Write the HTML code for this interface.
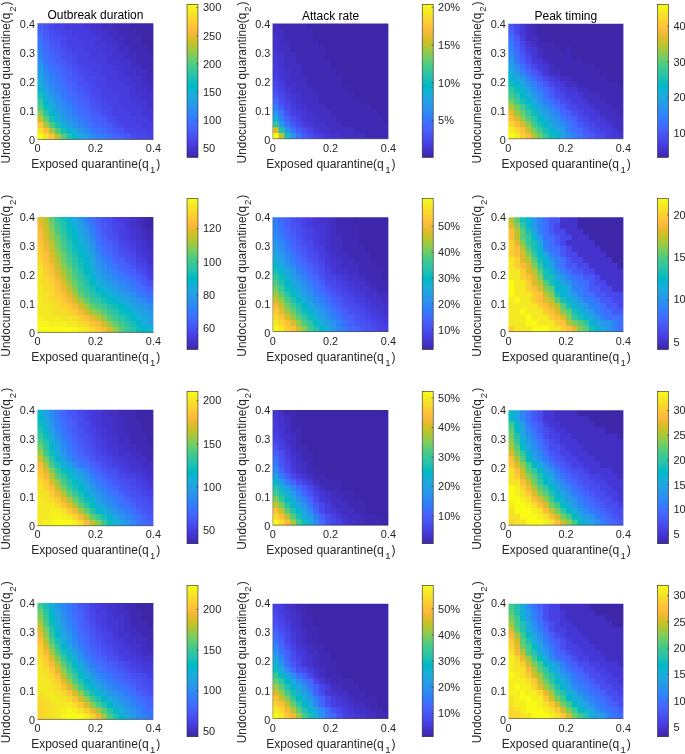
<!DOCTYPE html>
<html><head><meta charset="utf-8"><title>Figure</title>
<style>html,body{margin:0;padding:0;background:#fff;overflow:hidden}body{width:685px;height:754px;position:relative}svg{will-change:transform}</style></head>
<body>
<svg width="685" height="754" viewBox="0 0 685 754" style="position:absolute;left:0;top:0;font-family:'Liberation Sans',sans-serif">
<defs><linearGradient id="pg" x1="0" y1="0" x2="0" y2="1"><stop offset="0.0000" stop-color="#f9fb15"/><stop offset="0.0159" stop-color="#f7f51b"/><stop offset="0.0317" stop-color="#f6ef20"/><stop offset="0.0476" stop-color="#f5e924"/><stop offset="0.0635" stop-color="#f5e327"/><stop offset="0.0794" stop-color="#f7dc2a"/><stop offset="0.0952" stop-color="#fad62d"/><stop offset="0.1111" stop-color="#fccf30"/><stop offset="0.1270" stop-color="#fec934"/><stop offset="0.1429" stop-color="#fec338"/><stop offset="0.1587" stop-color="#febe3c"/><stop offset="0.1746" stop-color="#f8ba3d"/><stop offset="0.1905" stop-color="#f0ba36"/><stop offset="0.2063" stop-color="#e6bb2d"/><stop offset="0.2222" stop-color="#dcbd29"/><stop offset="0.2381" stop-color="#d1bf27"/><stop offset="0.2540" stop-color="#c5c22a"/><stop offset="0.2698" stop-color="#b9c431"/><stop offset="0.2857" stop-color="#abc739"/><stop offset="0.3016" stop-color="#9dc943"/><stop offset="0.3175" stop-color="#8fcb4e"/><stop offset="0.3333" stop-color="#81cc59"/><stop offset="0.3492" stop-color="#72cd64"/><stop offset="0.3651" stop-color="#64cd6f"/><stop offset="0.3810" stop-color="#57cc7a"/><stop offset="0.3968" stop-color="#4acb84"/><stop offset="0.4127" stop-color="#3fca8e"/><stop offset="0.4286" stop-color="#37c897"/><stop offset="0.4444" stop-color="#31c69f"/><stop offset="0.4603" stop-color="#2cc4a7"/><stop offset="0.4762" stop-color="#24c1ae"/><stop offset="0.4921" stop-color="#19bfb6"/><stop offset="0.5079" stop-color="#0bbdbd"/><stop offset="0.5238" stop-color="#02bac3"/><stop offset="0.5397" stop-color="#01b8ca"/><stop offset="0.5556" stop-color="#08b5d0"/><stop offset="0.5714" stop-color="#12b1d6"/><stop offset="0.5873" stop-color="#18addb"/><stop offset="0.6032" stop-color="#1ca9df"/><stop offset="0.6190" stop-color="#20a5e3"/><stop offset="0.6349" stop-color="#23a0e5"/><stop offset="0.6508" stop-color="#259be8"/><stop offset="0.6667" stop-color="#2797eb"/><stop offset="0.6825" stop-color="#2b91ef"/><stop offset="0.6984" stop-color="#2d8cf3"/><stop offset="0.7143" stop-color="#2e87f7"/><stop offset="0.7302" stop-color="#2f81fa"/><stop offset="0.7460" stop-color="#327cfc"/><stop offset="0.7619" stop-color="#3875fe"/><stop offset="0.7778" stop-color="#3e6fff"/><stop offset="0.7937" stop-color="#4269fe"/><stop offset="0.8095" stop-color="#4563fd"/><stop offset="0.8254" stop-color="#465efb"/><stop offset="0.8413" stop-color="#4758f8"/><stop offset="0.8571" stop-color="#4852f4"/><stop offset="0.8730" stop-color="#484df0"/><stop offset="0.8889" stop-color="#4747eb"/><stop offset="0.9048" stop-color="#4741e5"/><stop offset="0.9206" stop-color="#463cde"/><stop offset="0.9365" stop-color="#4537d5"/><stop offset="0.9524" stop-color="#4332cb"/><stop offset="0.9683" stop-color="#422ec0"/><stop offset="0.9841" stop-color="#402ab4"/><stop offset="1.0000" stop-color="#3e26a8"/></linearGradient></defs>
<g transform="translate(37.45,23.3) scale(5.79750,5.81250)">
<path d="M-0.5 -0.5h1.8v1.8h-1.8z" fill="#465efb"/>
<path d="M1 -0.5h1.3v1.8h-1.3z" fill="#4852f4"/>
<path d="M2 -0.5h1.3v1.8h-1.3z" fill="#4747eb"/>
<path d="M3 -0.5h2.3v1.8h-2.3z" fill="#4741e5"/>
<path d="M5 -0.5h3.3v1.8h-3.3z" fill="#463cde"/>
<path d="M8 -0.5h1.3v1.8h-1.3z" fill="#4537d5"/>
<path d="M9 -0.5h2.3v1.8h-2.3z" fill="#4332cb"/>
<path d="M11 -0.5h2.3v1.8h-2.3z" fill="#422ec0"/>
<path d="M13 -0.5h3.3v1.8h-3.3z" fill="#402ab4"/>
<path d="M16 -0.5h4.5v1.8h-4.5z" fill="#3e26a8"/>
<path d="M-0.5 1h1.8v1.3h-1.8z" fill="#4563fd"/>
<path d="M1 1h1.3v1.3h-1.3z" fill="#4758f8"/>
<path d="M2 1h1.3v1.3h-1.3z" fill="#484df0"/>
<path d="M3 1h1.3v1.3h-1.3z" fill="#4747eb"/>
<path d="M4 1h2.3v1.3h-2.3z" fill="#4741e5"/>
<path d="M6 1h3.3v1.3h-3.3z" fill="#463cde"/>
<path d="M9 1h1.3v1.3h-1.3z" fill="#4537d5"/>
<path d="M10 1h2.3v1.3h-2.3z" fill="#4332cb"/>
<path d="M12 1h2.3v1.3h-2.3z" fill="#422ec0"/>
<path d="M14 1h3.3v1.3h-3.3z" fill="#402ab4"/>
<path d="M17 1h3.5v1.3h-3.5z" fill="#3e26a8"/>
<path d="M-0.5 2h1.8v1.3h-1.8z" fill="#3e6fff"/>
<path d="M1 2h1.3v1.3h-1.3z" fill="#465efb"/>
<path d="M2 2h1.3v1.3h-1.3z" fill="#4852f4"/>
<path d="M3 2h1.3v1.3h-1.3z" fill="#484df0"/>
<path d="M4 2h1.3v1.3h-1.3z" fill="#4747eb"/>
<path d="M5 2h2.3v1.3h-2.3z" fill="#4741e5"/>
<path d="M7 2h3.3v1.3h-3.3z" fill="#463cde"/>
<path d="M10 2h1.3v1.3h-1.3z" fill="#4537d5"/>
<path d="M11 2h2.3v1.3h-2.3z" fill="#4332cb"/>
<path d="M13 2h2.3v1.3h-2.3z" fill="#422ec0"/>
<path d="M15 2h3.3v1.3h-3.3z" fill="#402ab4"/>
<path d="M18 2h2.5v1.3h-2.5z" fill="#3e26a8"/>
<path d="M-0.5 3h1.8v1.3h-1.8z" fill="#3875fe"/>
<path d="M1 3h1.3v1.3h-1.3z" fill="#4563fd"/>
<path d="M2 3h1.3v1.3h-1.3z" fill="#4758f8"/>
<path d="M3 3h1.3v1.3h-1.3z" fill="#4852f4"/>
<path d="M4 3h1.3v1.3h-1.3z" fill="#4747eb"/>
<path d="M5 3h3.3v1.3h-3.3z" fill="#4741e5"/>
<path d="M8 3h2.3v1.3h-2.3z" fill="#463cde"/>
<path d="M10 3h2.3v1.3h-2.3z" fill="#4537d5"/>
<path d="M12 3h2.3v1.3h-2.3z" fill="#4332cb"/>
<path d="M14 3h1.3v1.3h-1.3z" fill="#422ec0"/>
<path d="M15 3h3.3v1.3h-3.3z" fill="#402ab4"/>
<path d="M18 3h2.5v1.3h-2.5z" fill="#3e26a8"/>
<path d="M-0.5 4h1.8v1.3h-1.8z" fill="#327cfc"/>
<path d="M1 4h1.3v1.3h-1.3z" fill="#4269fe"/>
<path d="M2 4h1.3v1.3h-1.3z" fill="#465efb"/>
<path d="M3 4h1.3v1.3h-1.3z" fill="#4758f8"/>
<path d="M4 4h1.3v1.3h-1.3z" fill="#484df0"/>
<path d="M5 4h1.3v1.3h-1.3z" fill="#4747eb"/>
<path d="M6 4h2.3v1.3h-2.3z" fill="#4741e5"/>
<path d="M8 4h3.3v1.3h-3.3z" fill="#463cde"/>
<path d="M11 4h2.3v1.3h-2.3z" fill="#4537d5"/>
<path d="M13 4h1.3v1.3h-1.3z" fill="#4332cb"/>
<path d="M14 4h2.3v1.3h-2.3z" fill="#422ec0"/>
<path d="M16 4h3.3v1.3h-3.3z" fill="#402ab4"/>
<path d="M19 4h1.5v1.3h-1.5z" fill="#3e26a8"/>
<path d="M-0.5 5h1.8v1.3h-1.8z" fill="#2f81fa"/>
<path d="M1 5h1.3v1.3h-1.3z" fill="#3e6fff"/>
<path d="M2 5h1.3v1.3h-1.3z" fill="#4563fd"/>
<path d="M3 5h1.3v1.3h-1.3z" fill="#465efb"/>
<path d="M4 5h1.3v1.3h-1.3z" fill="#4852f4"/>
<path d="M5 5h1.3v1.3h-1.3z" fill="#484df0"/>
<path d="M6 5h1.3v1.3h-1.3z" fill="#4747eb"/>
<path d="M7 5h2.3v1.3h-2.3z" fill="#4741e5"/>
<path d="M9 5h3.3v1.3h-3.3z" fill="#463cde"/>
<path d="M12 5h1.3v1.3h-1.3z" fill="#4537d5"/>
<path d="M13 5h2.3v1.3h-2.3z" fill="#4332cb"/>
<path d="M15 5h2.3v1.3h-2.3z" fill="#422ec0"/>
<path d="M17 5h3.5v1.3h-3.5z" fill="#402ab4"/>
<path d="M-0.5 6h1.8v1.3h-1.8z" fill="#2d8cf3"/>
<path d="M1 6h1.3v1.3h-1.3z" fill="#3875fe"/>
<path d="M2 6h1.3v1.3h-1.3z" fill="#4269fe"/>
<path d="M3 6h1.3v1.3h-1.3z" fill="#465efb"/>
<path d="M4 6h1.3v1.3h-1.3z" fill="#4758f8"/>
<path d="M5 6h1.3v1.3h-1.3z" fill="#484df0"/>
<path d="M6 6h1.3v1.3h-1.3z" fill="#4747eb"/>
<path d="M7 6h3.3v1.3h-3.3z" fill="#4741e5"/>
<path d="M10 6h2.3v1.3h-2.3z" fill="#463cde"/>
<path d="M12 6h2.3v1.3h-2.3z" fill="#4537d5"/>
<path d="M14 6h2.3v1.3h-2.3z" fill="#4332cb"/>
<path d="M16 6h1.3v1.3h-1.3z" fill="#422ec0"/>
<path d="M17 6h3.5v1.3h-3.5z" fill="#402ab4"/>
<path d="M-0.5 7h1.8v1.3h-1.8z" fill="#2797eb"/>
<path d="M1 7h1.3v1.3h-1.3z" fill="#2f81fa"/>
<path d="M2 7h1.3v1.3h-1.3z" fill="#3e6fff"/>
<path d="M3 7h1.3v1.3h-1.3z" fill="#4269fe"/>
<path d="M4 7h1.3v1.3h-1.3z" fill="#465efb"/>
<path d="M5 7h1.3v1.3h-1.3z" fill="#4758f8"/>
<path d="M6 7h1.3v1.3h-1.3z" fill="#484df0"/>
<path d="M7 7h1.3v1.3h-1.3z" fill="#4747eb"/>
<path d="M8 7h3.3v1.3h-3.3z" fill="#4741e5"/>
<path d="M11 7h2.3v1.3h-2.3z" fill="#463cde"/>
<path d="M13 7h2.3v1.3h-2.3z" fill="#4537d5"/>
<path d="M15 7h1.3v1.3h-1.3z" fill="#4332cb"/>
<path d="M16 7h2.3v1.3h-2.3z" fill="#422ec0"/>
<path d="M18 7h2.5v1.3h-2.5z" fill="#402ab4"/>
<path d="M-0.5 8h1.8v1.3h-1.8z" fill="#23a0e5"/>
<path d="M1 8h1.3v1.3h-1.3z" fill="#2e87f7"/>
<path d="M2 8h1.3v1.3h-1.3z" fill="#327cfc"/>
<path d="M3 8h1.3v1.3h-1.3z" fill="#3e6fff"/>
<path d="M4 8h1.3v1.3h-1.3z" fill="#4563fd"/>
<path d="M5 8h1.3v1.3h-1.3z" fill="#465efb"/>
<path d="M6 8h1.3v1.3h-1.3z" fill="#4852f4"/>
<path d="M7 8h1.3v1.3h-1.3z" fill="#484df0"/>
<path d="M8 8h1.3v1.3h-1.3z" fill="#4747eb"/>
<path d="M9 8h2.3v1.3h-2.3z" fill="#4741e5"/>
<path d="M11 8h3.3v1.3h-3.3z" fill="#463cde"/>
<path d="M14 8h1.3v1.3h-1.3z" fill="#4537d5"/>
<path d="M15 8h2.3v1.3h-2.3z" fill="#4332cb"/>
<path d="M17 8h2.3v1.3h-2.3z" fill="#422ec0"/>
<path d="M19 8h1.5v1.3h-1.5z" fill="#402ab4"/>
<path d="M-0.5 9h1.8v1.3h-1.8z" fill="#20a5e3"/>
<path d="M1 9h1.3v1.3h-1.3z" fill="#2b91ef"/>
<path d="M2 9h1.3v1.3h-1.3z" fill="#2f81fa"/>
<path d="M3 9h1.3v1.3h-1.3z" fill="#3875fe"/>
<path d="M4 9h1.3v1.3h-1.3z" fill="#4269fe"/>
<path d="M5 9h1.3v1.3h-1.3z" fill="#465efb"/>
<path d="M6 9h1.3v1.3h-1.3z" fill="#4758f8"/>
<path d="M7 9h1.3v1.3h-1.3z" fill="#4852f4"/>
<path d="M8 9h2.3v1.3h-2.3z" fill="#4747eb"/>
<path d="M10 9h2.3v1.3h-2.3z" fill="#4741e5"/>
<path d="M12 9h2.3v1.3h-2.3z" fill="#463cde"/>
<path d="M14 9h2.3v1.3h-2.3z" fill="#4537d5"/>
<path d="M16 9h2.3v1.3h-2.3z" fill="#4332cb"/>
<path d="M18 9h1.3v1.3h-1.3z" fill="#422ec0"/>
<path d="M19 9h1.5v1.3h-1.5z" fill="#402ab4"/>
<path d="M-0.5 10h1.8v1.3h-1.8z" fill="#18addb"/>
<path d="M1 10h1.3v1.3h-1.3z" fill="#2797eb"/>
<path d="M2 10h1.3v1.3h-1.3z" fill="#2e87f7"/>
<path d="M3 10h1.3v1.3h-1.3z" fill="#327cfc"/>
<path d="M4 10h1.3v1.3h-1.3z" fill="#3e6fff"/>
<path d="M5 10h1.3v1.3h-1.3z" fill="#4563fd"/>
<path d="M6 10h1.3v1.3h-1.3z" fill="#465efb"/>
<path d="M7 10h1.3v1.3h-1.3z" fill="#4852f4"/>
<path d="M8 10h1.3v1.3h-1.3z" fill="#484df0"/>
<path d="M9 10h1.3v1.3h-1.3z" fill="#4747eb"/>
<path d="M10 10h2.3v1.3h-2.3z" fill="#4741e5"/>
<path d="M12 10h3.3v1.3h-3.3z" fill="#463cde"/>
<path d="M15 10h2.3v1.3h-2.3z" fill="#4537d5"/>
<path d="M17 10h1.3v1.3h-1.3z" fill="#4332cb"/>
<path d="M18 10h2.5v1.3h-2.5z" fill="#422ec0"/>
<path d="M-0.5 11h1.8v1.3h-1.8z" fill="#08b5d0"/>
<path d="M1 11h1.3v1.3h-1.3z" fill="#23a0e5"/>
<path d="M2 11h1.3v1.3h-1.3z" fill="#2d8cf3"/>
<path d="M3 11h1.3v1.3h-1.3z" fill="#2f81fa"/>
<path d="M4 11h1.3v1.3h-1.3z" fill="#3875fe"/>
<path d="M5 11h1.3v1.3h-1.3z" fill="#4269fe"/>
<path d="M6 11h1.3v1.3h-1.3z" fill="#465efb"/>
<path d="M7 11h1.3v1.3h-1.3z" fill="#4758f8"/>
<path d="M8 11h1.3v1.3h-1.3z" fill="#4852f4"/>
<path d="M9 11h2.3v1.3h-2.3z" fill="#4747eb"/>
<path d="M11 11h2.3v1.3h-2.3z" fill="#4741e5"/>
<path d="M13 11h3.3v1.3h-3.3z" fill="#463cde"/>
<path d="M16 11h1.3v1.3h-1.3z" fill="#4537d5"/>
<path d="M17 11h2.3v1.3h-2.3z" fill="#4332cb"/>
<path d="M19 11h1.5v1.3h-1.5z" fill="#422ec0"/>
<path d="M-0.5 12h1.8v1.3h-1.8z" fill="#19bfb6"/>
<path d="M1 12h1.3v1.3h-1.3z" fill="#18addb"/>
<path d="M2 12h1.3v1.3h-1.3z" fill="#2797eb"/>
<path d="M3 12h1.3v1.3h-1.3z" fill="#2d8cf3"/>
<path d="M4 12h1.3v1.3h-1.3z" fill="#327cfc"/>
<path d="M5 12h1.3v1.3h-1.3z" fill="#3e6fff"/>
<path d="M6 12h1.3v1.3h-1.3z" fill="#4269fe"/>
<path d="M7 12h1.3v1.3h-1.3z" fill="#465efb"/>
<path d="M8 12h1.3v1.3h-1.3z" fill="#4758f8"/>
<path d="M9 12h1.3v1.3h-1.3z" fill="#484df0"/>
<path d="M10 12h1.3v1.3h-1.3z" fill="#4747eb"/>
<path d="M11 12h3.3v1.3h-3.3z" fill="#4741e5"/>
<path d="M14 12h2.3v1.3h-2.3z" fill="#463cde"/>
<path d="M16 12h2.3v1.3h-2.3z" fill="#4537d5"/>
<path d="M18 12h2.5v1.3h-2.5z" fill="#4332cb"/>
<path d="M-0.5 13h1.8v1.3h-1.8z" fill="#31c69f"/>
<path d="M1 13h1.3v1.3h-1.3z" fill="#08b5d0"/>
<path d="M2 13h1.3v1.3h-1.3z" fill="#20a5e3"/>
<path d="M3 13h1.3v1.3h-1.3z" fill="#2b91ef"/>
<path d="M4 13h1.3v1.3h-1.3z" fill="#2e87f7"/>
<path d="M5 13h1.3v1.3h-1.3z" fill="#327cfc"/>
<path d="M6 13h1.3v1.3h-1.3z" fill="#4269fe"/>
<path d="M7 13h1.3v1.3h-1.3z" fill="#4563fd"/>
<path d="M8 13h1.3v1.3h-1.3z" fill="#465efb"/>
<path d="M9 13h1.3v1.3h-1.3z" fill="#4852f4"/>
<path d="M10 13h1.3v1.3h-1.3z" fill="#484df0"/>
<path d="M11 13h1.3v1.3h-1.3z" fill="#4747eb"/>
<path d="M12 13h2.3v1.3h-2.3z" fill="#4741e5"/>
<path d="M14 13h3.3v1.3h-3.3z" fill="#463cde"/>
<path d="M17 13h2.3v1.3h-2.3z" fill="#4537d5"/>
<path d="M19 13h1.5v1.3h-1.5z" fill="#4332cb"/>
<path d="M-0.5 14h1.8v1.3h-1.8z" fill="#4acb84"/>
<path d="M1 14h1.3v1.3h-1.3z" fill="#0bbdbd"/>
<path d="M2 14h1.3v1.3h-1.3z" fill="#18addb"/>
<path d="M3 14h1.3v1.3h-1.3z" fill="#259be8"/>
<path d="M4 14h1.3v1.3h-1.3z" fill="#2d8cf3"/>
<path d="M5 14h1.3v1.3h-1.3z" fill="#2f81fa"/>
<path d="M6 14h1.3v1.3h-1.3z" fill="#3875fe"/>
<path d="M7 14h1.3v1.3h-1.3z" fill="#4269fe"/>
<path d="M8 14h1.3v1.3h-1.3z" fill="#4563fd"/>
<path d="M9 14h1.3v1.3h-1.3z" fill="#4758f8"/>
<path d="M10 14h1.3v1.3h-1.3z" fill="#4852f4"/>
<path d="M11 14h2.3v1.3h-2.3z" fill="#4747eb"/>
<path d="M13 14h2.3v1.3h-2.3z" fill="#4741e5"/>
<path d="M15 14h3.3v1.3h-3.3z" fill="#463cde"/>
<path d="M18 14h1.3v1.3h-1.3z" fill="#4537d5"/>
<path d="M19 14h1.5v1.3h-1.5z" fill="#4332cb"/>
<path d="M-0.5 15h1.8v1.3h-1.8z" fill="#81cc59"/>
<path d="M1 15h1.3v1.3h-1.3z" fill="#2cc4a7"/>
<path d="M2 15h1.3v1.3h-1.3z" fill="#01b8ca"/>
<path d="M3 15h1.3v1.3h-1.3z" fill="#20a5e3"/>
<path d="M4 15h1.3v1.3h-1.3z" fill="#2797eb"/>
<path d="M5 15h1.3v1.3h-1.3z" fill="#2e87f7"/>
<path d="M6 15h1.3v1.3h-1.3z" fill="#327cfc"/>
<path d="M7 15h1.3v1.3h-1.3z" fill="#3e6fff"/>
<path d="M8 15h1.3v1.3h-1.3z" fill="#4269fe"/>
<path d="M9 15h1.3v1.3h-1.3z" fill="#465efb"/>
<path d="M10 15h1.3v1.3h-1.3z" fill="#4758f8"/>
<path d="M11 15h1.3v1.3h-1.3z" fill="#484df0"/>
<path d="M12 15h1.3v1.3h-1.3z" fill="#4747eb"/>
<path d="M13 15h3.3v1.3h-3.3z" fill="#4741e5"/>
<path d="M16 15h2.3v1.3h-2.3z" fill="#463cde"/>
<path d="M18 15h2.5v1.3h-2.5z" fill="#4537d5"/>
<path d="M-0.5 16h1.8v1.3h-1.8z" fill="#d1bf27"/>
<path d="M1 16h1.3v1.3h-1.3z" fill="#57cc7a"/>
<path d="M2 16h1.3v1.3h-1.3z" fill="#19bfb6"/>
<path d="M3 16h1.3v1.3h-1.3z" fill="#12b1d6"/>
<path d="M4 16h1.3v1.3h-1.3z" fill="#23a0e5"/>
<path d="M5 16h1.3v1.3h-1.3z" fill="#2b91ef"/>
<path d="M6 16h1.3v1.3h-1.3z" fill="#2e87f7"/>
<path d="M7 16h1.3v1.3h-1.3z" fill="#327cfc"/>
<path d="M8 16h1.3v1.3h-1.3z" fill="#3e6fff"/>
<path d="M9 16h1.3v1.3h-1.3z" fill="#4563fd"/>
<path d="M10 16h1.3v1.3h-1.3z" fill="#465efb"/>
<path d="M11 16h1.3v1.3h-1.3z" fill="#4758f8"/>
<path d="M12 16h1.3v1.3h-1.3z" fill="#484df0"/>
<path d="M13 16h1.3v1.3h-1.3z" fill="#4747eb"/>
<path d="M14 16h3.3v1.3h-3.3z" fill="#4741e5"/>
<path d="M17 16h2.3v1.3h-2.3z" fill="#463cde"/>
<path d="M19 16h1.5v1.3h-1.5z" fill="#4537d5"/>
<path d="M-0.5 17h1.8v1.3h-1.8z" fill="#fec338"/>
<path d="M1 17h1.3v1.3h-1.3z" fill="#abc739"/>
<path d="M2 17h1.3v1.3h-1.3z" fill="#4acb84"/>
<path d="M3 17h1.3v1.3h-1.3z" fill="#19bfb6"/>
<path d="M4 17h1.3v1.3h-1.3z" fill="#12b1d6"/>
<path d="M5 17h1.3v1.3h-1.3z" fill="#23a0e5"/>
<path d="M6 17h1.3v1.3h-1.3z" fill="#2b91ef"/>
<path d="M7 17h1.3v1.3h-1.3z" fill="#2e87f7"/>
<path d="M8 17h1.3v1.3h-1.3z" fill="#327cfc"/>
<path d="M9 17h1.3v1.3h-1.3z" fill="#3e6fff"/>
<path d="M10 17h1.3v1.3h-1.3z" fill="#4563fd"/>
<path d="M11 17h1.3v1.3h-1.3z" fill="#465efb"/>
<path d="M12 17h1.3v1.3h-1.3z" fill="#4758f8"/>
<path d="M13 17h1.3v1.3h-1.3z" fill="#484df0"/>
<path d="M14 17h1.3v1.3h-1.3z" fill="#4747eb"/>
<path d="M15 17h3.3v1.3h-3.3z" fill="#4741e5"/>
<path d="M18 17h2.5v1.3h-2.5z" fill="#463cde"/>
<path d="M-0.5 18h1.8v1.3h-1.8z" fill="#f5e327"/>
<path d="M1 18h1.3v1.3h-1.3z" fill="#febe3c"/>
<path d="M2 18h1.3v1.3h-1.3z" fill="#abc739"/>
<path d="M3 18h1.3v1.3h-1.3z" fill="#4acb84"/>
<path d="M4 18h1.3v1.3h-1.3z" fill="#19bfb6"/>
<path d="M5 18h1.3v1.3h-1.3z" fill="#08b5d0"/>
<path d="M6 18h1.3v1.3h-1.3z" fill="#20a5e3"/>
<path d="M7 18h1.3v1.3h-1.3z" fill="#2797eb"/>
<path d="M8 18h1.3v1.3h-1.3z" fill="#2e87f7"/>
<path d="M9 18h1.3v1.3h-1.3z" fill="#327cfc"/>
<path d="M10 18h1.3v1.3h-1.3z" fill="#3e6fff"/>
<path d="M11 18h1.3v1.3h-1.3z" fill="#4269fe"/>
<path d="M12 18h1.3v1.3h-1.3z" fill="#465efb"/>
<path d="M13 18h1.3v1.3h-1.3z" fill="#4758f8"/>
<path d="M14 18h1.3v1.3h-1.3z" fill="#4852f4"/>
<path d="M15 18h2.3v1.3h-2.3z" fill="#4747eb"/>
<path d="M17 18h2.3v1.3h-2.3z" fill="#4741e5"/>
<path d="M19 18h1.5v1.3h-1.5z" fill="#463cde"/>
<path d="M-0.5 19h1.8v1.5h-1.8z" fill="#f9fb15"/>
<path d="M1 19h1.3v1.5h-1.3z" fill="#f5e327"/>
<path d="M2 19h1.3v1.5h-1.3z" fill="#fec338"/>
<path d="M3 19h1.3v1.5h-1.3z" fill="#b9c431"/>
<path d="M4 19h1.3v1.5h-1.3z" fill="#57cc7a"/>
<path d="M5 19h1.3v1.5h-1.3z" fill="#24c1ae"/>
<path d="M6 19h1.3v1.5h-1.3z" fill="#01b8ca"/>
<path d="M7 19h1.3v1.5h-1.3z" fill="#1ca9df"/>
<path d="M8 19h1.3v1.5h-1.3z" fill="#259be8"/>
<path d="M9 19h1.3v1.5h-1.3z" fill="#2d8cf3"/>
<path d="M10 19h1.3v1.5h-1.3z" fill="#2f81fa"/>
<path d="M11 19h1.3v1.5h-1.3z" fill="#327cfc"/>
<path d="M12 19h1.3v1.5h-1.3z" fill="#3e6fff"/>
<path d="M13 19h1.3v1.5h-1.3z" fill="#4563fd"/>
<path d="M14 19h1.3v1.5h-1.3z" fill="#465efb"/>
<path d="M15 19h1.3v1.5h-1.3z" fill="#4758f8"/>
<path d="M16 19h1.3v1.5h-1.3z" fill="#484df0"/>
<path d="M17 19h2.3v1.5h-2.3z" fill="#4747eb"/>
<path d="M19 19h1.5v1.5h-1.5z" fill="#4741e5"/>
</g>
<path fill="#fff" fill-rule="evenodd" d="M32.95 18.8h124.95v125.25h-124.95zM37.45 23.3h115.95v116.25h-115.95z"/>
<path d="M37.45 139.45H153.4" fill="none" stroke="#262626" stroke-width="0.7" stroke-opacity="0.8"/>
<text x="95.43" y="19.4" font-size="12" fill="#000" text-anchor="middle">Outbreak duration</text>
<text x="37.45" y="152.1" font-size="10.85" fill="#262626" text-anchor="middle">0</text>
<text x="95.43" y="152.1" font-size="10.85" fill="#262626" text-anchor="middle">0.2</text>
<text x="153.4" y="152.1" font-size="10.85" fill="#262626" text-anchor="middle">0.4</text>
<text x="34.95" y="143.75" font-size="10.85" fill="#262626" text-anchor="end">0</text>
<text x="34.95" y="114.69" font-size="10.85" fill="#262626" text-anchor="end">0.1</text>
<text x="34.95" y="85.63" font-size="10.85" fill="#262626" text-anchor="end">0.2</text>
<text x="34.95" y="56.56" font-size="10.85" fill="#262626" text-anchor="end">0.3</text>
<text x="34.95" y="27.5" font-size="10.85" fill="#262626" text-anchor="end">0.4</text>
<text x="95.73" y="167.7" font-size="12" fill="#262626" text-anchor="middle">Exposed quarantine(q<tspan font-size="9.6" dy="5.4" dx="1.4">1</tspan><tspan dy="-5.4" dx="1.0" font-size="12">)</tspan></text>
<text transform="translate(10.15,82.43) rotate(-90)" font-size="11.9" fill="#262626" text-anchor="middle">Undocumented quarantine(q<tspan font-size="9.6" dy="5.4" dx="0.9">2</tspan><tspan dy="-5.4" dx="1.0" font-size="11.9">)</tspan></text>
<rect x="187" y="4.3" width="11" height="153.1" fill="url(#pg)" stroke="#262626" stroke-width="0.6"/>
<path d="M196.5 148.13h1.5" stroke="#262626" stroke-width="0.6"/>
<text x="202.9" y="151.93" font-size="11" fill="#262626">50</text>
<path d="M196.5 120.02h1.5" stroke="#262626" stroke-width="0.6"/>
<text x="202.9" y="123.82" font-size="11" fill="#262626">100</text>
<path d="M196.5 91.92h1.5" stroke="#262626" stroke-width="0.6"/>
<text x="202.9" y="95.72" font-size="11" fill="#262626">150</text>
<path d="M196.5 63.82h1.5" stroke="#262626" stroke-width="0.6"/>
<text x="202.9" y="67.62" font-size="11" fill="#262626">200</text>
<path d="M196.5 35.72h1.5" stroke="#262626" stroke-width="0.6"/>
<text x="202.9" y="39.52" font-size="11" fill="#262626">250</text>
<path d="M196.5 7.62h1.5" stroke="#262626" stroke-width="0.6"/>
<text x="202.9" y="11.42" font-size="11" fill="#262626">300</text>
<g transform="translate(272.85,23.5) scale(5.77750,5.76800)">
<path d="M-0.5 -0.5h1.8v1.8h-1.8z" fill="#422ec0"/>
<path d="M1 -0.5h5.3v1.8h-5.3z" fill="#402ab4"/>
<path d="M6 -0.5h14.5v1.8h-14.5z" fill="#3e26a8"/>
<path d="M-0.5 1h2.8v1.3h-2.8z" fill="#422ec0"/>
<path d="M2 1h5.3v1.3h-5.3z" fill="#402ab4"/>
<path d="M7 1h13.5v1.3h-13.5z" fill="#3e26a8"/>
<path d="M-0.5 2h1.8v1.3h-1.8z" fill="#4332cb"/>
<path d="M1 2h1.3v1.3h-1.3z" fill="#422ec0"/>
<path d="M2 2h5.3v1.3h-5.3z" fill="#402ab4"/>
<path d="M7 2h13.5v1.3h-13.5z" fill="#3e26a8"/>
<path d="M-0.5 3h1.8v1.3h-1.8z" fill="#4332cb"/>
<path d="M1 3h2.3v1.3h-2.3z" fill="#422ec0"/>
<path d="M3 3h5.3v1.3h-5.3z" fill="#402ab4"/>
<path d="M8 3h12.5v1.3h-12.5z" fill="#3e26a8"/>
<path d="M-0.5 4h1.8v1.3h-1.8z" fill="#4332cb"/>
<path d="M1 4h2.3v1.3h-2.3z" fill="#422ec0"/>
<path d="M3 4h6.3v1.3h-6.3z" fill="#402ab4"/>
<path d="M9 4h11.5v1.3h-11.5z" fill="#3e26a8"/>
<path d="M-0.5 5h1.8v1.3h-1.8z" fill="#4537d5"/>
<path d="M1 5h1.3v1.3h-1.3z" fill="#4332cb"/>
<path d="M2 5h2.3v1.3h-2.3z" fill="#422ec0"/>
<path d="M4 5h5.3v1.3h-5.3z" fill="#402ab4"/>
<path d="M9 5h11.5v1.3h-11.5z" fill="#3e26a8"/>
<path d="M-0.5 6h1.8v1.3h-1.8z" fill="#4537d5"/>
<path d="M1 6h1.3v1.3h-1.3z" fill="#4332cb"/>
<path d="M2 6h2.3v1.3h-2.3z" fill="#422ec0"/>
<path d="M4 6h6.3v1.3h-6.3z" fill="#402ab4"/>
<path d="M10 6h10.5v1.3h-10.5z" fill="#3e26a8"/>
<path d="M-0.5 7h1.8v1.3h-1.8z" fill="#463cde"/>
<path d="M1 7h1.3v1.3h-1.3z" fill="#4332cb"/>
<path d="M2 7h3.3v1.3h-3.3z" fill="#422ec0"/>
<path d="M5 7h5.3v1.3h-5.3z" fill="#402ab4"/>
<path d="M10 7h10.5v1.3h-10.5z" fill="#3e26a8"/>
<path d="M-0.5 8h1.8v1.3h-1.8z" fill="#463cde"/>
<path d="M1 8h1.3v1.3h-1.3z" fill="#4537d5"/>
<path d="M2 8h1.3v1.3h-1.3z" fill="#4332cb"/>
<path d="M3 8h2.3v1.3h-2.3z" fill="#422ec0"/>
<path d="M5 8h6.3v1.3h-6.3z" fill="#402ab4"/>
<path d="M11 8h9.5v1.3h-9.5z" fill="#3e26a8"/>
<path d="M-0.5 9h1.8v1.3h-1.8z" fill="#4741e5"/>
<path d="M1 9h1.3v1.3h-1.3z" fill="#4537d5"/>
<path d="M2 9h1.3v1.3h-1.3z" fill="#4332cb"/>
<path d="M3 9h3.3v1.3h-3.3z" fill="#422ec0"/>
<path d="M6 9h6.3v1.3h-6.3z" fill="#402ab4"/>
<path d="M12 9h8.5v1.3h-8.5z" fill="#3e26a8"/>
<path d="M-0.5 10h1.8v1.3h-1.8z" fill="#4747eb"/>
<path d="M1 10h1.3v1.3h-1.3z" fill="#463cde"/>
<path d="M2 10h2.3v1.3h-2.3z" fill="#4332cb"/>
<path d="M4 10h2.3v1.3h-2.3z" fill="#422ec0"/>
<path d="M6 10h6.3v1.3h-6.3z" fill="#402ab4"/>
<path d="M12 10h8.5v1.3h-8.5z" fill="#3e26a8"/>
<path d="M-0.5 11h1.8v1.3h-1.8z" fill="#484df0"/>
<path d="M1 11h1.3v1.3h-1.3z" fill="#4741e5"/>
<path d="M2 11h1.3v1.3h-1.3z" fill="#4537d5"/>
<path d="M3 11h1.3v1.3h-1.3z" fill="#4332cb"/>
<path d="M4 11h3.3v1.3h-3.3z" fill="#422ec0"/>
<path d="M7 11h6.3v1.3h-6.3z" fill="#402ab4"/>
<path d="M13 11h7.5v1.3h-7.5z" fill="#3e26a8"/>
<path d="M-0.5 12h1.8v1.3h-1.8z" fill="#4758f8"/>
<path d="M1 12h1.3v1.3h-1.3z" fill="#4747eb"/>
<path d="M2 12h1.3v1.3h-1.3z" fill="#463cde"/>
<path d="M3 12h1.3v1.3h-1.3z" fill="#4537d5"/>
<path d="M4 12h1.3v1.3h-1.3z" fill="#4332cb"/>
<path d="M5 12h3.3v1.3h-3.3z" fill="#422ec0"/>
<path d="M8 12h6.3v1.3h-6.3z" fill="#402ab4"/>
<path d="M14 12h6.5v1.3h-6.5z" fill="#3e26a8"/>
<path d="M-0.5 13h1.8v1.3h-1.8z" fill="#4269fe"/>
<path d="M1 13h1.3v1.3h-1.3z" fill="#484df0"/>
<path d="M2 13h1.3v1.3h-1.3z" fill="#4741e5"/>
<path d="M3 13h1.3v1.3h-1.3z" fill="#4537d5"/>
<path d="M4 13h1.3v1.3h-1.3z" fill="#4332cb"/>
<path d="M5 13h3.3v1.3h-3.3z" fill="#422ec0"/>
<path d="M8 13h7.3v1.3h-7.3z" fill="#402ab4"/>
<path d="M15 13h5.5v1.3h-5.5z" fill="#3e26a8"/>
<path d="M-0.5 14h1.8v1.3h-1.8z" fill="#327cfc"/>
<path d="M1 14h1.3v1.3h-1.3z" fill="#4758f8"/>
<path d="M2 14h1.3v1.3h-1.3z" fill="#4747eb"/>
<path d="M3 14h1.3v1.3h-1.3z" fill="#463cde"/>
<path d="M4 14h1.3v1.3h-1.3z" fill="#4537d5"/>
<path d="M5 14h1.3v1.3h-1.3z" fill="#4332cb"/>
<path d="M6 14h3.3v1.3h-3.3z" fill="#422ec0"/>
<path d="M9 14h8.3v1.3h-8.3z" fill="#402ab4"/>
<path d="M17 14h3.5v1.3h-3.5z" fill="#3e26a8"/>
<path d="M-0.5 15h1.8v1.3h-1.8z" fill="#2797eb"/>
<path d="M1 15h1.3v1.3h-1.3z" fill="#3e6fff"/>
<path d="M2 15h1.3v1.3h-1.3z" fill="#4852f4"/>
<path d="M3 15h1.3v1.3h-1.3z" fill="#4741e5"/>
<path d="M4 15h1.3v1.3h-1.3z" fill="#463cde"/>
<path d="M5 15h1.3v1.3h-1.3z" fill="#4537d5"/>
<path d="M6 15h1.3v1.3h-1.3z" fill="#4332cb"/>
<path d="M7 15h3.3v1.3h-3.3z" fill="#422ec0"/>
<path d="M10 15h8.3v1.3h-8.3z" fill="#402ab4"/>
<path d="M18 15h2.5v1.3h-2.5z" fill="#3e26a8"/>
<path d="M-0.5 16h1.8v1.3h-1.8z" fill="#18addb"/>
<path d="M1 16h1.3v1.3h-1.3z" fill="#2f81fa"/>
<path d="M2 16h1.3v1.3h-1.3z" fill="#465efb"/>
<path d="M3 16h1.3v1.3h-1.3z" fill="#484df0"/>
<path d="M4 16h1.3v1.3h-1.3z" fill="#4741e5"/>
<path d="M5 16h1.3v1.3h-1.3z" fill="#4537d5"/>
<path d="M6 16h2.3v1.3h-2.3z" fill="#4332cb"/>
<path d="M8 16h3.3v1.3h-3.3z" fill="#422ec0"/>
<path d="M11 16h8.3v1.3h-8.3z" fill="#402ab4"/>
<path d="M19 16h1.5v1.3h-1.5z" fill="#3e26a8"/>
<path d="M-0.5 17h1.8v1.3h-1.8z" fill="#31c69f"/>
<path d="M1 17h1.3v1.3h-1.3z" fill="#259be8"/>
<path d="M2 17h1.3v1.3h-1.3z" fill="#3875fe"/>
<path d="M3 17h1.3v1.3h-1.3z" fill="#4758f8"/>
<path d="M4 17h1.3v1.3h-1.3z" fill="#4747eb"/>
<path d="M5 17h1.3v1.3h-1.3z" fill="#463cde"/>
<path d="M6 17h1.3v1.3h-1.3z" fill="#4537d5"/>
<path d="M7 17h2.3v1.3h-2.3z" fill="#4332cb"/>
<path d="M9 17h3.3v1.3h-3.3z" fill="#422ec0"/>
<path d="M12 17h8.5v1.3h-8.5z" fill="#402ab4"/>
<path d="M-0.5 18h1.8v1.3h-1.8z" fill="#dcbd29"/>
<path d="M1 18h1.3v1.3h-1.3z" fill="#24c1ae"/>
<path d="M2 18h1.3v1.3h-1.3z" fill="#2797eb"/>
<path d="M3 18h1.3v1.3h-1.3z" fill="#3875fe"/>
<path d="M4 18h1.3v1.3h-1.3z" fill="#4758f8"/>
<path d="M5 18h1.3v1.3h-1.3z" fill="#484df0"/>
<path d="M6 18h1.3v1.3h-1.3z" fill="#4741e5"/>
<path d="M7 18h1.3v1.3h-1.3z" fill="#4537d5"/>
<path d="M8 18h2.3v1.3h-2.3z" fill="#4332cb"/>
<path d="M10 18h4.3v1.3h-4.3z" fill="#422ec0"/>
<path d="M14 18h6.5v1.3h-6.5z" fill="#402ab4"/>
<path d="M-0.5 19h1.8v1.5h-1.8z" fill="#f9fb15"/>
<path d="M1 19h1.3v1.5h-1.3z" fill="#b9c431"/>
<path d="M2 19h1.3v1.5h-1.3z" fill="#19bfb6"/>
<path d="M3 19h1.3v1.5h-1.3z" fill="#2797eb"/>
<path d="M4 19h1.3v1.5h-1.3z" fill="#3875fe"/>
<path d="M5 19h1.3v1.5h-1.3z" fill="#4758f8"/>
<path d="M6 19h1.3v1.5h-1.3z" fill="#484df0"/>
<path d="M7 19h1.3v1.5h-1.3z" fill="#4741e5"/>
<path d="M8 19h1.3v1.5h-1.3z" fill="#463cde"/>
<path d="M9 19h1.3v1.5h-1.3z" fill="#4537d5"/>
<path d="M10 19h2.3v1.5h-2.3z" fill="#4332cb"/>
<path d="M12 19h4.3v1.5h-4.3z" fill="#422ec0"/>
<path d="M16 19h4.5v1.5h-4.5z" fill="#402ab4"/>
</g>
<path fill="#fff" fill-rule="evenodd" d="M268.35 19h124.55v124.36h-124.55zM272.85 23.5h115.55v115.36h-115.55z"/>
<path d="M272.85 138.76H388.4" fill="none" stroke="#262626" stroke-width="0.7" stroke-opacity="0.8"/>
<path d="M272.75 23.5V138.86" fill="none" stroke="#262626" stroke-width="0.6" stroke-opacity="0.6"/>
<text x="330.62" y="19.6" font-size="12" fill="#000" text-anchor="middle">Attack rate</text>
<text x="272.85" y="152.1" font-size="10.85" fill="#262626" text-anchor="middle">0</text>
<text x="330.62" y="152.1" font-size="10.85" fill="#262626" text-anchor="middle">0.2</text>
<text x="388.4" y="152.1" font-size="10.85" fill="#262626" text-anchor="middle">0.4</text>
<text x="270.35" y="143.75" font-size="10.85" fill="#262626" text-anchor="end">0</text>
<text x="270.35" y="114.69" font-size="10.85" fill="#262626" text-anchor="end">0.1</text>
<text x="270.35" y="85.63" font-size="10.85" fill="#262626" text-anchor="end">0.2</text>
<text x="270.35" y="56.56" font-size="10.85" fill="#262626" text-anchor="end">0.3</text>
<text x="270.35" y="27.5" font-size="10.85" fill="#262626" text-anchor="end">0.4</text>
<text x="330.93" y="167.7" font-size="12" fill="#262626" text-anchor="middle">Exposed quarantine(q<tspan font-size="9.6" dy="5.4" dx="1.4">1</tspan><tspan dy="-5.4" dx="1.0" font-size="12">)</tspan></text>
<text transform="translate(245.55,82.43) rotate(-90)" font-size="11.9" fill="#262626" text-anchor="middle">Undocumented quarantine(q<tspan font-size="9.6" dy="5.4" dx="0.9">2</tspan><tspan dy="-5.4" dx="1.0" font-size="11.9">)</tspan></text>
<rect x="422.2" y="4.3" width="11" height="153.1" fill="url(#pg)" stroke="#262626" stroke-width="0.6"/>
<path d="M431.7 120.44h1.5" stroke="#262626" stroke-width="0.6"/>
<text x="438.1" y="124.24" font-size="11" fill="#262626">5%</text>
<path d="M431.7 82.74h1.5" stroke="#262626" stroke-width="0.6"/>
<text x="438.1" y="86.54" font-size="11" fill="#262626">10%</text>
<path d="M431.7 45.03h1.5" stroke="#262626" stroke-width="0.6"/>
<text x="438.1" y="48.83" font-size="11" fill="#262626">15%</text>
<path d="M431.7 7.32h1.5" stroke="#262626" stroke-width="0.6"/>
<text x="438.1" y="11.12" font-size="11" fill="#262626">20%</text>
<g transform="translate(508.3,23.7) scale(5.75500,5.75800)">
<path d="M-0.5 -0.5h1.8v1.8h-1.8z" fill="#4758f8"/>
<path d="M1 -0.5h1.3v1.8h-1.3z" fill="#4747eb"/>
<path d="M2 -0.5h1.3v1.8h-1.3z" fill="#4537d5"/>
<path d="M3 -0.5h1.3v1.8h-1.3z" fill="#422ec0"/>
<path d="M4 -0.5h1.3v1.8h-1.3z" fill="#402ab4"/>
<path d="M5 -0.5h15.5v1.8h-15.5z" fill="#3e26a8"/>
<path d="M-0.5 1h1.8v1.3h-1.8z" fill="#465efb"/>
<path d="M1 1h1.3v1.3h-1.3z" fill="#4747eb"/>
<path d="M2 1h1.3v1.3h-1.3z" fill="#4537d5"/>
<path d="M3 1h1.3v1.3h-1.3z" fill="#422ec0"/>
<path d="M4 1h1.3v1.3h-1.3z" fill="#402ab4"/>
<path d="M5 1h15.5v1.3h-15.5z" fill="#3e26a8"/>
<path d="M-0.5 2h1.8v1.3h-1.8z" fill="#3e6fff"/>
<path d="M1 2h1.3v1.3h-1.3z" fill="#4758f8"/>
<path d="M2 2h1.3v1.3h-1.3z" fill="#463cde"/>
<path d="M3 2h2.3v1.3h-2.3z" fill="#422ec0"/>
<path d="M5 2h1.3v1.3h-1.3z" fill="#402ab4"/>
<path d="M6 2h14.5v1.3h-14.5z" fill="#3e26a8"/>
<path d="M-0.5 3h1.8v1.3h-1.8z" fill="#327cfc"/>
<path d="M1 3h1.3v1.3h-1.3z" fill="#465efb"/>
<path d="M2 3h1.3v1.3h-1.3z" fill="#4747eb"/>
<path d="M3 3h1.3v1.3h-1.3z" fill="#4537d5"/>
<path d="M4 3h1.3v1.3h-1.3z" fill="#422ec0"/>
<path d="M5 3h3.3v1.3h-3.3z" fill="#402ab4"/>
<path d="M8 3h12.5v1.3h-12.5z" fill="#3e26a8"/>
<path d="M-0.5 4h1.8v1.3h-1.8z" fill="#2f81fa"/>
<path d="M1 4h1.3v1.3h-1.3z" fill="#4269fe"/>
<path d="M2 4h1.3v1.3h-1.3z" fill="#484df0"/>
<path d="M3 4h1.3v1.3h-1.3z" fill="#463cde"/>
<path d="M4 4h1.3v1.3h-1.3z" fill="#4537d5"/>
<path d="M5 4h1.3v1.3h-1.3z" fill="#422ec0"/>
<path d="M6 4h3.3v1.3h-3.3z" fill="#402ab4"/>
<path d="M9 4h1.3v1.3h-1.3z" fill="#3e26a8"/>
<path d="M10 4h1.3v1.3h-1.3z" fill="#402ab4"/>
<path d="M11 4h9.5v1.3h-9.5z" fill="#3e26a8"/>
<path d="M-0.5 5h1.8v1.3h-1.8z" fill="#2d8cf3"/>
<path d="M1 5h1.3v1.3h-1.3z" fill="#3e6fff"/>
<path d="M2 5h1.3v1.3h-1.3z" fill="#4758f8"/>
<path d="M3 5h1.3v1.3h-1.3z" fill="#4747eb"/>
<path d="M4 5h1.3v1.3h-1.3z" fill="#4537d5"/>
<path d="M5 5h1.3v1.3h-1.3z" fill="#422ec0"/>
<path d="M6 5h5.3v1.3h-5.3z" fill="#402ab4"/>
<path d="M11 5h9.5v1.3h-9.5z" fill="#3e26a8"/>
<path d="M-0.5 6h1.8v1.3h-1.8z" fill="#259be8"/>
<path d="M1 6h1.3v1.3h-1.3z" fill="#327cfc"/>
<path d="M2 6h1.3v1.3h-1.3z" fill="#465efb"/>
<path d="M3 6h1.3v1.3h-1.3z" fill="#484df0"/>
<path d="M4 6h1.3v1.3h-1.3z" fill="#463cde"/>
<path d="M5 6h1.3v1.3h-1.3z" fill="#4537d5"/>
<path d="M6 6h1.3v1.3h-1.3z" fill="#422ec0"/>
<path d="M7 6h6.3v1.3h-6.3z" fill="#402ab4"/>
<path d="M13 6h7.5v1.3h-7.5z" fill="#3e26a8"/>
<path d="M-0.5 7h1.8v1.3h-1.8z" fill="#23a0e5"/>
<path d="M1 7h1.3v1.3h-1.3z" fill="#2d8cf3"/>
<path d="M2 7h1.3v1.3h-1.3z" fill="#3e6fff"/>
<path d="M3 7h1.3v1.3h-1.3z" fill="#4758f8"/>
<path d="M4 7h1.3v1.3h-1.3z" fill="#4747eb"/>
<path d="M5 7h1.3v1.3h-1.3z" fill="#463cde"/>
<path d="M6 7h1.3v1.3h-1.3z" fill="#4537d5"/>
<path d="M7 7h1.3v1.3h-1.3z" fill="#422ec0"/>
<path d="M8 7h7.3v1.3h-7.3z" fill="#402ab4"/>
<path d="M15 7h5.5v1.3h-5.5z" fill="#3e26a8"/>
<path d="M-0.5 8h1.8v1.3h-1.8z" fill="#18addb"/>
<path d="M1 8h1.3v1.3h-1.3z" fill="#259be8"/>
<path d="M2 8h1.3v1.3h-1.3z" fill="#2f81fa"/>
<path d="M3 8h1.3v1.3h-1.3z" fill="#4269fe"/>
<path d="M4 8h1.3v1.3h-1.3z" fill="#4758f8"/>
<path d="M5 8h1.3v1.3h-1.3z" fill="#4747eb"/>
<path d="M6 8h1.3v1.3h-1.3z" fill="#4537d5"/>
<path d="M7 8h2.3v1.3h-2.3z" fill="#422ec0"/>
<path d="M9 8h7.3v1.3h-7.3z" fill="#402ab4"/>
<path d="M16 8h4.5v1.3h-4.5z" fill="#3e26a8"/>
<path d="M-0.5 9h1.8v1.3h-1.8z" fill="#01b8ca"/>
<path d="M1 9h1.3v1.3h-1.3z" fill="#1ca9df"/>
<path d="M2 9h1.3v1.3h-1.3z" fill="#259be8"/>
<path d="M3 9h1.3v1.3h-1.3z" fill="#2f81fa"/>
<path d="M4 9h1.3v1.3h-1.3z" fill="#4269fe"/>
<path d="M5 9h1.3v1.3h-1.3z" fill="#4758f8"/>
<path d="M6 9h1.3v1.3h-1.3z" fill="#4747eb"/>
<path d="M7 9h1.3v1.3h-1.3z" fill="#463cde"/>
<path d="M8 9h1.3v1.3h-1.3z" fill="#4537d5"/>
<path d="M9 9h2.3v1.3h-2.3z" fill="#422ec0"/>
<path d="M11 9h6.3v1.3h-6.3z" fill="#402ab4"/>
<path d="M17 9h3.5v1.3h-3.5z" fill="#3e26a8"/>
<path d="M-0.5 10h1.8v1.3h-1.8z" fill="#0bbdbd"/>
<path d="M1 10h1.3v1.3h-1.3z" fill="#08b5d0"/>
<path d="M2 10h1.3v1.3h-1.3z" fill="#1ca9df"/>
<path d="M3 10h1.3v1.3h-1.3z" fill="#2b91ef"/>
<path d="M4 10h1.3v1.3h-1.3z" fill="#2f81fa"/>
<path d="M5 10h1.3v1.3h-1.3z" fill="#4269fe"/>
<path d="M6 10h1.3v1.3h-1.3z" fill="#4758f8"/>
<path d="M7 10h1.3v1.3h-1.3z" fill="#4747eb"/>
<path d="M8 10h1.3v1.3h-1.3z" fill="#463cde"/>
<path d="M9 10h1.3v1.3h-1.3z" fill="#4537d5"/>
<path d="M10 10h2.3v1.3h-2.3z" fill="#422ec0"/>
<path d="M12 10h7.3v1.3h-7.3z" fill="#402ab4"/>
<path d="M19 10h1.5v1.3h-1.5z" fill="#3e26a8"/>
<path d="M-0.5 11h1.8v1.3h-1.8z" fill="#31c69f"/>
<path d="M1 11h1.3v1.3h-1.3z" fill="#0bbdbd"/>
<path d="M2 11h1.3v1.3h-1.3z" fill="#08b5d0"/>
<path d="M3 11h1.3v1.3h-1.3z" fill="#23a0e5"/>
<path d="M4 11h1.3v1.3h-1.3z" fill="#2d8cf3"/>
<path d="M5 11h1.3v1.3h-1.3z" fill="#327cfc"/>
<path d="M6 11h1.3v1.3h-1.3z" fill="#4269fe"/>
<path d="M7 11h1.3v1.3h-1.3z" fill="#4758f8"/>
<path d="M8 11h1.3v1.3h-1.3z" fill="#4747eb"/>
<path d="M9 11h1.3v1.3h-1.3z" fill="#463cde"/>
<path d="M10 11h2.3v1.3h-2.3z" fill="#4537d5"/>
<path d="M12 11h2.3v1.3h-2.3z" fill="#422ec0"/>
<path d="M14 11h6.5v1.3h-6.5z" fill="#402ab4"/>
<path d="M-0.5 12h1.8v1.3h-1.8z" fill="#3fca8e"/>
<path d="M1 12h1.3v1.3h-1.3z" fill="#2cc4a7"/>
<path d="M2 12h1.3v1.3h-1.3z" fill="#01b8ca"/>
<path d="M3 12h1.3v1.3h-1.3z" fill="#18addb"/>
<path d="M4 12h1.3v1.3h-1.3z" fill="#259be8"/>
<path d="M5 12h1.3v1.3h-1.3z" fill="#2d8cf3"/>
<path d="M6 12h1.3v1.3h-1.3z" fill="#3e6fff"/>
<path d="M7 12h1.3v1.3h-1.3z" fill="#465efb"/>
<path d="M8 12h1.3v1.3h-1.3z" fill="#484df0"/>
<path d="M9 12h1.3v1.3h-1.3z" fill="#4747eb"/>
<path d="M10 12h2.3v1.3h-2.3z" fill="#463cde"/>
<path d="M12 12h1.3v1.3h-1.3z" fill="#4537d5"/>
<path d="M13 12h3.3v1.3h-3.3z" fill="#422ec0"/>
<path d="M16 12h4.5v1.3h-4.5z" fill="#402ab4"/>
<path d="M-0.5 13h1.8v1.3h-1.8z" fill="#72cd64"/>
<path d="M1 13h1.3v1.3h-1.3z" fill="#3fca8e"/>
<path d="M2 13h1.3v1.3h-1.3z" fill="#19bfb6"/>
<path d="M3 13h1.3v1.3h-1.3z" fill="#08b5d0"/>
<path d="M4 13h1.3v1.3h-1.3z" fill="#1ca9df"/>
<path d="M5 13h1.3v1.3h-1.3z" fill="#2b91ef"/>
<path d="M6 13h1.3v1.3h-1.3z" fill="#2f81fa"/>
<path d="M7 13h1.3v1.3h-1.3z" fill="#3e6fff"/>
<path d="M8 13h1.3v1.3h-1.3z" fill="#465efb"/>
<path d="M9 13h1.3v1.3h-1.3z" fill="#484df0"/>
<path d="M10 13h1.3v1.3h-1.3z" fill="#4747eb"/>
<path d="M11 13h2.3v1.3h-2.3z" fill="#463cde"/>
<path d="M13 13h1.3v1.3h-1.3z" fill="#4537d5"/>
<path d="M14 13h3.3v1.3h-3.3z" fill="#422ec0"/>
<path d="M17 13h3.5v1.3h-3.5z" fill="#402ab4"/>
<path d="M-0.5 14h1.8v1.3h-1.8z" fill="#b9c431"/>
<path d="M1 14h1.3v1.3h-1.3z" fill="#72cd64"/>
<path d="M2 14h1.3v1.3h-1.3z" fill="#3fca8e"/>
<path d="M3 14h1.3v1.3h-1.3z" fill="#19bfb6"/>
<path d="M4 14h1.3v1.3h-1.3z" fill="#08b5d0"/>
<path d="M5 14h1.3v1.3h-1.3z" fill="#23a0e5"/>
<path d="M6 14h1.3v1.3h-1.3z" fill="#2b91ef"/>
<path d="M7 14h1.3v1.3h-1.3z" fill="#2f81fa"/>
<path d="M8 14h1.3v1.3h-1.3z" fill="#3e6fff"/>
<path d="M9 14h1.3v1.3h-1.3z" fill="#465efb"/>
<path d="M10 14h1.3v1.3h-1.3z" fill="#484df0"/>
<path d="M11 14h1.3v1.3h-1.3z" fill="#4747eb"/>
<path d="M12 14h2.3v1.3h-2.3z" fill="#463cde"/>
<path d="M14 14h1.3v1.3h-1.3z" fill="#4537d5"/>
<path d="M15 14h3.3v1.3h-3.3z" fill="#422ec0"/>
<path d="M18 14h2.5v1.3h-2.5z" fill="#402ab4"/>
<path d="M-0.5 15h1.8v1.3h-1.8z" fill="#e6bb2d"/>
<path d="M1 15h1.3v1.3h-1.3z" fill="#9dc943"/>
<path d="M2 15h1.3v1.3h-1.3z" fill="#64cd6f"/>
<path d="M3 15h1.3v1.3h-1.3z" fill="#31c69f"/>
<path d="M4 15h1.3v1.3h-1.3z" fill="#0bbdbd"/>
<path d="M5 15h1.3v1.3h-1.3z" fill="#18addb"/>
<path d="M6 15h1.3v1.3h-1.3z" fill="#23a0e5"/>
<path d="M7 15h1.3v1.3h-1.3z" fill="#2b91ef"/>
<path d="M8 15h1.3v1.3h-1.3z" fill="#2f81fa"/>
<path d="M9 15h1.3v1.3h-1.3z" fill="#4269fe"/>
<path d="M10 15h1.3v1.3h-1.3z" fill="#465efb"/>
<path d="M11 15h1.3v1.3h-1.3z" fill="#484df0"/>
<path d="M12 15h1.3v1.3h-1.3z" fill="#4747eb"/>
<path d="M13 15h2.3v1.3h-2.3z" fill="#463cde"/>
<path d="M15 15h1.3v1.3h-1.3z" fill="#4537d5"/>
<path d="M16 15h3.3v1.3h-3.3z" fill="#422ec0"/>
<path d="M19 15h1.5v1.3h-1.5z" fill="#402ab4"/>
<path d="M-0.5 16h1.8v1.3h-1.8z" fill="#febe3c"/>
<path d="M1 16h1.3v1.3h-1.3z" fill="#dcbd29"/>
<path d="M2 16h1.3v1.3h-1.3z" fill="#8fcb4e"/>
<path d="M3 16h1.3v1.3h-1.3z" fill="#4acb84"/>
<path d="M4 16h1.3v1.3h-1.3z" fill="#2cc4a7"/>
<path d="M5 16h1.3v1.3h-1.3z" fill="#01b8ca"/>
<path d="M6 16h1.3v1.3h-1.3z" fill="#18addb"/>
<path d="M7 16h1.3v1.3h-1.3z" fill="#259be8"/>
<path d="M8 16h1.3v1.3h-1.3z" fill="#2d8cf3"/>
<path d="M9 16h1.3v1.3h-1.3z" fill="#327cfc"/>
<path d="M10 16h1.3v1.3h-1.3z" fill="#4269fe"/>
<path d="M11 16h1.3v1.3h-1.3z" fill="#465efb"/>
<path d="M12 16h1.3v1.3h-1.3z" fill="#484df0"/>
<path d="M13 16h1.3v1.3h-1.3z" fill="#4747eb"/>
<path d="M14 16h2.3v1.3h-2.3z" fill="#463cde"/>
<path d="M16 16h1.3v1.3h-1.3z" fill="#4537d5"/>
<path d="M17 16h3.5v1.3h-3.5z" fill="#422ec0"/>
<path d="M-0.5 17h1.8v1.3h-1.8z" fill="#f7dc2a"/>
<path d="M1 17h1.3v1.3h-1.3z" fill="#febe3c"/>
<path d="M2 17h1.3v1.3h-1.3z" fill="#dcbd29"/>
<path d="M3 17h1.3v1.3h-1.3z" fill="#8fcb4e"/>
<path d="M4 17h1.3v1.3h-1.3z" fill="#3fca8e"/>
<path d="M5 17h1.3v1.3h-1.3z" fill="#19bfb6"/>
<path d="M6 17h1.3v1.3h-1.3z" fill="#01b8ca"/>
<path d="M7 17h1.3v1.3h-1.3z" fill="#1ca9df"/>
<path d="M8 17h1.3v1.3h-1.3z" fill="#259be8"/>
<path d="M9 17h1.3v1.3h-1.3z" fill="#2d8cf3"/>
<path d="M10 17h1.3v1.3h-1.3z" fill="#327cfc"/>
<path d="M11 17h1.3v1.3h-1.3z" fill="#4269fe"/>
<path d="M12 17h1.3v1.3h-1.3z" fill="#4758f8"/>
<path d="M13 17h1.3v1.3h-1.3z" fill="#484df0"/>
<path d="M14 17h1.3v1.3h-1.3z" fill="#4747eb"/>
<path d="M15 17h2.3v1.3h-2.3z" fill="#463cde"/>
<path d="M17 17h1.3v1.3h-1.3z" fill="#4537d5"/>
<path d="M18 17h2.5v1.3h-2.5z" fill="#422ec0"/>
<path d="M-0.5 18h1.8v1.3h-1.8z" fill="#f6ef20"/>
<path d="M1 18h1.3v1.3h-1.3z" fill="#f7dc2a"/>
<path d="M2 18h1.3v1.3h-1.3z" fill="#febe3c"/>
<path d="M3 18h1.3v1.3h-1.3z" fill="#c5c22a"/>
<path d="M4 18h1.3v1.3h-1.3z" fill="#72cd64"/>
<path d="M5 18h1.3v1.3h-1.3z" fill="#3fca8e"/>
<path d="M6 18h1.3v1.3h-1.3z" fill="#19bfb6"/>
<path d="M7 18h1.3v1.3h-1.3z" fill="#08b5d0"/>
<path d="M8 18h1.3v1.3h-1.3z" fill="#1ca9df"/>
<path d="M9 18h1.3v1.3h-1.3z" fill="#259be8"/>
<path d="M10 18h1.3v1.3h-1.3z" fill="#2f81fa"/>
<path d="M11 18h1.3v1.3h-1.3z" fill="#3e6fff"/>
<path d="M12 18h1.3v1.3h-1.3z" fill="#4269fe"/>
<path d="M13 18h1.3v1.3h-1.3z" fill="#4758f8"/>
<path d="M14 18h1.3v1.3h-1.3z" fill="#484df0"/>
<path d="M15 18h1.3v1.3h-1.3z" fill="#4747eb"/>
<path d="M16 18h2.3v1.3h-2.3z" fill="#463cde"/>
<path d="M18 18h1.3v1.3h-1.3z" fill="#4537d5"/>
<path d="M19 18h1.5v1.3h-1.5z" fill="#422ec0"/>
<path d="M-0.5 19h1.8v1.5h-1.8z" fill="#f9fb15"/>
<path d="M1 19h1.3v1.5h-1.3z" fill="#f6ef20"/>
<path d="M2 19h1.3v1.5h-1.3z" fill="#fccf30"/>
<path d="M3 19h1.3v1.5h-1.3z" fill="#f8ba3d"/>
<path d="M4 19h1.3v1.5h-1.3z" fill="#b9c431"/>
<path d="M5 19h1.3v1.5h-1.3z" fill="#64cd6f"/>
<path d="M6 19h1.3v1.5h-1.3z" fill="#31c69f"/>
<path d="M7 19h1.3v1.5h-1.3z" fill="#0bbdbd"/>
<path d="M8 19h1.3v1.5h-1.3z" fill="#08b5d0"/>
<path d="M9 19h1.3v1.5h-1.3z" fill="#23a0e5"/>
<path d="M10 19h1.3v1.5h-1.3z" fill="#2b91ef"/>
<path d="M11 19h1.3v1.5h-1.3z" fill="#2f81fa"/>
<path d="M12 19h1.3v1.5h-1.3z" fill="#3e6fff"/>
<path d="M13 19h1.3v1.5h-1.3z" fill="#465efb"/>
<path d="M14 19h1.3v1.5h-1.3z" fill="#4758f8"/>
<path d="M15 19h1.3v1.5h-1.3z" fill="#484df0"/>
<path d="M16 19h1.3v1.5h-1.3z" fill="#4747eb"/>
<path d="M17 19h1.3v1.5h-1.3z" fill="#463cde"/>
<path d="M18 19h2.5v1.5h-2.5z" fill="#4537d5"/>
</g>
<path fill="#fff" fill-rule="evenodd" d="M503.8 19.2h124.1v124.16h-124.1zM508.3 23.7h115.1v115.16h-115.1z"/>
<path d="M508.3 138.76H623.4" fill="none" stroke="#262626" stroke-width="0.7" stroke-opacity="0.8"/>
<text x="565.85" y="19.8" font-size="12" fill="#000" text-anchor="middle">Peak timing</text>
<text x="508.3" y="152.1" font-size="10.85" fill="#262626" text-anchor="middle">0</text>
<text x="565.85" y="152.1" font-size="10.85" fill="#262626" text-anchor="middle">0.2</text>
<text x="623.4" y="152.1" font-size="10.85" fill="#262626" text-anchor="middle">0.4</text>
<text x="505.8" y="143.75" font-size="10.85" fill="#262626" text-anchor="end">0</text>
<text x="505.8" y="114.69" font-size="10.85" fill="#262626" text-anchor="end">0.1</text>
<text x="505.8" y="85.63" font-size="10.85" fill="#262626" text-anchor="end">0.2</text>
<text x="505.8" y="56.56" font-size="10.85" fill="#262626" text-anchor="end">0.3</text>
<text x="505.8" y="27.5" font-size="10.85" fill="#262626" text-anchor="end">0.4</text>
<text x="566.15" y="167.7" font-size="12" fill="#262626" text-anchor="middle">Exposed quarantine(q<tspan font-size="9.6" dy="5.4" dx="1.4">1</tspan><tspan dy="-5.4" dx="1.0" font-size="12">)</tspan></text>
<text transform="translate(481,82.43) rotate(-90)" font-size="11.9" fill="#262626" text-anchor="middle">Undocumented quarantine(q<tspan font-size="9.6" dy="5.4" dx="0.9">2</tspan><tspan dy="-5.4" dx="1.0" font-size="11.9">)</tspan></text>
<rect x="657.5" y="4.3" width="11" height="153.1" fill="url(#pg)" stroke="#262626" stroke-width="0.6"/>
<path d="M667 133.13h1.5" stroke="#262626" stroke-width="0.6"/>
<text x="673.4" y="136.93" font-size="11" fill="#262626">10</text>
<path d="M667 97.44h1.5" stroke="#262626" stroke-width="0.6"/>
<text x="673.4" y="101.24" font-size="11" fill="#262626">20</text>
<path d="M667 61.76h1.5" stroke="#262626" stroke-width="0.6"/>
<text x="673.4" y="65.56" font-size="11" fill="#262626">30</text>
<path d="M667 26.07h1.5" stroke="#262626" stroke-width="0.6"/>
<text x="673.4" y="29.87" font-size="11" fill="#262626">40</text>
<g transform="translate(37.45,216.9) scale(5.79750,5.78000)">
<path d="M-0.5 -0.5h1.8v1.8h-1.8z" fill="#e6bb2d"/>
<path d="M1 -0.5h1.3v1.8h-1.3z" fill="#b9c431"/>
<path d="M2 -0.5h1.3v1.8h-1.3z" fill="#64cd6f"/>
<path d="M3 -0.5h1.3v1.8h-1.3z" fill="#31c69f"/>
<path d="M4 -0.5h1.3v1.8h-1.3z" fill="#19bfb6"/>
<path d="M5 -0.5h1.3v1.8h-1.3z" fill="#08b5d0"/>
<path d="M6 -0.5h1.3v1.8h-1.3z" fill="#1ca9df"/>
<path d="M7 -0.5h1.3v1.8h-1.3z" fill="#2797eb"/>
<path d="M8 -0.5h1.3v1.8h-1.3z" fill="#2f81fa"/>
<path d="M9 -0.5h1.3v1.8h-1.3z" fill="#3e6fff"/>
<path d="M10 -0.5h1.3v1.8h-1.3z" fill="#465efb"/>
<path d="M11 -0.5h1.3v1.8h-1.3z" fill="#4852f4"/>
<path d="M12 -0.5h1.3v1.8h-1.3z" fill="#484df0"/>
<path d="M13 -0.5h1.3v1.8h-1.3z" fill="#4741e5"/>
<path d="M14 -0.5h1.3v1.8h-1.3z" fill="#463cde"/>
<path d="M15 -0.5h1.3v1.8h-1.3z" fill="#4537d5"/>
<path d="M16 -0.5h1.3v1.8h-1.3z" fill="#4332cb"/>
<path d="M17 -0.5h1.3v1.8h-1.3z" fill="#422ec0"/>
<path d="M18 -0.5h1.3v1.8h-1.3z" fill="#402ab4"/>
<path d="M19 -0.5h1.5v1.8h-1.5z" fill="#3e26a8"/>
<path d="M-0.5 1h1.8v1.3h-1.8z" fill="#f0ba36"/>
<path d="M1 1h1.3v1.3h-1.3z" fill="#c5c22a"/>
<path d="M2 1h1.3v1.3h-1.3z" fill="#72cd64"/>
<path d="M3 1h1.3v1.3h-1.3z" fill="#3fca8e"/>
<path d="M4 1h1.3v1.3h-1.3z" fill="#24c1ae"/>
<path d="M5 1h1.3v1.3h-1.3z" fill="#02bac3"/>
<path d="M6 1h1.3v1.3h-1.3z" fill="#18addb"/>
<path d="M7 1h1.3v1.3h-1.3z" fill="#23a0e5"/>
<path d="M8 1h1.3v1.3h-1.3z" fill="#2d8cf3"/>
<path d="M9 1h1.3v1.3h-1.3z" fill="#327cfc"/>
<path d="M10 1h1.3v1.3h-1.3z" fill="#4563fd"/>
<path d="M11 1h1.3v1.3h-1.3z" fill="#4758f8"/>
<path d="M12 1h1.3v1.3h-1.3z" fill="#484df0"/>
<path d="M13 1h1.3v1.3h-1.3z" fill="#4747eb"/>
<path d="M14 1h1.3v1.3h-1.3z" fill="#4741e5"/>
<path d="M15 1h1.3v1.3h-1.3z" fill="#4537d5"/>
<path d="M16 1h1.3v1.3h-1.3z" fill="#4332cb"/>
<path d="M17 1h1.3v1.3h-1.3z" fill="#422ec0"/>
<path d="M18 1h1.3v1.3h-1.3z" fill="#402ab4"/>
<path d="M19 1h1.5v1.3h-1.5z" fill="#3e26a8"/>
<path d="M-0.5 2h1.8v1.3h-1.8z" fill="#f8ba3d"/>
<path d="M1 2h1.3v1.3h-1.3z" fill="#d1bf27"/>
<path d="M2 2h1.3v1.3h-1.3z" fill="#8fcb4e"/>
<path d="M3 2h1.3v1.3h-1.3z" fill="#4acb84"/>
<path d="M4 2h1.3v1.3h-1.3z" fill="#2cc4a7"/>
<path d="M5 2h1.3v1.3h-1.3z" fill="#0bbdbd"/>
<path d="M6 2h1.3v1.3h-1.3z" fill="#08b5d0"/>
<path d="M7 2h1.3v1.3h-1.3z" fill="#20a5e3"/>
<path d="M8 2h1.3v1.3h-1.3z" fill="#2797eb"/>
<path d="M9 2h1.3v1.3h-1.3z" fill="#2f81fa"/>
<path d="M10 2h1.3v1.3h-1.3z" fill="#4269fe"/>
<path d="M11 2h1.3v1.3h-1.3z" fill="#4758f8"/>
<path d="M12 2h1.3v1.3h-1.3z" fill="#4852f4"/>
<path d="M13 2h1.3v1.3h-1.3z" fill="#4747eb"/>
<path d="M14 2h1.3v1.3h-1.3z" fill="#4741e5"/>
<path d="M15 2h1.3v1.3h-1.3z" fill="#463cde"/>
<path d="M16 2h1.3v1.3h-1.3z" fill="#4537d5"/>
<path d="M17 2h1.3v1.3h-1.3z" fill="#4332cb"/>
<path d="M18 2h1.3v1.3h-1.3z" fill="#422ec0"/>
<path d="M19 2h1.5v1.3h-1.5z" fill="#402ab4"/>
<path d="M-0.5 3h1.8v1.3h-1.8z" fill="#febe3c"/>
<path d="M1 3h1.3v1.3h-1.3z" fill="#dcbd29"/>
<path d="M2 3h1.3v1.3h-1.3z" fill="#9dc943"/>
<path d="M3 3h1.3v1.3h-1.3z" fill="#64cd6f"/>
<path d="M4 3h1.3v1.3h-1.3z" fill="#37c897"/>
<path d="M5 3h1.3v1.3h-1.3z" fill="#19bfb6"/>
<path d="M6 3h1.3v1.3h-1.3z" fill="#01b8ca"/>
<path d="M7 3h1.3v1.3h-1.3z" fill="#18addb"/>
<path d="M8 3h1.3v1.3h-1.3z" fill="#259be8"/>
<path d="M9 3h1.3v1.3h-1.3z" fill="#2e87f7"/>
<path d="M10 3h1.3v1.3h-1.3z" fill="#3e6fff"/>
<path d="M11 3h1.3v1.3h-1.3z" fill="#465efb"/>
<path d="M12 3h1.3v1.3h-1.3z" fill="#4852f4"/>
<path d="M13 3h1.3v1.3h-1.3z" fill="#484df0"/>
<path d="M14 3h1.3v1.3h-1.3z" fill="#4741e5"/>
<path d="M15 3h1.3v1.3h-1.3z" fill="#463cde"/>
<path d="M16 3h1.3v1.3h-1.3z" fill="#4537d5"/>
<path d="M17 3h1.3v1.3h-1.3z" fill="#4332cb"/>
<path d="M18 3h1.3v1.3h-1.3z" fill="#422ec0"/>
<path d="M19 3h1.5v1.3h-1.5z" fill="#402ab4"/>
<path d="M-0.5 4h1.8v1.3h-1.8z" fill="#fec338"/>
<path d="M1 4h1.3v1.3h-1.3z" fill="#e6bb2d"/>
<path d="M2 4h1.3v1.3h-1.3z" fill="#b9c431"/>
<path d="M3 4h1.3v1.3h-1.3z" fill="#72cd64"/>
<path d="M4 4h1.3v1.3h-1.3z" fill="#3fca8e"/>
<path d="M5 4h1.3v1.3h-1.3z" fill="#24c1ae"/>
<path d="M6 4h1.3v1.3h-1.3z" fill="#02bac3"/>
<path d="M7 4h1.3v1.3h-1.3z" fill="#12b1d6"/>
<path d="M8 4h1.3v1.3h-1.3z" fill="#20a5e3"/>
<path d="M9 4h1.3v1.3h-1.3z" fill="#2b91ef"/>
<path d="M10 4h1.3v1.3h-1.3z" fill="#3875fe"/>
<path d="M11 4h1.3v1.3h-1.3z" fill="#4563fd"/>
<path d="M12 4h1.3v1.3h-1.3z" fill="#465efb"/>
<path d="M13 4h1.3v1.3h-1.3z" fill="#4852f4"/>
<path d="M14 4h1.3v1.3h-1.3z" fill="#4747eb"/>
<path d="M15 4h1.3v1.3h-1.3z" fill="#4741e5"/>
<path d="M16 4h1.3v1.3h-1.3z" fill="#463cde"/>
<path d="M17 4h1.3v1.3h-1.3z" fill="#4537d5"/>
<path d="M18 4h1.3v1.3h-1.3z" fill="#4332cb"/>
<path d="M19 4h1.5v1.3h-1.5z" fill="#422ec0"/>
<path d="M-0.5 5h1.8v1.3h-1.8z" fill="#fec934"/>
<path d="M1 5h1.3v1.3h-1.3z" fill="#f0ba36"/>
<path d="M2 5h1.3v1.3h-1.3z" fill="#c5c22a"/>
<path d="M3 5h1.3v1.3h-1.3z" fill="#81cc59"/>
<path d="M4 5h1.3v1.3h-1.3z" fill="#4acb84"/>
<path d="M5 5h1.3v1.3h-1.3z" fill="#2cc4a7"/>
<path d="M6 5h1.3v1.3h-1.3z" fill="#0bbdbd"/>
<path d="M7 5h1.3v1.3h-1.3z" fill="#08b5d0"/>
<path d="M8 5h1.3v1.3h-1.3z" fill="#1ca9df"/>
<path d="M9 5h1.3v1.3h-1.3z" fill="#259be8"/>
<path d="M10 5h1.3v1.3h-1.3z" fill="#2f81fa"/>
<path d="M11 5h1.3v1.3h-1.3z" fill="#3e6fff"/>
<path d="M12 5h1.3v1.3h-1.3z" fill="#4563fd"/>
<path d="M13 5h1.3v1.3h-1.3z" fill="#4758f8"/>
<path d="M14 5h1.3v1.3h-1.3z" fill="#484df0"/>
<path d="M15 5h1.3v1.3h-1.3z" fill="#4747eb"/>
<path d="M16 5h1.3v1.3h-1.3z" fill="#4741e5"/>
<path d="M17 5h1.3v1.3h-1.3z" fill="#4537d5"/>
<path d="M18 5h1.3v1.3h-1.3z" fill="#4332cb"/>
<path d="M19 5h1.5v1.3h-1.5z" fill="#422ec0"/>
<path d="M-0.5 6h1.8v1.3h-1.8z" fill="#fccf30"/>
<path d="M1 6h1.3v1.3h-1.3z" fill="#febe3c"/>
<path d="M2 6h1.3v1.3h-1.3z" fill="#dcbd29"/>
<path d="M3 6h1.3v1.3h-1.3z" fill="#9dc943"/>
<path d="M4 6h1.3v1.3h-1.3z" fill="#64cd6f"/>
<path d="M5 6h1.3v1.3h-1.3z" fill="#37c897"/>
<path d="M6 6h1.3v1.3h-1.3z" fill="#19bfb6"/>
<path d="M7 6h1.3v1.3h-1.3z" fill="#02bac3"/>
<path d="M8 6h1.3v1.3h-1.3z" fill="#12b1d6"/>
<path d="M9 6h1.3v1.3h-1.3z" fill="#23a0e5"/>
<path d="M10 6h1.3v1.3h-1.3z" fill="#2e87f7"/>
<path d="M11 6h1.3v1.3h-1.3z" fill="#3875fe"/>
<path d="M12 6h1.3v1.3h-1.3z" fill="#4269fe"/>
<path d="M13 6h1.3v1.3h-1.3z" fill="#465efb"/>
<path d="M14 6h1.3v1.3h-1.3z" fill="#4852f4"/>
<path d="M15 6h1.3v1.3h-1.3z" fill="#484df0"/>
<path d="M16 6h1.3v1.3h-1.3z" fill="#4747eb"/>
<path d="M17 6h1.3v1.3h-1.3z" fill="#463cde"/>
<path d="M18 6h1.3v1.3h-1.3z" fill="#4537d5"/>
<path d="M19 6h1.5v1.3h-1.5z" fill="#4332cb"/>
<path d="M-0.5 7h1.8v1.3h-1.8z" fill="#fad62d"/>
<path d="M1 7h1.3v1.3h-1.3z" fill="#fec338"/>
<path d="M2 7h1.3v1.3h-1.3z" fill="#e6bb2d"/>
<path d="M3 7h1.3v1.3h-1.3z" fill="#b9c431"/>
<path d="M4 7h1.3v1.3h-1.3z" fill="#72cd64"/>
<path d="M5 7h1.3v1.3h-1.3z" fill="#3fca8e"/>
<path d="M6 7h1.3v1.3h-1.3z" fill="#2cc4a7"/>
<path d="M7 7h1.3v1.3h-1.3z" fill="#0bbdbd"/>
<path d="M8 7h1.3v1.3h-1.3z" fill="#08b5d0"/>
<path d="M9 7h1.3v1.3h-1.3z" fill="#1ca9df"/>
<path d="M10 7h1.3v1.3h-1.3z" fill="#2b91ef"/>
<path d="M11 7h1.3v1.3h-1.3z" fill="#2f81fa"/>
<path d="M12 7h1.3v1.3h-1.3z" fill="#3875fe"/>
<path d="M13 7h1.3v1.3h-1.3z" fill="#4563fd"/>
<path d="M14 7h1.3v1.3h-1.3z" fill="#465efb"/>
<path d="M15 7h1.3v1.3h-1.3z" fill="#4852f4"/>
<path d="M16 7h1.3v1.3h-1.3z" fill="#484df0"/>
<path d="M17 7h1.3v1.3h-1.3z" fill="#4741e5"/>
<path d="M18 7h1.3v1.3h-1.3z" fill="#463cde"/>
<path d="M19 7h1.5v1.3h-1.5z" fill="#4332cb"/>
<path d="M-0.5 8h1.8v1.3h-1.8z" fill="#f7dc2a"/>
<path d="M1 8h1.3v1.3h-1.3z" fill="#fec934"/>
<path d="M2 8h1.3v1.3h-1.3z" fill="#f8ba3d"/>
<path d="M3 8h1.3v1.3h-1.3z" fill="#c5c22a"/>
<path d="M4 8h1.3v1.3h-1.3z" fill="#8fcb4e"/>
<path d="M5 8h1.3v1.3h-1.3z" fill="#57cc7a"/>
<path d="M6 8h1.3v1.3h-1.3z" fill="#31c69f"/>
<path d="M7 8h1.3v1.3h-1.3z" fill="#19bfb6"/>
<path d="M8 8h1.3v1.3h-1.3z" fill="#01b8ca"/>
<path d="M9 8h1.3v1.3h-1.3z" fill="#18addb"/>
<path d="M10 8h1.3v1.3h-1.3z" fill="#2797eb"/>
<path d="M11 8h1.3v1.3h-1.3z" fill="#2d8cf3"/>
<path d="M12 8h1.3v1.3h-1.3z" fill="#327cfc"/>
<path d="M13 8h1.3v1.3h-1.3z" fill="#3e6fff"/>
<path d="M14 8h1.3v1.3h-1.3z" fill="#4563fd"/>
<path d="M15 8h1.3v1.3h-1.3z" fill="#465efb"/>
<path d="M16 8h1.3v1.3h-1.3z" fill="#4852f4"/>
<path d="M17 8h1.3v1.3h-1.3z" fill="#4747eb"/>
<path d="M18 8h1.3v1.3h-1.3z" fill="#4741e5"/>
<path d="M19 8h1.5v1.3h-1.5z" fill="#4537d5"/>
<path d="M-0.5 9h1.8v1.3h-1.8z" fill="#f5e327"/>
<path d="M1 9h1.3v1.3h-1.3z" fill="#fccf30"/>
<path d="M2 9h1.3v1.3h-1.3z" fill="#febe3c"/>
<path d="M3 9h1.3v1.3h-1.3z" fill="#dcbd29"/>
<path d="M4 9h1.3v1.3h-1.3z" fill="#abc739"/>
<path d="M5 9h1.3v1.3h-1.3z" fill="#72cd64"/>
<path d="M6 9h1.3v1.3h-1.3z" fill="#3fca8e"/>
<path d="M7 9h1.3v1.3h-1.3z" fill="#24c1ae"/>
<path d="M8 9h1.3v1.3h-1.3z" fill="#02bac3"/>
<path d="M9 9h1.3v1.3h-1.3z" fill="#12b1d6"/>
<path d="M10 9h1.3v1.3h-1.3z" fill="#23a0e5"/>
<path d="M11 9h1.3v1.3h-1.3z" fill="#2b91ef"/>
<path d="M12 9h1.3v1.3h-1.3z" fill="#2e87f7"/>
<path d="M13 9h1.3v1.3h-1.3z" fill="#327cfc"/>
<path d="M14 9h1.3v1.3h-1.3z" fill="#3e6fff"/>
<path d="M15 9h1.3v1.3h-1.3z" fill="#4563fd"/>
<path d="M16 9h1.3v1.3h-1.3z" fill="#465efb"/>
<path d="M17 9h1.3v1.3h-1.3z" fill="#4852f4"/>
<path d="M18 9h1.3v1.3h-1.3z" fill="#4747eb"/>
<path d="M19 9h1.5v1.3h-1.5z" fill="#463cde"/>
<path d="M-0.5 10h1.8v1.3h-1.8z" fill="#f5e327"/>
<path d="M1 10h1.3v1.3h-1.3z" fill="#fad62d"/>
<path d="M2 10h1.3v1.3h-1.3z" fill="#fec934"/>
<path d="M3 10h1.3v1.3h-1.3z" fill="#f0ba36"/>
<path d="M4 10h1.3v1.3h-1.3z" fill="#c5c22a"/>
<path d="M5 10h1.3v1.3h-1.3z" fill="#81cc59"/>
<path d="M6 10h1.3v1.3h-1.3z" fill="#4acb84"/>
<path d="M7 10h1.3v1.3h-1.3z" fill="#31c69f"/>
<path d="M8 10h1.3v1.3h-1.3z" fill="#19bfb6"/>
<path d="M9 10h1.3v1.3h-1.3z" fill="#08b5d0"/>
<path d="M10 10h1.3v1.3h-1.3z" fill="#1ca9df"/>
<path d="M11 10h1.3v1.3h-1.3z" fill="#259be8"/>
<path d="M12 10h1.3v1.3h-1.3z" fill="#2b91ef"/>
<path d="M13 10h1.3v1.3h-1.3z" fill="#2e87f7"/>
<path d="M14 10h1.3v1.3h-1.3z" fill="#327cfc"/>
<path d="M15 10h1.3v1.3h-1.3z" fill="#3875fe"/>
<path d="M16 10h1.3v1.3h-1.3z" fill="#4269fe"/>
<path d="M17 10h1.3v1.3h-1.3z" fill="#465efb"/>
<path d="M18 10h1.3v1.3h-1.3z" fill="#4852f4"/>
<path d="M19 10h1.5v1.3h-1.5z" fill="#4741e5"/>
<path d="M-0.5 11h1.8v1.3h-1.8z" fill="#f5e327"/>
<path d="M1 11h1.3v1.3h-1.3z" fill="#f7dc2a"/>
<path d="M2 11h1.3v1.3h-1.3z" fill="#fccf30"/>
<path d="M3 11h1.3v1.3h-1.3z" fill="#febe3c"/>
<path d="M4 11h1.3v1.3h-1.3z" fill="#dcbd29"/>
<path d="M5 11h1.3v1.3h-1.3z" fill="#9dc943"/>
<path d="M6 11h1.3v1.3h-1.3z" fill="#64cd6f"/>
<path d="M7 11h1.3v1.3h-1.3z" fill="#3fca8e"/>
<path d="M8 11h1.3v1.3h-1.3z" fill="#24c1ae"/>
<path d="M9 11h1.3v1.3h-1.3z" fill="#02bac3"/>
<path d="M10 11h1.3v1.3h-1.3z" fill="#12b1d6"/>
<path d="M11 11h1.3v1.3h-1.3z" fill="#20a5e3"/>
<path d="M12 11h1.3v1.3h-1.3z" fill="#259be8"/>
<path d="M13 11h1.3v1.3h-1.3z" fill="#2b91ef"/>
<path d="M14 11h1.3v1.3h-1.3z" fill="#2e87f7"/>
<path d="M15 11h1.3v1.3h-1.3z" fill="#327cfc"/>
<path d="M16 11h1.3v1.3h-1.3z" fill="#3875fe"/>
<path d="M17 11h1.3v1.3h-1.3z" fill="#4269fe"/>
<path d="M18 11h1.3v1.3h-1.3z" fill="#4758f8"/>
<path d="M19 11h1.5v1.3h-1.5z" fill="#484df0"/>
<path d="M-0.5 12h1.8v1.3h-1.8z" fill="#f5e924"/>
<path d="M1 12h1.3v1.3h-1.3z" fill="#f7dc2a"/>
<path d="M2 12h1.3v1.3h-1.3z" fill="#fad62d"/>
<path d="M3 12h1.3v1.3h-1.3z" fill="#fec338"/>
<path d="M4 12h1.3v1.3h-1.3z" fill="#f0ba36"/>
<path d="M5 12h1.3v1.3h-1.3z" fill="#c5c22a"/>
<path d="M6 12h1.3v1.3h-1.3z" fill="#81cc59"/>
<path d="M7 12h1.3v1.3h-1.3z" fill="#4acb84"/>
<path d="M8 12h1.3v1.3h-1.3z" fill="#31c69f"/>
<path d="M9 12h1.3v1.3h-1.3z" fill="#19bfb6"/>
<path d="M10 12h1.3v1.3h-1.3z" fill="#01b8ca"/>
<path d="M11 12h1.3v1.3h-1.3z" fill="#12b1d6"/>
<path d="M12 12h1.3v1.3h-1.3z" fill="#1ca9df"/>
<path d="M13 12h1.3v1.3h-1.3z" fill="#23a0e5"/>
<path d="M14 12h1.3v1.3h-1.3z" fill="#2b91ef"/>
<path d="M15 12h1.3v1.3h-1.3z" fill="#2d8cf3"/>
<path d="M16 12h1.3v1.3h-1.3z" fill="#2f81fa"/>
<path d="M17 12h1.3v1.3h-1.3z" fill="#3875fe"/>
<path d="M18 12h1.3v1.3h-1.3z" fill="#4269fe"/>
<path d="M19 12h1.5v1.3h-1.5z" fill="#465efb"/>
<path d="M-0.5 13h1.8v1.3h-1.8z" fill="#f5e924"/>
<path d="M1 13h1.3v1.3h-1.3z" fill="#f5e327"/>
<path d="M2 13h1.3v1.3h-1.3z" fill="#f7dc2a"/>
<path d="M3 13h1.3v1.3h-1.3z" fill="#fccf30"/>
<path d="M4 13h1.3v1.3h-1.3z" fill="#febe3c"/>
<path d="M5 13h1.3v1.3h-1.3z" fill="#dcbd29"/>
<path d="M6 13h1.3v1.3h-1.3z" fill="#abc739"/>
<path d="M7 13h1.3v1.3h-1.3z" fill="#64cd6f"/>
<path d="M8 13h1.3v1.3h-1.3z" fill="#3fca8e"/>
<path d="M9 13h1.3v1.3h-1.3z" fill="#2cc4a7"/>
<path d="M10 13h1.3v1.3h-1.3z" fill="#19bfb6"/>
<path d="M11 13h1.3v1.3h-1.3z" fill="#02bac3"/>
<path d="M12 13h1.3v1.3h-1.3z" fill="#12b1d6"/>
<path d="M13 13h1.3v1.3h-1.3z" fill="#1ca9df"/>
<path d="M14 13h1.3v1.3h-1.3z" fill="#23a0e5"/>
<path d="M15 13h1.3v1.3h-1.3z" fill="#2797eb"/>
<path d="M16 13h1.3v1.3h-1.3z" fill="#2d8cf3"/>
<path d="M17 13h1.3v1.3h-1.3z" fill="#2f81fa"/>
<path d="M18 13h1.3v1.3h-1.3z" fill="#3875fe"/>
<path d="M19 13h1.5v1.3h-1.5z" fill="#4269fe"/>
<path d="M-0.5 14h1.8v1.3h-1.8z" fill="#f5e924"/>
<path d="M1 14h1.3v1.3h-1.3z" fill="#f5e327"/>
<path d="M2 14h1.3v1.3h-1.3z" fill="#f7dc2a"/>
<path d="M3 14h1.3v1.3h-1.3z" fill="#fad62d"/>
<path d="M4 14h1.3v1.3h-1.3z" fill="#fec934"/>
<path d="M5 14h1.3v1.3h-1.3z" fill="#f8ba3d"/>
<path d="M6 14h1.3v1.3h-1.3z" fill="#d1bf27"/>
<path d="M7 14h1.3v1.3h-1.3z" fill="#9dc943"/>
<path d="M8 14h1.3v1.3h-1.3z" fill="#64cd6f"/>
<path d="M9 14h1.3v1.3h-1.3z" fill="#37c897"/>
<path d="M10 14h1.3v1.3h-1.3z" fill="#31c69f"/>
<path d="M11 14h1.3v1.3h-1.3z" fill="#19bfb6"/>
<path d="M12 14h1.3v1.3h-1.3z" fill="#02bac3"/>
<path d="M13 14h1.3v1.3h-1.3z" fill="#08b5d0"/>
<path d="M14 14h1.3v1.3h-1.3z" fill="#18addb"/>
<path d="M15 14h1.3v1.3h-1.3z" fill="#20a5e3"/>
<path d="M16 14h1.3v1.3h-1.3z" fill="#259be8"/>
<path d="M17 14h1.3v1.3h-1.3z" fill="#2b91ef"/>
<path d="M18 14h1.3v1.3h-1.3z" fill="#2e87f7"/>
<path d="M19 14h1.5v1.3h-1.5z" fill="#327cfc"/>
<path d="M-0.5 15h2.8v1.3h-2.8z" fill="#f5e924"/>
<path d="M2 15h1.3v1.3h-1.3z" fill="#f5e327"/>
<path d="M3 15h1.3v1.3h-1.3z" fill="#f7dc2a"/>
<path d="M4 15h1.3v1.3h-1.3z" fill="#fad62d"/>
<path d="M5 15h1.3v1.3h-1.3z" fill="#fec934"/>
<path d="M6 15h1.3v1.3h-1.3z" fill="#f8ba3d"/>
<path d="M7 15h1.3v1.3h-1.3z" fill="#d1bf27"/>
<path d="M8 15h1.3v1.3h-1.3z" fill="#9dc943"/>
<path d="M9 15h1.3v1.3h-1.3z" fill="#64cd6f"/>
<path d="M10 15h1.3v1.3h-1.3z" fill="#4acb84"/>
<path d="M11 15h1.3v1.3h-1.3z" fill="#37c897"/>
<path d="M12 15h1.3v1.3h-1.3z" fill="#24c1ae"/>
<path d="M13 15h1.3v1.3h-1.3z" fill="#0bbdbd"/>
<path d="M14 15h1.3v1.3h-1.3z" fill="#01b8ca"/>
<path d="M15 15h1.3v1.3h-1.3z" fill="#12b1d6"/>
<path d="M16 15h1.3v1.3h-1.3z" fill="#20a5e3"/>
<path d="M17 15h1.3v1.3h-1.3z" fill="#259be8"/>
<path d="M18 15h1.3v1.3h-1.3z" fill="#2797eb"/>
<path d="M19 15h1.5v1.3h-1.5z" fill="#2d8cf3"/>
<path d="M-0.5 16h2.8v1.3h-2.8z" fill="#f5e924"/>
<path d="M2 16h1.3v1.3h-1.3z" fill="#f5e327"/>
<path d="M3 16h2.3v1.3h-2.3z" fill="#f7dc2a"/>
<path d="M5 16h1.3v1.3h-1.3z" fill="#fad62d"/>
<path d="M6 16h1.3v1.3h-1.3z" fill="#fec934"/>
<path d="M7 16h1.3v1.3h-1.3z" fill="#f8ba3d"/>
<path d="M8 16h1.3v1.3h-1.3z" fill="#d1bf27"/>
<path d="M9 16h1.3v1.3h-1.3z" fill="#9dc943"/>
<path d="M10 16h1.3v1.3h-1.3z" fill="#81cc59"/>
<path d="M11 16h1.3v1.3h-1.3z" fill="#57cc7a"/>
<path d="M12 16h1.3v1.3h-1.3z" fill="#37c897"/>
<path d="M13 16h1.3v1.3h-1.3z" fill="#2cc4a7"/>
<path d="M14 16h1.3v1.3h-1.3z" fill="#0bbdbd"/>
<path d="M15 16h1.3v1.3h-1.3z" fill="#01b8ca"/>
<path d="M16 16h1.3v1.3h-1.3z" fill="#12b1d6"/>
<path d="M17 16h1.3v1.3h-1.3z" fill="#1ca9df"/>
<path d="M18 16h1.3v1.3h-1.3z" fill="#23a0e5"/>
<path d="M19 16h1.5v1.3h-1.5z" fill="#2797eb"/>
<path d="M-0.5 17h1.8v1.3h-1.8z" fill="#f6ef20"/>
<path d="M1 17h3.3v1.3h-3.3z" fill="#f5e924"/>
<path d="M4 17h2.3v1.3h-2.3z" fill="#f5e327"/>
<path d="M6 17h1.3v1.3h-1.3z" fill="#f7dc2a"/>
<path d="M7 17h1.3v1.3h-1.3z" fill="#fccf30"/>
<path d="M8 17h1.3v1.3h-1.3z" fill="#febe3c"/>
<path d="M9 17h1.3v1.3h-1.3z" fill="#e6bb2d"/>
<path d="M10 17h1.3v1.3h-1.3z" fill="#c5c22a"/>
<path d="M11 17h1.3v1.3h-1.3z" fill="#8fcb4e"/>
<path d="M12 17h1.3v1.3h-1.3z" fill="#57cc7a"/>
<path d="M13 17h1.3v1.3h-1.3z" fill="#37c897"/>
<path d="M14 17h1.3v1.3h-1.3z" fill="#2cc4a7"/>
<path d="M15 17h1.3v1.3h-1.3z" fill="#19bfb6"/>
<path d="M16 17h1.3v1.3h-1.3z" fill="#01b8ca"/>
<path d="M17 17h1.3v1.3h-1.3z" fill="#12b1d6"/>
<path d="M18 17h1.3v1.3h-1.3z" fill="#1ca9df"/>
<path d="M19 17h1.5v1.3h-1.5z" fill="#23a0e5"/>
<path d="M-0.5 18h2.8v1.3h-2.8z" fill="#f7f51b"/>
<path d="M2 18h3.3v1.3h-3.3z" fill="#f6ef20"/>
<path d="M5 18h2.3v1.3h-2.3z" fill="#f5e924"/>
<path d="M7 18h1.3v1.3h-1.3z" fill="#f7dc2a"/>
<path d="M8 18h1.3v1.3h-1.3z" fill="#fad62d"/>
<path d="M9 18h1.3v1.3h-1.3z" fill="#fec338"/>
<path d="M10 18h1.3v1.3h-1.3z" fill="#f8ba3d"/>
<path d="M11 18h1.3v1.3h-1.3z" fill="#d1bf27"/>
<path d="M12 18h1.3v1.3h-1.3z" fill="#8fcb4e"/>
<path d="M13 18h1.3v1.3h-1.3z" fill="#64cd6f"/>
<path d="M14 18h1.3v1.3h-1.3z" fill="#3fca8e"/>
<path d="M15 18h1.3v1.3h-1.3z" fill="#2cc4a7"/>
<path d="M16 18h1.3v1.3h-1.3z" fill="#19bfb6"/>
<path d="M17 18h1.3v1.3h-1.3z" fill="#01b8ca"/>
<path d="M18 18h1.3v1.3h-1.3z" fill="#18addb"/>
<path d="M19 18h1.5v1.3h-1.5z" fill="#20a5e3"/>
<path d="M-0.5 19h6.8v1.5h-6.8z" fill="#f9fb15"/>
<path d="M6 19h1.3v1.5h-1.3z" fill="#f7f51b"/>
<path d="M7 19h1.3v1.5h-1.3z" fill="#f6ef20"/>
<path d="M8 19h1.3v1.5h-1.3z" fill="#f5e924"/>
<path d="M9 19h1.3v1.5h-1.3z" fill="#f7dc2a"/>
<path d="M10 19h1.3v1.5h-1.3z" fill="#fccf30"/>
<path d="M11 19h1.3v1.5h-1.3z" fill="#f8ba3d"/>
<path d="M12 19h1.3v1.5h-1.3z" fill="#d1bf27"/>
<path d="M13 19h1.3v1.5h-1.3z" fill="#8fcb4e"/>
<path d="M14 19h1.3v1.5h-1.3z" fill="#57cc7a"/>
<path d="M15 19h1.3v1.5h-1.3z" fill="#37c897"/>
<path d="M16 19h1.3v1.5h-1.3z" fill="#2cc4a7"/>
<path d="M17 19h1.3v1.5h-1.3z" fill="#0bbdbd"/>
<path d="M18 19h1.3v1.5h-1.3z" fill="#01b8ca"/>
<path d="M19 19h1.5v1.5h-1.5z" fill="#12b1d6"/>
</g>
<path fill="#fff" fill-rule="evenodd" d="M32.95 212.4h124.95v124.6h-124.95zM37.45 216.9h115.95v115.6h-115.95z"/>
<path d="M37.45 332.4H153.4" fill="none" stroke="#262626" stroke-width="0.7" stroke-opacity="0.8"/>
<text x="37.45" y="345.1" font-size="10.85" fill="#262626" text-anchor="middle">0</text>
<text x="95.43" y="345.1" font-size="10.85" fill="#262626" text-anchor="middle">0.2</text>
<text x="153.4" y="345.1" font-size="10.85" fill="#262626" text-anchor="middle">0.4</text>
<text x="34.95" y="336.7" font-size="10.85" fill="#262626" text-anchor="end">0</text>
<text x="34.95" y="307.8" font-size="10.85" fill="#262626" text-anchor="end">0.1</text>
<text x="34.95" y="278.9" font-size="10.85" fill="#262626" text-anchor="end">0.2</text>
<text x="34.95" y="250" font-size="10.85" fill="#262626" text-anchor="end">0.3</text>
<text x="34.95" y="221.1" font-size="10.85" fill="#262626" text-anchor="end">0.4</text>
<text x="95.73" y="360.7" font-size="12" fill="#262626" text-anchor="middle">Exposed quarantine(q<tspan font-size="9.6" dy="5.4" dx="1.4">1</tspan><tspan dy="-5.4" dx="1.0" font-size="12">)</tspan></text>
<text transform="translate(10.15,275.7) rotate(-90)" font-size="11.9" fill="#262626" text-anchor="middle">Undocumented quarantine(q<tspan font-size="9.6" dy="5.4" dx="0.9">2</tspan><tspan dy="-5.4" dx="1.0" font-size="11.9">)</tspan></text>
<rect x="187" y="198.5" width="11" height="151" fill="url(#pg)" stroke="#262626" stroke-width="0.6"/>
<path d="M196.5 328.38h1.5" stroke="#262626" stroke-width="0.6"/>
<text x="202.9" y="332.18" font-size="11" fill="#262626">60</text>
<path d="M196.5 295.12h1.5" stroke="#262626" stroke-width="0.6"/>
<text x="202.9" y="298.92" font-size="11" fill="#262626">80</text>
<path d="M196.5 261.86h1.5" stroke="#262626" stroke-width="0.6"/>
<text x="202.9" y="265.66" font-size="11" fill="#262626">100</text>
<path d="M196.5 228.6h1.5" stroke="#262626" stroke-width="0.6"/>
<text x="202.9" y="232.4" font-size="11" fill="#262626">120</text>
<g transform="translate(272.85,217.2) scale(5.77750,5.72250)">
<path d="M-0.5 -0.5h1.8v1.8h-1.8z" fill="#327cfc"/>
<path d="M1 -0.5h1.3v1.8h-1.3z" fill="#4269fe"/>
<path d="M2 -0.5h1.3v1.8h-1.3z" fill="#465efb"/>
<path d="M3 -0.5h1.3v1.8h-1.3z" fill="#4852f4"/>
<path d="M4 -0.5h1.3v1.8h-1.3z" fill="#4747eb"/>
<path d="M5 -0.5h1.3v1.8h-1.3z" fill="#4741e5"/>
<path d="M6 -0.5h1.3v1.8h-1.3z" fill="#463cde"/>
<path d="M7 -0.5h1.3v1.8h-1.3z" fill="#4537d5"/>
<path d="M8 -0.5h2.3v1.8h-2.3z" fill="#4332cb"/>
<path d="M10 -0.5h1.3v1.8h-1.3z" fill="#422ec0"/>
<path d="M11 -0.5h3.3v1.8h-3.3z" fill="#402ab4"/>
<path d="M14 -0.5h6.5v1.8h-6.5z" fill="#3e26a8"/>
<path d="M-0.5 1h1.8v1.3h-1.8z" fill="#2f81fa"/>
<path d="M1 1h1.3v1.3h-1.3z" fill="#3e6fff"/>
<path d="M2 1h1.3v1.3h-1.3z" fill="#465efb"/>
<path d="M3 1h1.3v1.3h-1.3z" fill="#4852f4"/>
<path d="M4 1h1.3v1.3h-1.3z" fill="#484df0"/>
<path d="M5 1h1.3v1.3h-1.3z" fill="#4741e5"/>
<path d="M6 1h1.3v1.3h-1.3z" fill="#463cde"/>
<path d="M7 1h2.3v1.3h-2.3z" fill="#4537d5"/>
<path d="M9 1h1.3v1.3h-1.3z" fill="#4332cb"/>
<path d="M10 1h1.3v1.3h-1.3z" fill="#422ec0"/>
<path d="M11 1h4.3v1.3h-4.3z" fill="#402ab4"/>
<path d="M15 1h5.5v1.3h-5.5z" fill="#3e26a8"/>
<path d="M-0.5 2h1.8v1.3h-1.8z" fill="#2e87f7"/>
<path d="M1 2h1.3v1.3h-1.3z" fill="#3875fe"/>
<path d="M2 2h1.3v1.3h-1.3z" fill="#4563fd"/>
<path d="M3 2h1.3v1.3h-1.3z" fill="#4758f8"/>
<path d="M4 2h1.3v1.3h-1.3z" fill="#484df0"/>
<path d="M5 2h1.3v1.3h-1.3z" fill="#4747eb"/>
<path d="M6 2h1.3v1.3h-1.3z" fill="#4741e5"/>
<path d="M7 2h1.3v1.3h-1.3z" fill="#463cde"/>
<path d="M8 2h1.3v1.3h-1.3z" fill="#4537d5"/>
<path d="M9 2h1.3v1.3h-1.3z" fill="#4332cb"/>
<path d="M10 2h1.3v1.3h-1.3z" fill="#422ec0"/>
<path d="M11 2h4.3v1.3h-4.3z" fill="#402ab4"/>
<path d="M15 2h5.5v1.3h-5.5z" fill="#3e26a8"/>
<path d="M-0.5 3h1.8v1.3h-1.8z" fill="#2d8cf3"/>
<path d="M1 3h1.3v1.3h-1.3z" fill="#327cfc"/>
<path d="M2 3h1.3v1.3h-1.3z" fill="#4269fe"/>
<path d="M3 3h1.3v1.3h-1.3z" fill="#465efb"/>
<path d="M4 3h1.3v1.3h-1.3z" fill="#4852f4"/>
<path d="M5 3h1.3v1.3h-1.3z" fill="#4747eb"/>
<path d="M6 3h1.3v1.3h-1.3z" fill="#4741e5"/>
<path d="M7 3h1.3v1.3h-1.3z" fill="#463cde"/>
<path d="M8 3h1.3v1.3h-1.3z" fill="#4537d5"/>
<path d="M9 3h1.3v1.3h-1.3z" fill="#4332cb"/>
<path d="M10 3h2.3v1.3h-2.3z" fill="#422ec0"/>
<path d="M12 3h3.3v1.3h-3.3z" fill="#402ab4"/>
<path d="M15 3h5.5v1.3h-5.5z" fill="#3e26a8"/>
<path d="M-0.5 4h1.8v1.3h-1.8z" fill="#2797eb"/>
<path d="M1 4h1.3v1.3h-1.3z" fill="#2e87f7"/>
<path d="M2 4h1.3v1.3h-1.3z" fill="#3875fe"/>
<path d="M3 4h1.3v1.3h-1.3z" fill="#4563fd"/>
<path d="M4 4h1.3v1.3h-1.3z" fill="#4758f8"/>
<path d="M5 4h1.3v1.3h-1.3z" fill="#484df0"/>
<path d="M6 4h1.3v1.3h-1.3z" fill="#4747eb"/>
<path d="M7 4h1.3v1.3h-1.3z" fill="#463cde"/>
<path d="M8 4h1.3v1.3h-1.3z" fill="#4537d5"/>
<path d="M9 4h1.3v1.3h-1.3z" fill="#4332cb"/>
<path d="M10 4h2.3v1.3h-2.3z" fill="#422ec0"/>
<path d="M12 4h3.3v1.3h-3.3z" fill="#402ab4"/>
<path d="M15 4h5.5v1.3h-5.5z" fill="#3e26a8"/>
<path d="M-0.5 5h1.8v1.3h-1.8z" fill="#259be8"/>
<path d="M1 5h1.3v1.3h-1.3z" fill="#2d8cf3"/>
<path d="M2 5h1.3v1.3h-1.3z" fill="#327cfc"/>
<path d="M3 5h1.3v1.3h-1.3z" fill="#4269fe"/>
<path d="M4 5h1.3v1.3h-1.3z" fill="#465efb"/>
<path d="M5 5h1.3v1.3h-1.3z" fill="#4852f4"/>
<path d="M6 5h1.3v1.3h-1.3z" fill="#4747eb"/>
<path d="M7 5h1.3v1.3h-1.3z" fill="#4741e5"/>
<path d="M8 5h1.3v1.3h-1.3z" fill="#463cde"/>
<path d="M9 5h1.3v1.3h-1.3z" fill="#4332cb"/>
<path d="M10 5h2.3v1.3h-2.3z" fill="#422ec0"/>
<path d="M12 5h4.3v1.3h-4.3z" fill="#402ab4"/>
<path d="M16 5h4.5v1.3h-4.5z" fill="#3e26a8"/>
<path d="M-0.5 6h1.8v1.3h-1.8z" fill="#20a5e3"/>
<path d="M1 6h1.3v1.3h-1.3z" fill="#2797eb"/>
<path d="M2 6h1.3v1.3h-1.3z" fill="#2e87f7"/>
<path d="M3 6h1.3v1.3h-1.3z" fill="#3875fe"/>
<path d="M4 6h1.3v1.3h-1.3z" fill="#4563fd"/>
<path d="M5 6h1.3v1.3h-1.3z" fill="#4758f8"/>
<path d="M6 6h1.3v1.3h-1.3z" fill="#484df0"/>
<path d="M7 6h1.3v1.3h-1.3z" fill="#4747eb"/>
<path d="M8 6h1.3v1.3h-1.3z" fill="#463cde"/>
<path d="M9 6h1.3v1.3h-1.3z" fill="#4537d5"/>
<path d="M10 6h1.3v1.3h-1.3z" fill="#4332cb"/>
<path d="M11 6h2.3v1.3h-2.3z" fill="#422ec0"/>
<path d="M13 6h4.3v1.3h-4.3z" fill="#402ab4"/>
<path d="M17 6h3.5v1.3h-3.5z" fill="#3e26a8"/>
<path d="M-0.5 7h1.8v1.3h-1.8z" fill="#18addb"/>
<path d="M1 7h1.3v1.3h-1.3z" fill="#23a0e5"/>
<path d="M2 7h1.3v1.3h-1.3z" fill="#2d8cf3"/>
<path d="M3 7h1.3v1.3h-1.3z" fill="#327cfc"/>
<path d="M4 7h1.3v1.3h-1.3z" fill="#3e6fff"/>
<path d="M5 7h1.3v1.3h-1.3z" fill="#465efb"/>
<path d="M6 7h1.3v1.3h-1.3z" fill="#4852f4"/>
<path d="M7 7h1.3v1.3h-1.3z" fill="#484df0"/>
<path d="M8 7h1.3v1.3h-1.3z" fill="#4741e5"/>
<path d="M9 7h1.3v1.3h-1.3z" fill="#4537d5"/>
<path d="M10 7h2.3v1.3h-2.3z" fill="#4332cb"/>
<path d="M12 7h2.3v1.3h-2.3z" fill="#422ec0"/>
<path d="M14 7h3.3v1.3h-3.3z" fill="#402ab4"/>
<path d="M17 7h3.5v1.3h-3.5z" fill="#3e26a8"/>
<path d="M-0.5 8h1.8v1.3h-1.8z" fill="#01b8ca"/>
<path d="M1 8h1.3v1.3h-1.3z" fill="#1ca9df"/>
<path d="M2 8h1.3v1.3h-1.3z" fill="#259be8"/>
<path d="M3 8h1.3v1.3h-1.3z" fill="#2e87f7"/>
<path d="M4 8h1.3v1.3h-1.3z" fill="#3875fe"/>
<path d="M5 8h1.3v1.3h-1.3z" fill="#4269fe"/>
<path d="M6 8h1.3v1.3h-1.3z" fill="#465efb"/>
<path d="M7 8h1.3v1.3h-1.3z" fill="#4852f4"/>
<path d="M8 8h1.3v1.3h-1.3z" fill="#4747eb"/>
<path d="M9 8h1.3v1.3h-1.3z" fill="#463cde"/>
<path d="M10 8h1.3v1.3h-1.3z" fill="#4537d5"/>
<path d="M11 8h1.3v1.3h-1.3z" fill="#4332cb"/>
<path d="M12 8h3.3v1.3h-3.3z" fill="#422ec0"/>
<path d="M15 8h3.3v1.3h-3.3z" fill="#402ab4"/>
<path d="M18 8h2.5v1.3h-2.5z" fill="#3e26a8"/>
<path d="M-0.5 9h1.8v1.3h-1.8z" fill="#19bfb6"/>
<path d="M1 9h1.3v1.3h-1.3z" fill="#08b5d0"/>
<path d="M2 9h1.3v1.3h-1.3z" fill="#20a5e3"/>
<path d="M3 9h1.3v1.3h-1.3z" fill="#2797eb"/>
<path d="M4 9h1.3v1.3h-1.3z" fill="#2f81fa"/>
<path d="M5 9h1.3v1.3h-1.3z" fill="#3875fe"/>
<path d="M6 9h1.3v1.3h-1.3z" fill="#4563fd"/>
<path d="M7 9h1.3v1.3h-1.3z" fill="#4758f8"/>
<path d="M8 9h1.3v1.3h-1.3z" fill="#484df0"/>
<path d="M9 9h1.3v1.3h-1.3z" fill="#4741e5"/>
<path d="M10 9h1.3v1.3h-1.3z" fill="#4537d5"/>
<path d="M11 9h2.3v1.3h-2.3z" fill="#4332cb"/>
<path d="M13 9h2.3v1.3h-2.3z" fill="#422ec0"/>
<path d="M15 9h4.3v1.3h-4.3z" fill="#402ab4"/>
<path d="M19 9h1.5v1.3h-1.5z" fill="#3e26a8"/>
<path d="M-0.5 10h1.8v1.3h-1.8z" fill="#31c69f"/>
<path d="M1 10h1.3v1.3h-1.3z" fill="#0bbdbd"/>
<path d="M2 10h1.3v1.3h-1.3z" fill="#12b1d6"/>
<path d="M3 10h1.3v1.3h-1.3z" fill="#23a0e5"/>
<path d="M4 10h1.3v1.3h-1.3z" fill="#2b91ef"/>
<path d="M5 10h1.3v1.3h-1.3z" fill="#2f81fa"/>
<path d="M6 10h1.3v1.3h-1.3z" fill="#3e6fff"/>
<path d="M7 10h1.3v1.3h-1.3z" fill="#4563fd"/>
<path d="M8 10h1.3v1.3h-1.3z" fill="#4852f4"/>
<path d="M9 10h1.3v1.3h-1.3z" fill="#4747eb"/>
<path d="M10 10h1.3v1.3h-1.3z" fill="#4741e5"/>
<path d="M11 10h1.3v1.3h-1.3z" fill="#463cde"/>
<path d="M12 10h1.3v1.3h-1.3z" fill="#4537d5"/>
<path d="M13 10h2.3v1.3h-2.3z" fill="#4332cb"/>
<path d="M15 10h1.3v1.3h-1.3z" fill="#422ec0"/>
<path d="M16 10h3.3v1.3h-3.3z" fill="#402ab4"/>
<path d="M19 10h1.5v1.3h-1.5z" fill="#3e26a8"/>
<path d="M-0.5 11h1.8v1.3h-1.8z" fill="#4acb84"/>
<path d="M1 11h1.3v1.3h-1.3z" fill="#24c1ae"/>
<path d="M2 11h1.3v1.3h-1.3z" fill="#01b8ca"/>
<path d="M3 11h1.3v1.3h-1.3z" fill="#1ca9df"/>
<path d="M4 11h1.3v1.3h-1.3z" fill="#259be8"/>
<path d="M5 11h1.3v1.3h-1.3z" fill="#2d8cf3"/>
<path d="M6 11h1.3v1.3h-1.3z" fill="#327cfc"/>
<path d="M7 11h1.3v1.3h-1.3z" fill="#3e6fff"/>
<path d="M8 11h1.3v1.3h-1.3z" fill="#465efb"/>
<path d="M9 11h1.3v1.3h-1.3z" fill="#484df0"/>
<path d="M10 11h1.3v1.3h-1.3z" fill="#4747eb"/>
<path d="M11 11h1.3v1.3h-1.3z" fill="#4741e5"/>
<path d="M12 11h1.3v1.3h-1.3z" fill="#463cde"/>
<path d="M13 11h1.3v1.3h-1.3z" fill="#4537d5"/>
<path d="M14 11h2.3v1.3h-2.3z" fill="#4332cb"/>
<path d="M16 11h1.3v1.3h-1.3z" fill="#422ec0"/>
<path d="M17 11h3.5v1.3h-3.5z" fill="#402ab4"/>
<path d="M-0.5 12h1.8v1.3h-1.8z" fill="#72cd64"/>
<path d="M1 12h1.3v1.3h-1.3z" fill="#37c897"/>
<path d="M2 12h1.3v1.3h-1.3z" fill="#0bbdbd"/>
<path d="M3 12h1.3v1.3h-1.3z" fill="#08b5d0"/>
<path d="M4 12h1.3v1.3h-1.3z" fill="#20a5e3"/>
<path d="M5 12h1.3v1.3h-1.3z" fill="#2797eb"/>
<path d="M6 12h1.3v1.3h-1.3z" fill="#2e87f7"/>
<path d="M7 12h1.3v1.3h-1.3z" fill="#3875fe"/>
<path d="M8 12h1.3v1.3h-1.3z" fill="#4269fe"/>
<path d="M9 12h1.3v1.3h-1.3z" fill="#4758f8"/>
<path d="M10 12h1.3v1.3h-1.3z" fill="#484df0"/>
<path d="M11 12h1.3v1.3h-1.3z" fill="#4747eb"/>
<path d="M12 12h1.3v1.3h-1.3z" fill="#4741e5"/>
<path d="M13 12h1.3v1.3h-1.3z" fill="#463cde"/>
<path d="M14 12h1.3v1.3h-1.3z" fill="#4537d5"/>
<path d="M15 12h2.3v1.3h-2.3z" fill="#4332cb"/>
<path d="M17 12h1.3v1.3h-1.3z" fill="#422ec0"/>
<path d="M18 12h2.5v1.3h-2.5z" fill="#402ab4"/>
<path d="M-0.5 13h1.8v1.3h-1.8z" fill="#9dc943"/>
<path d="M1 13h1.3v1.3h-1.3z" fill="#57cc7a"/>
<path d="M2 13h1.3v1.3h-1.3z" fill="#2cc4a7"/>
<path d="M3 13h1.3v1.3h-1.3z" fill="#02bac3"/>
<path d="M4 13h1.3v1.3h-1.3z" fill="#18addb"/>
<path d="M5 13h1.3v1.3h-1.3z" fill="#23a0e5"/>
<path d="M6 13h1.3v1.3h-1.3z" fill="#2b91ef"/>
<path d="M7 13h1.3v1.3h-1.3z" fill="#2f81fa"/>
<path d="M8 13h1.3v1.3h-1.3z" fill="#3875fe"/>
<path d="M9 13h1.3v1.3h-1.3z" fill="#4563fd"/>
<path d="M10 13h1.3v1.3h-1.3z" fill="#4758f8"/>
<path d="M11 13h1.3v1.3h-1.3z" fill="#484df0"/>
<path d="M12 13h1.3v1.3h-1.3z" fill="#4747eb"/>
<path d="M13 13h1.3v1.3h-1.3z" fill="#4741e5"/>
<path d="M14 13h1.3v1.3h-1.3z" fill="#463cde"/>
<path d="M15 13h1.3v1.3h-1.3z" fill="#4537d5"/>
<path d="M16 13h2.3v1.3h-2.3z" fill="#4332cb"/>
<path d="M18 13h2.5v1.3h-2.5z" fill="#422ec0"/>
<path d="M-0.5 14h1.8v1.3h-1.8z" fill="#d1bf27"/>
<path d="M1 14h1.3v1.3h-1.3z" fill="#8fcb4e"/>
<path d="M2 14h1.3v1.3h-1.3z" fill="#4acb84"/>
<path d="M3 14h1.3v1.3h-1.3z" fill="#24c1ae"/>
<path d="M4 14h1.3v1.3h-1.3z" fill="#01b8ca"/>
<path d="M5 14h1.3v1.3h-1.3z" fill="#18addb"/>
<path d="M6 14h1.3v1.3h-1.3z" fill="#259be8"/>
<path d="M7 14h1.3v1.3h-1.3z" fill="#2d8cf3"/>
<path d="M8 14h1.3v1.3h-1.3z" fill="#2f81fa"/>
<path d="M9 14h1.3v1.3h-1.3z" fill="#3e6fff"/>
<path d="M10 14h1.3v1.3h-1.3z" fill="#465efb"/>
<path d="M11 14h1.3v1.3h-1.3z" fill="#4758f8"/>
<path d="M12 14h1.3v1.3h-1.3z" fill="#484df0"/>
<path d="M13 14h1.3v1.3h-1.3z" fill="#4747eb"/>
<path d="M14 14h1.3v1.3h-1.3z" fill="#4741e5"/>
<path d="M15 14h1.3v1.3h-1.3z" fill="#463cde"/>
<path d="M16 14h1.3v1.3h-1.3z" fill="#4537d5"/>
<path d="M17 14h2.3v1.3h-2.3z" fill="#4332cb"/>
<path d="M19 14h1.5v1.3h-1.5z" fill="#422ec0"/>
<path d="M-0.5 15h1.8v1.3h-1.8z" fill="#f8ba3d"/>
<path d="M1 15h1.3v1.3h-1.3z" fill="#c5c22a"/>
<path d="M2 15h1.3v1.3h-1.3z" fill="#72cd64"/>
<path d="M3 15h1.3v1.3h-1.3z" fill="#3fca8e"/>
<path d="M4 15h1.3v1.3h-1.3z" fill="#24c1ae"/>
<path d="M5 15h1.3v1.3h-1.3z" fill="#01b8ca"/>
<path d="M6 15h1.3v1.3h-1.3z" fill="#1ca9df"/>
<path d="M7 15h1.3v1.3h-1.3z" fill="#259be8"/>
<path d="M8 15h1.3v1.3h-1.3z" fill="#2d8cf3"/>
<path d="M9 15h1.3v1.3h-1.3z" fill="#327cfc"/>
<path d="M10 15h1.3v1.3h-1.3z" fill="#4269fe"/>
<path d="M11 15h1.3v1.3h-1.3z" fill="#465efb"/>
<path d="M12 15h1.3v1.3h-1.3z" fill="#4852f4"/>
<path d="M13 15h1.3v1.3h-1.3z" fill="#484df0"/>
<path d="M14 15h1.3v1.3h-1.3z" fill="#4747eb"/>
<path d="M15 15h1.3v1.3h-1.3z" fill="#4741e5"/>
<path d="M16 15h1.3v1.3h-1.3z" fill="#463cde"/>
<path d="M17 15h1.3v1.3h-1.3z" fill="#4537d5"/>
<path d="M18 15h2.5v1.3h-2.5z" fill="#4332cb"/>
<path d="M-0.5 16h1.8v1.3h-1.8z" fill="#fec934"/>
<path d="M1 16h1.3v1.3h-1.3z" fill="#e6bb2d"/>
<path d="M2 16h1.3v1.3h-1.3z" fill="#9dc943"/>
<path d="M3 16h1.3v1.3h-1.3z" fill="#64cd6f"/>
<path d="M4 16h1.3v1.3h-1.3z" fill="#31c69f"/>
<path d="M5 16h1.3v1.3h-1.3z" fill="#0bbdbd"/>
<path d="M6 16h1.3v1.3h-1.3z" fill="#08b5d0"/>
<path d="M7 16h1.3v1.3h-1.3z" fill="#20a5e3"/>
<path d="M8 16h1.3v1.3h-1.3z" fill="#2797eb"/>
<path d="M9 16h1.3v1.3h-1.3z" fill="#2e87f7"/>
<path d="M10 16h1.3v1.3h-1.3z" fill="#3875fe"/>
<path d="M11 16h1.3v1.3h-1.3z" fill="#4269fe"/>
<path d="M12 16h1.3v1.3h-1.3z" fill="#465efb"/>
<path d="M13 16h1.3v1.3h-1.3z" fill="#4852f4"/>
<path d="M14 16h1.3v1.3h-1.3z" fill="#484df0"/>
<path d="M15 16h1.3v1.3h-1.3z" fill="#4747eb"/>
<path d="M16 16h1.3v1.3h-1.3z" fill="#4741e5"/>
<path d="M17 16h1.3v1.3h-1.3z" fill="#463cde"/>
<path d="M18 16h1.3v1.3h-1.3z" fill="#4537d5"/>
<path d="M19 16h1.5v1.3h-1.5z" fill="#4332cb"/>
<path d="M-0.5 17h1.8v1.3h-1.8z" fill="#f7dc2a"/>
<path d="M1 17h1.3v1.3h-1.3z" fill="#fec338"/>
<path d="M2 17h1.3v1.3h-1.3z" fill="#dcbd29"/>
<path d="M3 17h1.3v1.3h-1.3z" fill="#9dc943"/>
<path d="M4 17h1.3v1.3h-1.3z" fill="#57cc7a"/>
<path d="M5 17h1.3v1.3h-1.3z" fill="#31c69f"/>
<path d="M6 17h1.3v1.3h-1.3z" fill="#0bbdbd"/>
<path d="M7 17h1.3v1.3h-1.3z" fill="#12b1d6"/>
<path d="M8 17h1.3v1.3h-1.3z" fill="#23a0e5"/>
<path d="M9 17h1.3v1.3h-1.3z" fill="#2b91ef"/>
<path d="M10 17h1.3v1.3h-1.3z" fill="#2f81fa"/>
<path d="M11 17h1.3v1.3h-1.3z" fill="#3875fe"/>
<path d="M12 17h1.3v1.3h-1.3z" fill="#4563fd"/>
<path d="M13 17h1.3v1.3h-1.3z" fill="#465efb"/>
<path d="M14 17h1.3v1.3h-1.3z" fill="#4852f4"/>
<path d="M15 17h1.3v1.3h-1.3z" fill="#484df0"/>
<path d="M16 17h1.3v1.3h-1.3z" fill="#4747eb"/>
<path d="M17 17h1.3v1.3h-1.3z" fill="#4741e5"/>
<path d="M18 17h1.3v1.3h-1.3z" fill="#463cde"/>
<path d="M19 17h1.5v1.3h-1.5z" fill="#4537d5"/>
<path d="M-0.5 18h1.8v1.3h-1.8z" fill="#f5e924"/>
<path d="M1 18h1.3v1.3h-1.3z" fill="#fad62d"/>
<path d="M2 18h1.3v1.3h-1.3z" fill="#febe3c"/>
<path d="M3 18h1.3v1.3h-1.3z" fill="#dcbd29"/>
<path d="M4 18h1.3v1.3h-1.3z" fill="#8fcb4e"/>
<path d="M5 18h1.3v1.3h-1.3z" fill="#4acb84"/>
<path d="M6 18h1.3v1.3h-1.3z" fill="#2cc4a7"/>
<path d="M7 18h1.3v1.3h-1.3z" fill="#02bac3"/>
<path d="M8 18h1.3v1.3h-1.3z" fill="#18addb"/>
<path d="M9 18h1.3v1.3h-1.3z" fill="#23a0e5"/>
<path d="M10 18h1.3v1.3h-1.3z" fill="#2b91ef"/>
<path d="M11 18h1.3v1.3h-1.3z" fill="#2f81fa"/>
<path d="M12 18h1.3v1.3h-1.3z" fill="#3e6fff"/>
<path d="M13 18h1.3v1.3h-1.3z" fill="#4563fd"/>
<path d="M14 18h1.3v1.3h-1.3z" fill="#4758f8"/>
<path d="M15 18h1.3v1.3h-1.3z" fill="#4852f4"/>
<path d="M16 18h1.3v1.3h-1.3z" fill="#484df0"/>
<path d="M17 18h1.3v1.3h-1.3z" fill="#4747eb"/>
<path d="M18 18h1.3v1.3h-1.3z" fill="#4741e5"/>
<path d="M19 18h1.5v1.3h-1.5z" fill="#463cde"/>
<path d="M-0.5 19h1.8v1.5h-1.8z" fill="#f7f51b"/>
<path d="M1 19h1.3v1.5h-1.3z" fill="#f5e924"/>
<path d="M2 19h1.3v1.5h-1.3z" fill="#fccf30"/>
<path d="M3 19h1.3v1.5h-1.3z" fill="#febe3c"/>
<path d="M4 19h1.3v1.5h-1.3z" fill="#c5c22a"/>
<path d="M5 19h1.3v1.5h-1.3z" fill="#81cc59"/>
<path d="M6 19h1.3v1.5h-1.3z" fill="#3fca8e"/>
<path d="M7 19h1.3v1.5h-1.3z" fill="#24c1ae"/>
<path d="M8 19h1.3v1.5h-1.3z" fill="#01b8ca"/>
<path d="M9 19h1.3v1.5h-1.3z" fill="#1ca9df"/>
<path d="M10 19h1.3v1.5h-1.3z" fill="#2797eb"/>
<path d="M11 19h1.3v1.5h-1.3z" fill="#2e87f7"/>
<path d="M12 19h1.3v1.5h-1.3z" fill="#327cfc"/>
<path d="M13 19h1.3v1.5h-1.3z" fill="#4269fe"/>
<path d="M14 19h1.3v1.5h-1.3z" fill="#4563fd"/>
<path d="M15 19h1.3v1.5h-1.3z" fill="#4758f8"/>
<path d="M16 19h1.3v1.5h-1.3z" fill="#4852f4"/>
<path d="M17 19h1.3v1.5h-1.3z" fill="#484df0"/>
<path d="M18 19h2.5v1.5h-2.5z" fill="#4741e5"/>
</g>
<path fill="#fff" fill-rule="evenodd" d="M268.35 212.7h124.55v123.45h-124.55zM272.85 217.2h115.55v114.45h-115.55z"/>
<path d="M272.85 331.55H388.4" fill="none" stroke="#262626" stroke-width="0.7" stroke-opacity="0.8"/>
<path d="M272.75 217.2V331.65" fill="none" stroke="#262626" stroke-width="0.6" stroke-opacity="0.6"/>
<text x="272.85" y="345.1" font-size="10.85" fill="#262626" text-anchor="middle">0</text>
<text x="330.62" y="345.1" font-size="10.85" fill="#262626" text-anchor="middle">0.2</text>
<text x="388.4" y="345.1" font-size="10.85" fill="#262626" text-anchor="middle">0.4</text>
<text x="270.35" y="336.7" font-size="10.85" fill="#262626" text-anchor="end">0</text>
<text x="270.35" y="307.8" font-size="10.85" fill="#262626" text-anchor="end">0.1</text>
<text x="270.35" y="278.9" font-size="10.85" fill="#262626" text-anchor="end">0.2</text>
<text x="270.35" y="250" font-size="10.85" fill="#262626" text-anchor="end">0.3</text>
<text x="270.35" y="221.1" font-size="10.85" fill="#262626" text-anchor="end">0.4</text>
<text x="330.93" y="360.7" font-size="12" fill="#262626" text-anchor="middle">Exposed quarantine(q<tspan font-size="9.6" dy="5.4" dx="1.4">1</tspan><tspan dy="-5.4" dx="1.0" font-size="12">)</tspan></text>
<text transform="translate(245.55,275.7) rotate(-90)" font-size="11.9" fill="#262626" text-anchor="middle">Undocumented quarantine(q<tspan font-size="9.6" dy="5.4" dx="0.9">2</tspan><tspan dy="-5.4" dx="1.0" font-size="11.9">)</tspan></text>
<rect x="422.2" y="198.5" width="11" height="151" fill="url(#pg)" stroke="#262626" stroke-width="0.6"/>
<path d="M431.7 329.82h1.5" stroke="#262626" stroke-width="0.6"/>
<text x="438.1" y="333.62" font-size="11" fill="#262626">10%</text>
<path d="M431.7 303.92h1.5" stroke="#262626" stroke-width="0.6"/>
<text x="438.1" y="307.72" font-size="11" fill="#262626">20%</text>
<path d="M431.7 278.01h1.5" stroke="#262626" stroke-width="0.6"/>
<text x="438.1" y="281.81" font-size="11" fill="#262626">30%</text>
<path d="M431.7 252.11h1.5" stroke="#262626" stroke-width="0.6"/>
<text x="438.1" y="255.91" font-size="11" fill="#262626">40%</text>
<path d="M431.7 226.21h1.5" stroke="#262626" stroke-width="0.6"/>
<text x="438.1" y="230.01" font-size="11" fill="#262626">50%</text>
<g transform="translate(508.5,217.2) scale(5.74500,5.72250)">
<path d="M-0.5 -0.5h1.8v1.8h-1.8z" fill="#b9c431"/>
<path d="M1 -0.5h1.3v1.8h-1.3z" fill="#57cc7a"/>
<path d="M2 -0.5h1.3v1.8h-1.3z" fill="#19bfb6"/>
<path d="M3 -0.5h1.3v1.8h-1.3z" fill="#08b5d0"/>
<path d="M4 -0.5h1.3v1.8h-1.3z" fill="#2797eb"/>
<path d="M5 -0.5h1.3v1.8h-1.3z" fill="#2f81fa"/>
<path d="M6 -0.5h1.3v1.8h-1.3z" fill="#3e6fff"/>
<path d="M7 -0.5h2.3v1.8h-2.3z" fill="#4758f8"/>
<path d="M9 -0.5h3.3v1.8h-3.3z" fill="#4332cb"/>
<path d="M12 -0.5h8.5v1.8h-8.5z" fill="#3e26a8"/>
<path d="M-0.5 1h1.8v1.3h-1.8z" fill="#dcbd29"/>
<path d="M1 1h1.3v1.3h-1.3z" fill="#81cc59"/>
<path d="M2 1h1.3v1.3h-1.3z" fill="#31c69f"/>
<path d="M3 1h1.3v1.3h-1.3z" fill="#08b5d0"/>
<path d="M4 1h1.3v1.3h-1.3z" fill="#2797eb"/>
<path d="M5 1h1.3v1.3h-1.3z" fill="#2f81fa"/>
<path d="M6 1h1.3v1.3h-1.3z" fill="#3e6fff"/>
<path d="M7 1h1.3v1.3h-1.3z" fill="#4758f8"/>
<path d="M8 1h1.3v1.3h-1.3z" fill="#4747eb"/>
<path d="M9 1h3.3v1.3h-3.3z" fill="#4332cb"/>
<path d="M12 1h8.5v1.3h-8.5z" fill="#3e26a8"/>
<path d="M-0.5 2h1.8v1.3h-1.8z" fill="#febe3c"/>
<path d="M1 2h1.3v1.3h-1.3z" fill="#b9c431"/>
<path d="M2 2h1.3v1.3h-1.3z" fill="#57cc7a"/>
<path d="M3 2h1.3v1.3h-1.3z" fill="#19bfb6"/>
<path d="M4 2h1.3v1.3h-1.3z" fill="#20a5e3"/>
<path d="M5 2h1.3v1.3h-1.3z" fill="#2f81fa"/>
<path d="M6 2h1.3v1.3h-1.3z" fill="#3e6fff"/>
<path d="M7 2h1.3v1.3h-1.3z" fill="#4758f8"/>
<path d="M8 2h2.3v1.3h-2.3z" fill="#4747eb"/>
<path d="M10 2h3.3v1.3h-3.3z" fill="#4332cb"/>
<path d="M13 2h7.5v1.3h-7.5z" fill="#3e26a8"/>
<path d="M-0.5 3h1.8v1.3h-1.8z" fill="#febe3c"/>
<path d="M1 3h1.3v1.3h-1.3z" fill="#b9c431"/>
<path d="M2 3h1.3v1.3h-1.3z" fill="#57cc7a"/>
<path d="M3 3h1.3v1.3h-1.3z" fill="#31c69f"/>
<path d="M4 3h1.3v1.3h-1.3z" fill="#08b5d0"/>
<path d="M5 3h1.3v1.3h-1.3z" fill="#2797eb"/>
<path d="M6 3h2.3v1.3h-2.3z" fill="#3e6fff"/>
<path d="M8 3h1.3v1.3h-1.3z" fill="#4758f8"/>
<path d="M9 3h2.3v1.3h-2.3z" fill="#4747eb"/>
<path d="M11 3h3.3v1.3h-3.3z" fill="#4332cb"/>
<path d="M14 3h6.5v1.3h-6.5z" fill="#3e26a8"/>
<path d="M-0.5 4h1.8v1.3h-1.8z" fill="#fccf30"/>
<path d="M1 4h1.3v1.3h-1.3z" fill="#dcbd29"/>
<path d="M2 4h1.3v1.3h-1.3z" fill="#81cc59"/>
<path d="M3 4h1.3v1.3h-1.3z" fill="#31c69f"/>
<path d="M4 4h1.3v1.3h-1.3z" fill="#19bfb6"/>
<path d="M5 4h1.3v1.3h-1.3z" fill="#20a5e3"/>
<path d="M6 4h1.3v1.3h-1.3z" fill="#2f81fa"/>
<path d="M7 4h1.3v1.3h-1.3z" fill="#3e6fff"/>
<path d="M8 4h1.3v1.3h-1.3z" fill="#4758f8"/>
<path d="M9 4h1.3v1.3h-1.3z" fill="#4747eb"/>
<path d="M10 4h5.3v1.3h-5.3z" fill="#4332cb"/>
<path d="M15 4h5.5v1.3h-5.5z" fill="#3e26a8"/>
<path d="M-0.5 5h1.8v1.3h-1.8z" fill="#fccf30"/>
<path d="M1 5h1.3v1.3h-1.3z" fill="#febe3c"/>
<path d="M2 5h1.3v1.3h-1.3z" fill="#b9c431"/>
<path d="M3 5h1.3v1.3h-1.3z" fill="#57cc7a"/>
<path d="M4 5h1.3v1.3h-1.3z" fill="#19bfb6"/>
<path d="M5 5h1.3v1.3h-1.3z" fill="#08b5d0"/>
<path d="M6 5h1.3v1.3h-1.3z" fill="#2f81fa"/>
<path d="M7 5h2.3v1.3h-2.3z" fill="#3e6fff"/>
<path d="M9 5h1.3v1.3h-1.3z" fill="#4758f8"/>
<path d="M10 5h1.3v1.3h-1.3z" fill="#4747eb"/>
<path d="M11 5h5.3v1.3h-5.3z" fill="#4332cb"/>
<path d="M16 5h4.5v1.3h-4.5z" fill="#3e26a8"/>
<path d="M-0.5 6h1.8v1.3h-1.8z" fill="#fccf30"/>
<path d="M1 6h1.3v1.3h-1.3z" fill="#febe3c"/>
<path d="M2 6h1.3v1.3h-1.3z" fill="#dcbd29"/>
<path d="M3 6h1.3v1.3h-1.3z" fill="#81cc59"/>
<path d="M4 6h1.3v1.3h-1.3z" fill="#31c69f"/>
<path d="M5 6h1.3v1.3h-1.3z" fill="#08b5d0"/>
<path d="M6 6h1.3v1.3h-1.3z" fill="#20a5e3"/>
<path d="M7 6h1.3v1.3h-1.3z" fill="#2f81fa"/>
<path d="M8 6h1.3v1.3h-1.3z" fill="#3e6fff"/>
<path d="M9 6h1.3v1.3h-1.3z" fill="#4758f8"/>
<path d="M10 6h2.3v1.3h-2.3z" fill="#4747eb"/>
<path d="M12 6h5.3v1.3h-5.3z" fill="#4332cb"/>
<path d="M17 6h3.5v1.3h-3.5z" fill="#3e26a8"/>
<path d="M-0.5 7h1.8v1.3h-1.8z" fill="#f5e924"/>
<path d="M1 7h1.3v1.3h-1.3z" fill="#fccf30"/>
<path d="M2 7h1.3v1.3h-1.3z" fill="#dcbd29"/>
<path d="M3 7h1.3v1.3h-1.3z" fill="#b9c431"/>
<path d="M4 7h1.3v1.3h-1.3z" fill="#57cc7a"/>
<path d="M5 7h1.3v1.3h-1.3z" fill="#19bfb6"/>
<path d="M6 7h1.3v1.3h-1.3z" fill="#08b5d0"/>
<path d="M7 7h1.3v1.3h-1.3z" fill="#2797eb"/>
<path d="M8 7h1.3v1.3h-1.3z" fill="#2f81fa"/>
<path d="M9 7h1.3v1.3h-1.3z" fill="#3e6fff"/>
<path d="M10 7h1.3v1.3h-1.3z" fill="#4758f8"/>
<path d="M11 7h2.3v1.3h-2.3z" fill="#4747eb"/>
<path d="M13 7h5.3v1.3h-5.3z" fill="#4332cb"/>
<path d="M18 7h2.5v1.3h-2.5z" fill="#3e26a8"/>
<path d="M-0.5 8h1.8v1.3h-1.8z" fill="#f5e924"/>
<path d="M1 8h1.3v1.3h-1.3z" fill="#fccf30"/>
<path d="M2 8h1.3v1.3h-1.3z" fill="#febe3c"/>
<path d="M3 8h1.3v1.3h-1.3z" fill="#dcbd29"/>
<path d="M4 8h1.3v1.3h-1.3z" fill="#81cc59"/>
<path d="M5 8h1.3v1.3h-1.3z" fill="#31c69f"/>
<path d="M6 8h1.3v1.3h-1.3z" fill="#08b5d0"/>
<path d="M7 8h1.3v1.3h-1.3z" fill="#20a5e3"/>
<path d="M8 8h1.3v1.3h-1.3z" fill="#2f81fa"/>
<path d="M9 8h1.3v1.3h-1.3z" fill="#3e6fff"/>
<path d="M10 8h2.3v1.3h-2.3z" fill="#4758f8"/>
<path d="M12 8h2.3v1.3h-2.3z" fill="#4747eb"/>
<path d="M14 8h5.3v1.3h-5.3z" fill="#4332cb"/>
<path d="M19 8h1.5v1.3h-1.5z" fill="#3e26a8"/>
<path d="M-0.5 9h2.8v1.3h-2.8z" fill="#f5e924"/>
<path d="M2 9h1.3v1.3h-1.3z" fill="#fccf30"/>
<path d="M3 9h1.3v1.3h-1.3z" fill="#dcbd29"/>
<path d="M4 9h1.3v1.3h-1.3z" fill="#b9c431"/>
<path d="M5 9h1.3v1.3h-1.3z" fill="#57cc7a"/>
<path d="M6 9h1.3v1.3h-1.3z" fill="#19bfb6"/>
<path d="M7 9h1.3v1.3h-1.3z" fill="#08b5d0"/>
<path d="M8 9h1.3v1.3h-1.3z" fill="#2797eb"/>
<path d="M9 9h1.3v1.3h-1.3z" fill="#2f81fa"/>
<path d="M10 9h1.3v1.3h-1.3z" fill="#3e6fff"/>
<path d="M11 9h2.3v1.3h-2.3z" fill="#4758f8"/>
<path d="M13 9h2.3v1.3h-2.3z" fill="#4747eb"/>
<path d="M15 9h5.5v1.3h-5.5z" fill="#4332cb"/>
<path d="M-0.5 10h2.8v1.3h-2.8z" fill="#f5e924"/>
<path d="M2 10h1.3v1.3h-1.3z" fill="#fccf30"/>
<path d="M3 10h1.3v1.3h-1.3z" fill="#febe3c"/>
<path d="M4 10h1.3v1.3h-1.3z" fill="#dcbd29"/>
<path d="M5 10h1.3v1.3h-1.3z" fill="#81cc59"/>
<path d="M6 10h2.3v1.3h-2.3z" fill="#19bfb6"/>
<path d="M8 10h1.3v1.3h-1.3z" fill="#20a5e3"/>
<path d="M9 10h1.3v1.3h-1.3z" fill="#2797eb"/>
<path d="M10 10h1.3v1.3h-1.3z" fill="#2f81fa"/>
<path d="M11 10h2.3v1.3h-2.3z" fill="#3e6fff"/>
<path d="M13 10h2.3v1.3h-2.3z" fill="#4758f8"/>
<path d="M15 10h1.3v1.3h-1.3z" fill="#4747eb"/>
<path d="M16 10h4.5v1.3h-4.5z" fill="#4332cb"/>
<path d="M-0.5 11h1.8v1.3h-1.8z" fill="#f9fb15"/>
<path d="M1 11h2.3v1.3h-2.3z" fill="#f5e924"/>
<path d="M3 11h1.3v1.3h-1.3z" fill="#fccf30"/>
<path d="M4 11h1.3v1.3h-1.3z" fill="#dcbd29"/>
<path d="M5 11h1.3v1.3h-1.3z" fill="#b9c431"/>
<path d="M6 11h1.3v1.3h-1.3z" fill="#57cc7a"/>
<path d="M7 11h1.3v1.3h-1.3z" fill="#19bfb6"/>
<path d="M8 11h1.3v1.3h-1.3z" fill="#08b5d0"/>
<path d="M9 11h1.3v1.3h-1.3z" fill="#20a5e3"/>
<path d="M10 11h1.3v1.3h-1.3z" fill="#2797eb"/>
<path d="M11 11h1.3v1.3h-1.3z" fill="#2f81fa"/>
<path d="M12 11h2.3v1.3h-2.3z" fill="#3e6fff"/>
<path d="M14 11h1.3v1.3h-1.3z" fill="#4758f8"/>
<path d="M15 11h2.3v1.3h-2.3z" fill="#4747eb"/>
<path d="M17 11h3.5v1.3h-3.5z" fill="#4332cb"/>
<path d="M-0.5 12h1.8v1.3h-1.8z" fill="#f9fb15"/>
<path d="M1 12h2.3v1.3h-2.3z" fill="#f5e924"/>
<path d="M3 12h1.3v1.3h-1.3z" fill="#fccf30"/>
<path d="M4 12h1.3v1.3h-1.3z" fill="#febe3c"/>
<path d="M5 12h1.3v1.3h-1.3z" fill="#dcbd29"/>
<path d="M6 12h1.3v1.3h-1.3z" fill="#81cc59"/>
<path d="M7 12h1.3v1.3h-1.3z" fill="#57cc7a"/>
<path d="M8 12h2.3v1.3h-2.3z" fill="#08b5d0"/>
<path d="M10 12h1.3v1.3h-1.3z" fill="#20a5e3"/>
<path d="M11 12h2.3v1.3h-2.3z" fill="#2f81fa"/>
<path d="M13 12h1.3v1.3h-1.3z" fill="#3e6fff"/>
<path d="M14 12h2.3v1.3h-2.3z" fill="#4758f8"/>
<path d="M16 12h2.3v1.3h-2.3z" fill="#4747eb"/>
<path d="M18 12h2.5v1.3h-2.5z" fill="#4332cb"/>
<path d="M-0.5 13h1.8v1.3h-1.8z" fill="#f9fb15"/>
<path d="M1 13h3.3v1.3h-3.3z" fill="#f5e924"/>
<path d="M4 13h1.3v1.3h-1.3z" fill="#fccf30"/>
<path d="M5 13h1.3v1.3h-1.3z" fill="#febe3c"/>
<path d="M6 13h1.3v1.3h-1.3z" fill="#b9c431"/>
<path d="M7 13h1.3v1.3h-1.3z" fill="#81cc59"/>
<path d="M8 13h1.3v1.3h-1.3z" fill="#19bfb6"/>
<path d="M9 13h1.3v1.3h-1.3z" fill="#08b5d0"/>
<path d="M10 13h1.3v1.3h-1.3z" fill="#20a5e3"/>
<path d="M11 13h1.3v1.3h-1.3z" fill="#2797eb"/>
<path d="M12 13h1.3v1.3h-1.3z" fill="#2f81fa"/>
<path d="M13 13h2.3v1.3h-2.3z" fill="#3e6fff"/>
<path d="M15 13h2.3v1.3h-2.3z" fill="#4758f8"/>
<path d="M17 13h3.5v1.3h-3.5z" fill="#4747eb"/>
<path d="M-0.5 14h1.8v1.3h-1.8z" fill="#f5e924"/>
<path d="M1 14h1.3v1.3h-1.3z" fill="#f9fb15"/>
<path d="M2 14h2.3v1.3h-2.3z" fill="#f5e924"/>
<path d="M4 14h1.3v1.3h-1.3z" fill="#fccf30"/>
<path d="M5 14h1.3v1.3h-1.3z" fill="#febe3c"/>
<path d="M6 14h1.3v1.3h-1.3z" fill="#dcbd29"/>
<path d="M7 14h1.3v1.3h-1.3z" fill="#b9c431"/>
<path d="M8 14h1.3v1.3h-1.3z" fill="#57cc7a"/>
<path d="M9 14h1.3v1.3h-1.3z" fill="#19bfb6"/>
<path d="M10 14h1.3v1.3h-1.3z" fill="#08b5d0"/>
<path d="M11 14h1.3v1.3h-1.3z" fill="#20a5e3"/>
<path d="M12 14h1.3v1.3h-1.3z" fill="#2797eb"/>
<path d="M13 14h2.3v1.3h-2.3z" fill="#2f81fa"/>
<path d="M15 14h1.3v1.3h-1.3z" fill="#3e6fff"/>
<path d="M16 14h2.3v1.3h-2.3z" fill="#4758f8"/>
<path d="M18 14h2.5v1.3h-2.5z" fill="#4747eb"/>
<path d="M-0.5 15h5.8v1.3h-5.8z" fill="#f5e924"/>
<path d="M5 15h1.3v1.3h-1.3z" fill="#fccf30"/>
<path d="M6 15h1.3v1.3h-1.3z" fill="#febe3c"/>
<path d="M7 15h1.3v1.3h-1.3z" fill="#dcbd29"/>
<path d="M8 15h1.3v1.3h-1.3z" fill="#b9c431"/>
<path d="M9 15h1.3v1.3h-1.3z" fill="#57cc7a"/>
<path d="M10 15h1.3v1.3h-1.3z" fill="#19bfb6"/>
<path d="M11 15h1.3v1.3h-1.3z" fill="#08b5d0"/>
<path d="M12 15h1.3v1.3h-1.3z" fill="#20a5e3"/>
<path d="M13 15h1.3v1.3h-1.3z" fill="#2797eb"/>
<path d="M14 15h2.3v1.3h-2.3z" fill="#2f81fa"/>
<path d="M16 15h1.3v1.3h-1.3z" fill="#3e6fff"/>
<path d="M17 15h2.3v1.3h-2.3z" fill="#4758f8"/>
<path d="M19 15h1.5v1.3h-1.5z" fill="#4747eb"/>
<path d="M-0.5 16h2.8v1.3h-2.8z" fill="#f5e924"/>
<path d="M2 16h1.3v1.3h-1.3z" fill="#f9fb15"/>
<path d="M3 16h3.3v1.3h-3.3z" fill="#f5e924"/>
<path d="M6 16h1.3v1.3h-1.3z" fill="#fccf30"/>
<path d="M7 16h1.3v1.3h-1.3z" fill="#febe3c"/>
<path d="M8 16h1.3v1.3h-1.3z" fill="#dcbd29"/>
<path d="M9 16h1.3v1.3h-1.3z" fill="#81cc59"/>
<path d="M10 16h1.3v1.3h-1.3z" fill="#57cc7a"/>
<path d="M11 16h1.3v1.3h-1.3z" fill="#19bfb6"/>
<path d="M12 16h1.3v1.3h-1.3z" fill="#08b5d0"/>
<path d="M13 16h1.3v1.3h-1.3z" fill="#20a5e3"/>
<path d="M14 16h1.3v1.3h-1.3z" fill="#2797eb"/>
<path d="M15 16h1.3v1.3h-1.3z" fill="#2f81fa"/>
<path d="M16 16h2.3v1.3h-2.3z" fill="#3e6fff"/>
<path d="M18 16h2.5v1.3h-2.5z" fill="#4758f8"/>
<path d="M-0.5 17h3.8v1.3h-3.8z" fill="#f5e924"/>
<path d="M3 17h1.3v1.3h-1.3z" fill="#f9fb15"/>
<path d="M4 17h3.3v1.3h-3.3z" fill="#f5e924"/>
<path d="M7 17h1.3v1.3h-1.3z" fill="#fccf30"/>
<path d="M8 17h1.3v1.3h-1.3z" fill="#febe3c"/>
<path d="M9 17h1.3v1.3h-1.3z" fill="#dcbd29"/>
<path d="M10 17h1.3v1.3h-1.3z" fill="#81cc59"/>
<path d="M11 17h1.3v1.3h-1.3z" fill="#31c69f"/>
<path d="M12 17h1.3v1.3h-1.3z" fill="#19bfb6"/>
<path d="M13 17h1.3v1.3h-1.3z" fill="#08b5d0"/>
<path d="M14 17h1.3v1.3h-1.3z" fill="#20a5e3"/>
<path d="M15 17h1.3v1.3h-1.3z" fill="#2797eb"/>
<path d="M16 17h1.3v1.3h-1.3z" fill="#2f81fa"/>
<path d="M17 17h3.5v1.3h-3.5z" fill="#3e6fff"/>
<path d="M-0.5 18h3.8v1.3h-3.8z" fill="#f5e924"/>
<path d="M3 18h2.3v1.3h-2.3z" fill="#f9fb15"/>
<path d="M5 18h3.3v1.3h-3.3z" fill="#f5e924"/>
<path d="M8 18h1.3v1.3h-1.3z" fill="#fccf30"/>
<path d="M9 18h1.3v1.3h-1.3z" fill="#febe3c"/>
<path d="M10 18h1.3v1.3h-1.3z" fill="#b9c431"/>
<path d="M11 18h1.3v1.3h-1.3z" fill="#81cc59"/>
<path d="M12 18h1.3v1.3h-1.3z" fill="#57cc7a"/>
<path d="M13 18h1.3v1.3h-1.3z" fill="#31c69f"/>
<path d="M14 18h1.3v1.3h-1.3z" fill="#08b5d0"/>
<path d="M15 18h1.3v1.3h-1.3z" fill="#20a5e3"/>
<path d="M16 18h2.3v1.3h-2.3z" fill="#2797eb"/>
<path d="M18 18h1.3v1.3h-1.3z" fill="#2f81fa"/>
<path d="M19 18h1.5v1.3h-1.5z" fill="#3e6fff"/>
<path d="M-0.5 19h1.8v1.5h-1.8z" fill="#fccf30"/>
<path d="M1 19h3.3v1.5h-3.3z" fill="#f5e924"/>
<path d="M4 19h3.3v1.5h-3.3z" fill="#f9fb15"/>
<path d="M7 19h2.3v1.5h-2.3z" fill="#f5e924"/>
<path d="M9 19h1.3v1.5h-1.3z" fill="#fccf30"/>
<path d="M10 19h1.3v1.5h-1.3z" fill="#febe3c"/>
<path d="M11 19h1.3v1.5h-1.3z" fill="#dcbd29"/>
<path d="M12 19h1.3v1.5h-1.3z" fill="#81cc59"/>
<path d="M13 19h1.3v1.5h-1.3z" fill="#57cc7a"/>
<path d="M14 19h1.3v1.5h-1.3z" fill="#19bfb6"/>
<path d="M15 19h1.3v1.5h-1.3z" fill="#08b5d0"/>
<path d="M16 19h1.3v1.5h-1.3z" fill="#20a5e3"/>
<path d="M17 19h1.3v1.5h-1.3z" fill="#2797eb"/>
<path d="M18 19h1.3v1.5h-1.3z" fill="#2f81fa"/>
<path d="M19 19h1.5v1.5h-1.5z" fill="#3e6fff"/>
</g>
<path fill="#fff" fill-rule="evenodd" d="M504 212.7h123.9v123.45h-123.9zM508.5 217.2h114.9v114.45h-114.9z"/>
<path d="M508.5 331.55H623.4" fill="none" stroke="#262626" stroke-width="0.7" stroke-opacity="0.8"/>
<text x="508.5" y="345.1" font-size="10.85" fill="#262626" text-anchor="middle">0</text>
<text x="565.95" y="345.1" font-size="10.85" fill="#262626" text-anchor="middle">0.2</text>
<text x="623.4" y="345.1" font-size="10.85" fill="#262626" text-anchor="middle">0.4</text>
<text x="506" y="336.7" font-size="10.85" fill="#262626" text-anchor="end">0</text>
<text x="506" y="307.8" font-size="10.85" fill="#262626" text-anchor="end">0.1</text>
<text x="506" y="278.9" font-size="10.85" fill="#262626" text-anchor="end">0.2</text>
<text x="506" y="250" font-size="10.85" fill="#262626" text-anchor="end">0.3</text>
<text x="506" y="221.1" font-size="10.85" fill="#262626" text-anchor="end">0.4</text>
<text x="566.25" y="360.7" font-size="12" fill="#262626" text-anchor="middle">Exposed quarantine(q<tspan font-size="9.6" dy="5.4" dx="1.4">1</tspan><tspan dy="-5.4" dx="1.0" font-size="12">)</tspan></text>
<text transform="translate(481.2,275.7) rotate(-90)" font-size="11.9" fill="#262626" text-anchor="middle">Undocumented quarantine(q<tspan font-size="9.6" dy="5.4" dx="0.9">2</tspan><tspan dy="-5.4" dx="1.0" font-size="11.9">)</tspan></text>
<rect x="657.5" y="198.5" width="11" height="151" fill="url(#pg)" stroke="#262626" stroke-width="0.6"/>
<path d="M667 341.89h1.5" stroke="#262626" stroke-width="0.6"/>
<text x="673.4" y="345.69" font-size="11" fill="#262626">5</text>
<path d="M667 299.59h1.5" stroke="#262626" stroke-width="0.6"/>
<text x="673.4" y="303.39" font-size="11" fill="#262626">10</text>
<path d="M667 257.29h1.5" stroke="#262626" stroke-width="0.6"/>
<text x="673.4" y="261.09" font-size="11" fill="#262626">15</text>
<path d="M667 215h1.5" stroke="#262626" stroke-width="0.6"/>
<text x="673.4" y="218.8" font-size="11" fill="#262626">20</text>
<g transform="translate(37.45,409.8) scale(5.79750,5.80000)">
<path d="M-0.5 -0.5h1.8v1.8h-1.8z" fill="#08b5d0"/>
<path d="M1 -0.5h1.3v1.8h-1.3z" fill="#23a0e5"/>
<path d="M2 -0.5h1.3v1.8h-1.3z" fill="#2d8cf3"/>
<path d="M3 -0.5h1.3v1.8h-1.3z" fill="#3875fe"/>
<path d="M4 -0.5h1.3v1.8h-1.3z" fill="#4563fd"/>
<path d="M5 -0.5h1.3v1.8h-1.3z" fill="#4758f8"/>
<path d="M6 -0.5h1.3v1.8h-1.3z" fill="#4852f4"/>
<path d="M7 -0.5h1.3v1.8h-1.3z" fill="#4747eb"/>
<path d="M8 -0.5h1.3v1.8h-1.3z" fill="#4741e5"/>
<path d="M9 -0.5h1.3v1.8h-1.3z" fill="#463cde"/>
<path d="M10 -0.5h1.3v1.8h-1.3z" fill="#4537d5"/>
<path d="M11 -0.5h1.3v1.8h-1.3z" fill="#4332cb"/>
<path d="M12 -0.5h2.3v1.8h-2.3z" fill="#422ec0"/>
<path d="M14 -0.5h3.3v1.8h-3.3z" fill="#402ab4"/>
<path d="M17 -0.5h3.5v1.8h-3.5z" fill="#3e26a8"/>
<path d="M-0.5 1h1.8v1.3h-1.8z" fill="#01b8ca"/>
<path d="M1 1h1.3v1.3h-1.3z" fill="#20a5e3"/>
<path d="M2 1h1.3v1.3h-1.3z" fill="#2d8cf3"/>
<path d="M3 1h1.3v1.3h-1.3z" fill="#327cfc"/>
<path d="M4 1h1.3v1.3h-1.3z" fill="#4269fe"/>
<path d="M5 1h1.3v1.3h-1.3z" fill="#465efb"/>
<path d="M6 1h1.3v1.3h-1.3z" fill="#4852f4"/>
<path d="M7 1h1.3v1.3h-1.3z" fill="#484df0"/>
<path d="M8 1h1.3v1.3h-1.3z" fill="#4741e5"/>
<path d="M9 1h1.3v1.3h-1.3z" fill="#463cde"/>
<path d="M10 1h1.3v1.3h-1.3z" fill="#4537d5"/>
<path d="M11 1h2.3v1.3h-2.3z" fill="#4332cb"/>
<path d="M13 1h2.3v1.3h-2.3z" fill="#422ec0"/>
<path d="M15 1h2.3v1.3h-2.3z" fill="#402ab4"/>
<path d="M17 1h3.5v1.3h-3.5z" fill="#3e26a8"/>
<path d="M-0.5 2h1.8v1.3h-1.8z" fill="#0bbdbd"/>
<path d="M1 2h1.3v1.3h-1.3z" fill="#18addb"/>
<path d="M2 2h1.3v1.3h-1.3z" fill="#2797eb"/>
<path d="M3 2h1.3v1.3h-1.3z" fill="#2f81fa"/>
<path d="M4 2h1.3v1.3h-1.3z" fill="#3e6fff"/>
<path d="M5 2h1.3v1.3h-1.3z" fill="#4563fd"/>
<path d="M6 2h1.3v1.3h-1.3z" fill="#4758f8"/>
<path d="M7 2h1.3v1.3h-1.3z" fill="#484df0"/>
<path d="M8 2h1.3v1.3h-1.3z" fill="#4747eb"/>
<path d="M9 2h1.3v1.3h-1.3z" fill="#463cde"/>
<path d="M10 2h1.3v1.3h-1.3z" fill="#4537d5"/>
<path d="M11 2h2.3v1.3h-2.3z" fill="#4332cb"/>
<path d="M13 2h2.3v1.3h-2.3z" fill="#422ec0"/>
<path d="M15 2h3.3v1.3h-3.3z" fill="#402ab4"/>
<path d="M18 2h2.5v1.3h-2.5z" fill="#3e26a8"/>
<path d="M-0.5 3h1.8v1.3h-1.8z" fill="#24c1ae"/>
<path d="M1 3h1.3v1.3h-1.3z" fill="#08b5d0"/>
<path d="M2 3h1.3v1.3h-1.3z" fill="#259be8"/>
<path d="M3 3h1.3v1.3h-1.3z" fill="#2e87f7"/>
<path d="M4 3h1.3v1.3h-1.3z" fill="#3875fe"/>
<path d="M5 3h1.3v1.3h-1.3z" fill="#4563fd"/>
<path d="M6 3h1.3v1.3h-1.3z" fill="#4758f8"/>
<path d="M7 3h1.3v1.3h-1.3z" fill="#4852f4"/>
<path d="M8 3h1.3v1.3h-1.3z" fill="#4747eb"/>
<path d="M9 3h1.3v1.3h-1.3z" fill="#4741e5"/>
<path d="M10 3h1.3v1.3h-1.3z" fill="#463cde"/>
<path d="M11 3h1.3v1.3h-1.3z" fill="#4537d5"/>
<path d="M12 3h1.3v1.3h-1.3z" fill="#4332cb"/>
<path d="M13 3h2.3v1.3h-2.3z" fill="#422ec0"/>
<path d="M15 3h3.3v1.3h-3.3z" fill="#402ab4"/>
<path d="M18 3h2.5v1.3h-2.5z" fill="#3e26a8"/>
<path d="M-0.5 4h1.8v1.3h-1.8z" fill="#31c69f"/>
<path d="M1 4h1.3v1.3h-1.3z" fill="#0bbdbd"/>
<path d="M2 4h1.3v1.3h-1.3z" fill="#1ca9df"/>
<path d="M3 4h1.3v1.3h-1.3z" fill="#2b91ef"/>
<path d="M4 4h1.3v1.3h-1.3z" fill="#327cfc"/>
<path d="M5 4h1.3v1.3h-1.3z" fill="#3e6fff"/>
<path d="M6 4h1.3v1.3h-1.3z" fill="#465efb"/>
<path d="M7 4h1.3v1.3h-1.3z" fill="#4852f4"/>
<path d="M8 4h1.3v1.3h-1.3z" fill="#484df0"/>
<path d="M9 4h1.3v1.3h-1.3z" fill="#4747eb"/>
<path d="M10 4h1.3v1.3h-1.3z" fill="#463cde"/>
<path d="M11 4h1.3v1.3h-1.3z" fill="#4537d5"/>
<path d="M12 4h2.3v1.3h-2.3z" fill="#4332cb"/>
<path d="M14 4h2.3v1.3h-2.3z" fill="#422ec0"/>
<path d="M16 4h3.3v1.3h-3.3z" fill="#402ab4"/>
<path d="M19 4h1.5v1.3h-1.5z" fill="#3e26a8"/>
<path d="M-0.5 5h1.8v1.3h-1.8z" fill="#4acb84"/>
<path d="M1 5h1.3v1.3h-1.3z" fill="#24c1ae"/>
<path d="M2 5h1.3v1.3h-1.3z" fill="#12b1d6"/>
<path d="M3 5h1.3v1.3h-1.3z" fill="#259be8"/>
<path d="M4 5h1.3v1.3h-1.3z" fill="#2e87f7"/>
<path d="M5 5h1.3v1.3h-1.3z" fill="#3875fe"/>
<path d="M6 5h1.3v1.3h-1.3z" fill="#4563fd"/>
<path d="M7 5h1.3v1.3h-1.3z" fill="#4758f8"/>
<path d="M8 5h1.3v1.3h-1.3z" fill="#484df0"/>
<path d="M9 5h1.3v1.3h-1.3z" fill="#4747eb"/>
<path d="M10 5h1.3v1.3h-1.3z" fill="#4741e5"/>
<path d="M11 5h1.3v1.3h-1.3z" fill="#463cde"/>
<path d="M12 5h1.3v1.3h-1.3z" fill="#4537d5"/>
<path d="M13 5h1.3v1.3h-1.3z" fill="#4332cb"/>
<path d="M14 5h2.3v1.3h-2.3z" fill="#422ec0"/>
<path d="M16 5h3.3v1.3h-3.3z" fill="#402ab4"/>
<path d="M19 5h1.5v1.3h-1.5z" fill="#3e26a8"/>
<path d="M-0.5 6h1.8v1.3h-1.8z" fill="#72cd64"/>
<path d="M1 6h1.3v1.3h-1.3z" fill="#31c69f"/>
<path d="M2 6h1.3v1.3h-1.3z" fill="#01b8ca"/>
<path d="M3 6h1.3v1.3h-1.3z" fill="#20a5e3"/>
<path d="M4 6h1.3v1.3h-1.3z" fill="#2d8cf3"/>
<path d="M5 6h1.3v1.3h-1.3z" fill="#327cfc"/>
<path d="M6 6h1.3v1.3h-1.3z" fill="#4269fe"/>
<path d="M7 6h1.3v1.3h-1.3z" fill="#465efb"/>
<path d="M8 6h1.3v1.3h-1.3z" fill="#4852f4"/>
<path d="M9 6h1.3v1.3h-1.3z" fill="#484df0"/>
<path d="M10 6h1.3v1.3h-1.3z" fill="#4741e5"/>
<path d="M11 6h1.3v1.3h-1.3z" fill="#463cde"/>
<path d="M12 6h2.3v1.3h-2.3z" fill="#4537d5"/>
<path d="M14 6h1.3v1.3h-1.3z" fill="#4332cb"/>
<path d="M15 6h2.3v1.3h-2.3z" fill="#422ec0"/>
<path d="M17 6h3.5v1.3h-3.5z" fill="#402ab4"/>
<path d="M-0.5 7h1.8v1.3h-1.8z" fill="#9dc943"/>
<path d="M1 7h1.3v1.3h-1.3z" fill="#3fca8e"/>
<path d="M2 7h1.3v1.3h-1.3z" fill="#0bbdbd"/>
<path d="M3 7h1.3v1.3h-1.3z" fill="#1ca9df"/>
<path d="M4 7h1.3v1.3h-1.3z" fill="#2797eb"/>
<path d="M5 7h1.3v1.3h-1.3z" fill="#2f81fa"/>
<path d="M6 7h1.3v1.3h-1.3z" fill="#3e6fff"/>
<path d="M7 7h1.3v1.3h-1.3z" fill="#4563fd"/>
<path d="M8 7h1.3v1.3h-1.3z" fill="#4758f8"/>
<path d="M9 7h1.3v1.3h-1.3z" fill="#4852f4"/>
<path d="M10 7h1.3v1.3h-1.3z" fill="#4747eb"/>
<path d="M11 7h1.3v1.3h-1.3z" fill="#4741e5"/>
<path d="M12 7h1.3v1.3h-1.3z" fill="#463cde"/>
<path d="M13 7h1.3v1.3h-1.3z" fill="#4537d5"/>
<path d="M14 7h2.3v1.3h-2.3z" fill="#4332cb"/>
<path d="M16 7h2.3v1.3h-2.3z" fill="#422ec0"/>
<path d="M18 7h2.5v1.3h-2.5z" fill="#402ab4"/>
<path d="M-0.5 8h1.8v1.3h-1.8z" fill="#d1bf27"/>
<path d="M1 8h1.3v1.3h-1.3z" fill="#72cd64"/>
<path d="M2 8h1.3v1.3h-1.3z" fill="#2cc4a7"/>
<path d="M3 8h1.3v1.3h-1.3z" fill="#08b5d0"/>
<path d="M4 8h1.3v1.3h-1.3z" fill="#23a0e5"/>
<path d="M5 8h1.3v1.3h-1.3z" fill="#2d8cf3"/>
<path d="M6 8h1.3v1.3h-1.3z" fill="#327cfc"/>
<path d="M7 8h1.3v1.3h-1.3z" fill="#3e6fff"/>
<path d="M8 8h1.3v1.3h-1.3z" fill="#4563fd"/>
<path d="M9 8h1.3v1.3h-1.3z" fill="#4758f8"/>
<path d="M10 8h1.3v1.3h-1.3z" fill="#484df0"/>
<path d="M11 8h1.3v1.3h-1.3z" fill="#4747eb"/>
<path d="M12 8h1.3v1.3h-1.3z" fill="#4741e5"/>
<path d="M13 8h1.3v1.3h-1.3z" fill="#463cde"/>
<path d="M14 8h1.3v1.3h-1.3z" fill="#4537d5"/>
<path d="M15 8h2.3v1.3h-2.3z" fill="#4332cb"/>
<path d="M17 8h2.3v1.3h-2.3z" fill="#422ec0"/>
<path d="M19 8h1.5v1.3h-1.5z" fill="#402ab4"/>
<path d="M-0.5 9h1.8v1.3h-1.8z" fill="#f8ba3d"/>
<path d="M1 9h1.3v1.3h-1.3z" fill="#abc739"/>
<path d="M2 9h1.3v1.3h-1.3z" fill="#3fca8e"/>
<path d="M3 9h1.3v1.3h-1.3z" fill="#19bfb6"/>
<path d="M4 9h1.3v1.3h-1.3z" fill="#12b1d6"/>
<path d="M5 9h1.3v1.3h-1.3z" fill="#23a0e5"/>
<path d="M6 9h1.3v1.3h-1.3z" fill="#2d8cf3"/>
<path d="M7 9h1.3v1.3h-1.3z" fill="#327cfc"/>
<path d="M8 9h1.3v1.3h-1.3z" fill="#3e6fff"/>
<path d="M9 9h1.3v1.3h-1.3z" fill="#4563fd"/>
<path d="M10 9h1.3v1.3h-1.3z" fill="#4758f8"/>
<path d="M11 9h1.3v1.3h-1.3z" fill="#484df0"/>
<path d="M12 9h1.3v1.3h-1.3z" fill="#4747eb"/>
<path d="M13 9h1.3v1.3h-1.3z" fill="#4741e5"/>
<path d="M14 9h1.3v1.3h-1.3z" fill="#463cde"/>
<path d="M15 9h1.3v1.3h-1.3z" fill="#4537d5"/>
<path d="M16 9h2.3v1.3h-2.3z" fill="#4332cb"/>
<path d="M18 9h2.5v1.3h-2.5z" fill="#422ec0"/>
<path d="M-0.5 10h1.8v1.3h-1.8z" fill="#fec338"/>
<path d="M1 10h1.3v1.3h-1.3z" fill="#dcbd29"/>
<path d="M2 10h1.3v1.3h-1.3z" fill="#81cc59"/>
<path d="M3 10h1.3v1.3h-1.3z" fill="#37c897"/>
<path d="M4 10h1.3v1.3h-1.3z" fill="#0bbdbd"/>
<path d="M5 10h1.3v1.3h-1.3z" fill="#08b5d0"/>
<path d="M6 10h1.3v1.3h-1.3z" fill="#20a5e3"/>
<path d="M7 10h1.3v1.3h-1.3z" fill="#2797eb"/>
<path d="M8 10h1.3v1.3h-1.3z" fill="#2e87f7"/>
<path d="M9 10h1.3v1.3h-1.3z" fill="#3e6fff"/>
<path d="M10 10h1.3v1.3h-1.3z" fill="#4563fd"/>
<path d="M11 10h1.3v1.3h-1.3z" fill="#4758f8"/>
<path d="M12 10h1.3v1.3h-1.3z" fill="#4852f4"/>
<path d="M13 10h1.3v1.3h-1.3z" fill="#484df0"/>
<path d="M14 10h1.3v1.3h-1.3z" fill="#4741e5"/>
<path d="M15 10h1.3v1.3h-1.3z" fill="#463cde"/>
<path d="M16 10h2.3v1.3h-2.3z" fill="#4537d5"/>
<path d="M18 10h1.3v1.3h-1.3z" fill="#4332cb"/>
<path d="M19 10h1.5v1.3h-1.5z" fill="#422ec0"/>
<path d="M-0.5 11h1.8v1.3h-1.8z" fill="#fccf30"/>
<path d="M1 11h1.3v1.3h-1.3z" fill="#f8ba3d"/>
<path d="M2 11h1.3v1.3h-1.3z" fill="#b9c431"/>
<path d="M3 11h1.3v1.3h-1.3z" fill="#57cc7a"/>
<path d="M4 11h1.3v1.3h-1.3z" fill="#31c69f"/>
<path d="M5 11h1.3v1.3h-1.3z" fill="#0bbdbd"/>
<path d="M6 11h1.3v1.3h-1.3z" fill="#12b1d6"/>
<path d="M7 11h1.3v1.3h-1.3z" fill="#20a5e3"/>
<path d="M8 11h1.3v1.3h-1.3z" fill="#2797eb"/>
<path d="M9 11h1.3v1.3h-1.3z" fill="#2f81fa"/>
<path d="M10 11h1.3v1.3h-1.3z" fill="#3e6fff"/>
<path d="M11 11h1.3v1.3h-1.3z" fill="#4563fd"/>
<path d="M12 11h1.3v1.3h-1.3z" fill="#4758f8"/>
<path d="M13 11h1.3v1.3h-1.3z" fill="#4852f4"/>
<path d="M14 11h1.3v1.3h-1.3z" fill="#4747eb"/>
<path d="M15 11h2.3v1.3h-2.3z" fill="#4741e5"/>
<path d="M17 11h1.3v1.3h-1.3z" fill="#463cde"/>
<path d="M18 11h1.3v1.3h-1.3z" fill="#4537d5"/>
<path d="M19 11h1.5v1.3h-1.5z" fill="#4332cb"/>
<path d="M-0.5 12h1.8v1.3h-1.8z" fill="#f7dc2a"/>
<path d="M1 12h1.3v1.3h-1.3z" fill="#fec934"/>
<path d="M2 12h1.3v1.3h-1.3z" fill="#dcbd29"/>
<path d="M3 12h1.3v1.3h-1.3z" fill="#8fcb4e"/>
<path d="M4 12h1.3v1.3h-1.3z" fill="#4acb84"/>
<path d="M5 12h1.3v1.3h-1.3z" fill="#24c1ae"/>
<path d="M6 12h1.3v1.3h-1.3z" fill="#02bac3"/>
<path d="M7 12h1.3v1.3h-1.3z" fill="#12b1d6"/>
<path d="M8 12h1.3v1.3h-1.3z" fill="#23a0e5"/>
<path d="M9 12h1.3v1.3h-1.3z" fill="#2d8cf3"/>
<path d="M10 12h1.3v1.3h-1.3z" fill="#327cfc"/>
<path d="M11 12h1.3v1.3h-1.3z" fill="#3e6fff"/>
<path d="M12 12h1.3v1.3h-1.3z" fill="#4563fd"/>
<path d="M13 12h1.3v1.3h-1.3z" fill="#4758f8"/>
<path d="M14 12h1.3v1.3h-1.3z" fill="#4852f4"/>
<path d="M15 12h1.3v1.3h-1.3z" fill="#484df0"/>
<path d="M16 12h1.3v1.3h-1.3z" fill="#4747eb"/>
<path d="M17 12h1.3v1.3h-1.3z" fill="#4741e5"/>
<path d="M18 12h1.3v1.3h-1.3z" fill="#463cde"/>
<path d="M19 12h1.5v1.3h-1.5z" fill="#4537d5"/>
<path d="M-0.5 13h1.8v1.3h-1.8z" fill="#f5e327"/>
<path d="M1 13h1.3v1.3h-1.3z" fill="#fad62d"/>
<path d="M2 13h1.3v1.3h-1.3z" fill="#febe3c"/>
<path d="M3 13h1.3v1.3h-1.3z" fill="#c5c22a"/>
<path d="M4 13h1.3v1.3h-1.3z" fill="#72cd64"/>
<path d="M5 13h1.3v1.3h-1.3z" fill="#37c897"/>
<path d="M6 13h1.3v1.3h-1.3z" fill="#19bfb6"/>
<path d="M7 13h1.3v1.3h-1.3z" fill="#01b8ca"/>
<path d="M8 13h1.3v1.3h-1.3z" fill="#18addb"/>
<path d="M9 13h1.3v1.3h-1.3z" fill="#259be8"/>
<path d="M10 13h1.3v1.3h-1.3z" fill="#2e87f7"/>
<path d="M11 13h1.3v1.3h-1.3z" fill="#327cfc"/>
<path d="M12 13h1.3v1.3h-1.3z" fill="#3e6fff"/>
<path d="M13 13h1.3v1.3h-1.3z" fill="#4563fd"/>
<path d="M14 13h1.3v1.3h-1.3z" fill="#4758f8"/>
<path d="M15 13h1.3v1.3h-1.3z" fill="#4852f4"/>
<path d="M16 13h1.3v1.3h-1.3z" fill="#484df0"/>
<path d="M17 13h1.3v1.3h-1.3z" fill="#4747eb"/>
<path d="M18 13h1.3v1.3h-1.3z" fill="#4741e5"/>
<path d="M19 13h1.5v1.3h-1.5z" fill="#463cde"/>
<path d="M-0.5 14h2.8v1.3h-2.8z" fill="#f5e327"/>
<path d="M2 14h1.3v1.3h-1.3z" fill="#fccf30"/>
<path d="M3 14h1.3v1.3h-1.3z" fill="#f0ba36"/>
<path d="M4 14h1.3v1.3h-1.3z" fill="#b9c431"/>
<path d="M5 14h1.3v1.3h-1.3z" fill="#64cd6f"/>
<path d="M6 14h1.3v1.3h-1.3z" fill="#37c897"/>
<path d="M7 14h1.3v1.3h-1.3z" fill="#19bfb6"/>
<path d="M8 14h1.3v1.3h-1.3z" fill="#08b5d0"/>
<path d="M9 14h1.3v1.3h-1.3z" fill="#20a5e3"/>
<path d="M10 14h1.3v1.3h-1.3z" fill="#2797eb"/>
<path d="M11 14h1.3v1.3h-1.3z" fill="#2e87f7"/>
<path d="M12 14h1.3v1.3h-1.3z" fill="#327cfc"/>
<path d="M13 14h1.3v1.3h-1.3z" fill="#3e6fff"/>
<path d="M14 14h1.3v1.3h-1.3z" fill="#4563fd"/>
<path d="M15 14h1.3v1.3h-1.3z" fill="#4758f8"/>
<path d="M16 14h1.3v1.3h-1.3z" fill="#4852f4"/>
<path d="M17 14h1.3v1.3h-1.3z" fill="#484df0"/>
<path d="M18 14h1.3v1.3h-1.3z" fill="#4747eb"/>
<path d="M19 14h1.5v1.3h-1.5z" fill="#4741e5"/>
<path d="M-0.5 15h1.8v1.3h-1.8z" fill="#f5e924"/>
<path d="M1 15h1.3v1.3h-1.3z" fill="#f5e327"/>
<path d="M2 15h1.3v1.3h-1.3z" fill="#f7dc2a"/>
<path d="M3 15h1.3v1.3h-1.3z" fill="#fec934"/>
<path d="M4 15h1.3v1.3h-1.3z" fill="#e6bb2d"/>
<path d="M5 15h1.3v1.3h-1.3z" fill="#abc739"/>
<path d="M6 15h1.3v1.3h-1.3z" fill="#64cd6f"/>
<path d="M7 15h1.3v1.3h-1.3z" fill="#31c69f"/>
<path d="M8 15h1.3v1.3h-1.3z" fill="#0bbdbd"/>
<path d="M9 15h1.3v1.3h-1.3z" fill="#12b1d6"/>
<path d="M10 15h1.3v1.3h-1.3z" fill="#23a0e5"/>
<path d="M11 15h1.3v1.3h-1.3z" fill="#2b91ef"/>
<path d="M12 15h1.3v1.3h-1.3z" fill="#2e87f7"/>
<path d="M13 15h1.3v1.3h-1.3z" fill="#327cfc"/>
<path d="M14 15h1.3v1.3h-1.3z" fill="#3e6fff"/>
<path d="M15 15h1.3v1.3h-1.3z" fill="#4563fd"/>
<path d="M16 15h1.3v1.3h-1.3z" fill="#4758f8"/>
<path d="M17 15h1.3v1.3h-1.3z" fill="#4852f4"/>
<path d="M18 15h1.3v1.3h-1.3z" fill="#484df0"/>
<path d="M19 15h1.5v1.3h-1.5z" fill="#4747eb"/>
<path d="M-0.5 16h3.8v1.3h-3.8z" fill="#f5e924"/>
<path d="M3 16h1.3v1.3h-1.3z" fill="#f7dc2a"/>
<path d="M4 16h1.3v1.3h-1.3z" fill="#fec934"/>
<path d="M5 16h1.3v1.3h-1.3z" fill="#e6bb2d"/>
<path d="M6 16h1.3v1.3h-1.3z" fill="#abc739"/>
<path d="M7 16h1.3v1.3h-1.3z" fill="#57cc7a"/>
<path d="M8 16h1.3v1.3h-1.3z" fill="#31c69f"/>
<path d="M9 16h1.3v1.3h-1.3z" fill="#02bac3"/>
<path d="M10 16h1.3v1.3h-1.3z" fill="#18addb"/>
<path d="M11 16h1.3v1.3h-1.3z" fill="#23a0e5"/>
<path d="M12 16h1.3v1.3h-1.3z" fill="#2b91ef"/>
<path d="M13 16h1.3v1.3h-1.3z" fill="#2e87f7"/>
<path d="M14 16h1.3v1.3h-1.3z" fill="#3875fe"/>
<path d="M15 16h1.3v1.3h-1.3z" fill="#3e6fff"/>
<path d="M16 16h1.3v1.3h-1.3z" fill="#4563fd"/>
<path d="M17 16h1.3v1.3h-1.3z" fill="#4758f8"/>
<path d="M18 16h1.3v1.3h-1.3z" fill="#4852f4"/>
<path d="M19 16h1.5v1.3h-1.5z" fill="#484df0"/>
<path d="M-0.5 17h2.8v1.3h-2.8z" fill="#f5e924"/>
<path d="M2 17h2.3v1.3h-2.3z" fill="#f6ef20"/>
<path d="M4 17h1.3v1.3h-1.3z" fill="#f5e327"/>
<path d="M5 17h1.3v1.3h-1.3z" fill="#fec934"/>
<path d="M6 17h1.3v1.3h-1.3z" fill="#f0ba36"/>
<path d="M7 17h1.3v1.3h-1.3z" fill="#abc739"/>
<path d="M8 17h1.3v1.3h-1.3z" fill="#64cd6f"/>
<path d="M9 17h1.3v1.3h-1.3z" fill="#2cc4a7"/>
<path d="M10 17h1.3v1.3h-1.3z" fill="#02bac3"/>
<path d="M11 17h1.3v1.3h-1.3z" fill="#12b1d6"/>
<path d="M12 17h1.3v1.3h-1.3z" fill="#23a0e5"/>
<path d="M13 17h1.3v1.3h-1.3z" fill="#2b91ef"/>
<path d="M14 17h1.3v1.3h-1.3z" fill="#2e87f7"/>
<path d="M15 17h1.3v1.3h-1.3z" fill="#327cfc"/>
<path d="M16 17h1.3v1.3h-1.3z" fill="#3e6fff"/>
<path d="M17 17h1.3v1.3h-1.3z" fill="#4563fd"/>
<path d="M18 17h1.3v1.3h-1.3z" fill="#4758f8"/>
<path d="M19 17h1.5v1.3h-1.5z" fill="#4852f4"/>
<path d="M-0.5 18h2.8v1.3h-2.8z" fill="#f5e924"/>
<path d="M2 18h1.3v1.3h-1.3z" fill="#f6ef20"/>
<path d="M3 18h1.3v1.3h-1.3z" fill="#f7f51b"/>
<path d="M4 18h1.3v1.3h-1.3z" fill="#f6ef20"/>
<path d="M5 18h1.3v1.3h-1.3z" fill="#f5e924"/>
<path d="M6 18h1.3v1.3h-1.3z" fill="#fad62d"/>
<path d="M7 18h1.3v1.3h-1.3z" fill="#f8ba3d"/>
<path d="M8 18h1.3v1.3h-1.3z" fill="#b9c431"/>
<path d="M9 18h1.3v1.3h-1.3z" fill="#64cd6f"/>
<path d="M10 18h1.3v1.3h-1.3z" fill="#37c897"/>
<path d="M11 18h1.3v1.3h-1.3z" fill="#19bfb6"/>
<path d="M12 18h1.3v1.3h-1.3z" fill="#08b5d0"/>
<path d="M13 18h1.3v1.3h-1.3z" fill="#20a5e3"/>
<path d="M14 18h1.3v1.3h-1.3z" fill="#2797eb"/>
<path d="M15 18h1.3v1.3h-1.3z" fill="#2e87f7"/>
<path d="M16 18h1.3v1.3h-1.3z" fill="#327cfc"/>
<path d="M17 18h1.3v1.3h-1.3z" fill="#3e6fff"/>
<path d="M18 18h1.3v1.3h-1.3z" fill="#4563fd"/>
<path d="M19 18h1.5v1.3h-1.5z" fill="#4758f8"/>
<path d="M-0.5 19h1.8v1.5h-1.8z" fill="#f5e924"/>
<path d="M1 19h1.3v1.5h-1.3z" fill="#f6ef20"/>
<path d="M2 19h1.3v1.5h-1.3z" fill="#f7f51b"/>
<path d="M3 19h3.3v1.5h-3.3z" fill="#f9fb15"/>
<path d="M6 19h1.3v1.5h-1.3z" fill="#f6ef20"/>
<path d="M7 19h1.3v1.5h-1.3z" fill="#f7dc2a"/>
<path d="M8 19h1.3v1.5h-1.3z" fill="#f8ba3d"/>
<path d="M9 19h1.3v1.5h-1.3z" fill="#b9c431"/>
<path d="M10 19h1.3v1.5h-1.3z" fill="#81cc59"/>
<path d="M11 19h1.3v1.5h-1.3z" fill="#37c897"/>
<path d="M12 19h1.3v1.5h-1.3z" fill="#0bbdbd"/>
<path d="M13 19h1.3v1.5h-1.3z" fill="#12b1d6"/>
<path d="M14 19h1.3v1.5h-1.3z" fill="#20a5e3"/>
<path d="M15 19h1.3v1.5h-1.3z" fill="#2797eb"/>
<path d="M16 19h1.3v1.5h-1.3z" fill="#2e87f7"/>
<path d="M17 19h1.3v1.5h-1.3z" fill="#3875fe"/>
<path d="M18 19h1.3v1.5h-1.3z" fill="#4269fe"/>
<path d="M19 19h1.5v1.5h-1.5z" fill="#465efb"/>
</g>
<path fill="#fff" fill-rule="evenodd" d="M32.95 405.3h124.95v125h-124.95zM37.45 409.8h115.95v116h-115.95z"/>
<path d="M37.45 525.7H153.4" fill="none" stroke="#262626" stroke-width="0.7" stroke-opacity="0.8"/>
<text x="37.45" y="538.4" font-size="10.85" fill="#262626" text-anchor="middle">0</text>
<text x="95.43" y="538.4" font-size="10.85" fill="#262626" text-anchor="middle">0.2</text>
<text x="153.4" y="538.4" font-size="10.85" fill="#262626" text-anchor="middle">0.4</text>
<text x="34.95" y="530" font-size="10.85" fill="#262626" text-anchor="end">0</text>
<text x="34.95" y="501" font-size="10.85" fill="#262626" text-anchor="end">0.1</text>
<text x="34.95" y="472" font-size="10.85" fill="#262626" text-anchor="end">0.2</text>
<text x="34.95" y="443" font-size="10.85" fill="#262626" text-anchor="end">0.3</text>
<text x="34.95" y="414" font-size="10.85" fill="#262626" text-anchor="end">0.4</text>
<text x="95.73" y="554" font-size="12" fill="#262626" text-anchor="middle">Exposed quarantine(q<tspan font-size="9.6" dy="5.4" dx="1.4">1</tspan><tspan dy="-5.4" dx="1.0" font-size="12">)</tspan></text>
<text transform="translate(10.15,468.8) rotate(-90)" font-size="11.9" fill="#262626" text-anchor="middle">Undocumented quarantine(q<tspan font-size="9.6" dy="5.4" dx="0.9">2</tspan><tspan dy="-5.4" dx="1.0" font-size="11.9">)</tspan></text>
<rect x="187" y="391.4" width="11" height="152.3" fill="url(#pg)" stroke="#262626" stroke-width="0.6"/>
<path d="M196.5 530.37h1.5" stroke="#262626" stroke-width="0.6"/>
<text x="202.9" y="534.17" font-size="11" fill="#262626">50</text>
<path d="M196.5 487.11h1.5" stroke="#262626" stroke-width="0.6"/>
<text x="202.9" y="490.91" font-size="11" fill="#262626">100</text>
<path d="M196.5 443.84h1.5" stroke="#262626" stroke-width="0.6"/>
<text x="202.9" y="447.64" font-size="11" fill="#262626">150</text>
<path d="M196.5 400.57h1.5" stroke="#262626" stroke-width="0.6"/>
<text x="202.9" y="404.37" font-size="11" fill="#262626">200</text>
<g transform="translate(272.85,410) scale(5.77750,5.76500)">
<path d="M-0.5 -0.5h1.8v1.8h-1.8z" fill="#4537d5"/>
<path d="M1 -0.5h1.3v1.8h-1.3z" fill="#422ec0"/>
<path d="M2 -0.5h2.3v1.8h-2.3z" fill="#402ab4"/>
<path d="M4 -0.5h16.5v1.8h-16.5z" fill="#3e26a8"/>
<path d="M-0.5 1h1.8v1.3h-1.8z" fill="#4537d5"/>
<path d="M1 1h1.3v1.3h-1.3z" fill="#4332cb"/>
<path d="M2 1h1.3v1.3h-1.3z" fill="#422ec0"/>
<path d="M3 1h1.3v1.3h-1.3z" fill="#402ab4"/>
<path d="M4 1h16.5v1.3h-16.5z" fill="#3e26a8"/>
<path d="M-0.5 2h1.8v1.3h-1.8z" fill="#463cde"/>
<path d="M1 2h1.3v1.3h-1.3z" fill="#4332cb"/>
<path d="M2 2h1.3v1.3h-1.3z" fill="#422ec0"/>
<path d="M3 2h1.3v1.3h-1.3z" fill="#402ab4"/>
<path d="M4 2h16.5v1.3h-16.5z" fill="#3e26a8"/>
<path d="M-0.5 3h1.8v1.3h-1.8z" fill="#463cde"/>
<path d="M1 3h1.3v1.3h-1.3z" fill="#4537d5"/>
<path d="M2 3h1.3v1.3h-1.3z" fill="#422ec0"/>
<path d="M3 3h2.3v1.3h-2.3z" fill="#402ab4"/>
<path d="M5 3h15.5v1.3h-15.5z" fill="#3e26a8"/>
<path d="M-0.5 4h1.8v1.3h-1.8z" fill="#4741e5"/>
<path d="M1 4h1.3v1.3h-1.3z" fill="#4537d5"/>
<path d="M2 4h1.3v1.3h-1.3z" fill="#4332cb"/>
<path d="M3 4h1.3v1.3h-1.3z" fill="#422ec0"/>
<path d="M4 4h1.3v1.3h-1.3z" fill="#402ab4"/>
<path d="M5 4h15.5v1.3h-15.5z" fill="#3e26a8"/>
<path d="M-0.5 5h1.8v1.3h-1.8z" fill="#4747eb"/>
<path d="M1 5h1.3v1.3h-1.3z" fill="#463cde"/>
<path d="M2 5h1.3v1.3h-1.3z" fill="#4332cb"/>
<path d="M3 5h1.3v1.3h-1.3z" fill="#422ec0"/>
<path d="M4 5h1.3v1.3h-1.3z" fill="#402ab4"/>
<path d="M5 5h15.5v1.3h-15.5z" fill="#3e26a8"/>
<path d="M-0.5 6h1.8v1.3h-1.8z" fill="#4852f4"/>
<path d="M1 6h1.3v1.3h-1.3z" fill="#4741e5"/>
<path d="M2 6h1.3v1.3h-1.3z" fill="#4537d5"/>
<path d="M3 6h1.3v1.3h-1.3z" fill="#422ec0"/>
<path d="M4 6h2.3v1.3h-2.3z" fill="#402ab4"/>
<path d="M6 6h14.5v1.3h-14.5z" fill="#3e26a8"/>
<path d="M-0.5 7h1.8v1.3h-1.8z" fill="#465efb"/>
<path d="M1 7h1.3v1.3h-1.3z" fill="#484df0"/>
<path d="M2 7h1.3v1.3h-1.3z" fill="#463cde"/>
<path d="M3 7h1.3v1.3h-1.3z" fill="#4332cb"/>
<path d="M4 7h1.3v1.3h-1.3z" fill="#422ec0"/>
<path d="M5 7h2.3v1.3h-2.3z" fill="#402ab4"/>
<path d="M7 7h13.5v1.3h-13.5z" fill="#3e26a8"/>
<path d="M-0.5 8h1.8v1.3h-1.8z" fill="#3e6fff"/>
<path d="M1 8h1.3v1.3h-1.3z" fill="#4852f4"/>
<path d="M2 8h1.3v1.3h-1.3z" fill="#4741e5"/>
<path d="M3 8h1.3v1.3h-1.3z" fill="#4537d5"/>
<path d="M4 8h1.3v1.3h-1.3z" fill="#422ec0"/>
<path d="M5 8h2.3v1.3h-2.3z" fill="#402ab4"/>
<path d="M7 8h13.5v1.3h-13.5z" fill="#3e26a8"/>
<path d="M-0.5 9h1.8v1.3h-1.8z" fill="#327cfc"/>
<path d="M1 9h1.3v1.3h-1.3z" fill="#4758f8"/>
<path d="M2 9h1.3v1.3h-1.3z" fill="#4747eb"/>
<path d="M3 9h1.3v1.3h-1.3z" fill="#4537d5"/>
<path d="M4 9h1.3v1.3h-1.3z" fill="#4332cb"/>
<path d="M5 9h1.3v1.3h-1.3z" fill="#422ec0"/>
<path d="M6 9h1.3v1.3h-1.3z" fill="#402ab4"/>
<path d="M7 9h13.5v1.3h-13.5z" fill="#3e26a8"/>
<path d="M-0.5 10h1.8v1.3h-1.8z" fill="#2d8cf3"/>
<path d="M1 10h1.3v1.3h-1.3z" fill="#4563fd"/>
<path d="M2 10h1.3v1.3h-1.3z" fill="#484df0"/>
<path d="M3 10h1.3v1.3h-1.3z" fill="#463cde"/>
<path d="M4 10h1.3v1.3h-1.3z" fill="#4332cb"/>
<path d="M5 10h1.3v1.3h-1.3z" fill="#422ec0"/>
<path d="M6 10h2.3v1.3h-2.3z" fill="#402ab4"/>
<path d="M8 10h12.5v1.3h-12.5z" fill="#3e26a8"/>
<path d="M-0.5 11h1.8v1.3h-1.8z" fill="#23a0e5"/>
<path d="M1 11h1.3v1.3h-1.3z" fill="#327cfc"/>
<path d="M2 11h1.3v1.3h-1.3z" fill="#465efb"/>
<path d="M3 11h1.3v1.3h-1.3z" fill="#4747eb"/>
<path d="M4 11h1.3v1.3h-1.3z" fill="#463cde"/>
<path d="M5 11h1.3v1.3h-1.3z" fill="#4332cb"/>
<path d="M6 11h1.3v1.3h-1.3z" fill="#422ec0"/>
<path d="M7 11h2.3v1.3h-2.3z" fill="#402ab4"/>
<path d="M9 11h11.5v1.3h-11.5z" fill="#3e26a8"/>
<path d="M-0.5 12h1.8v1.3h-1.8z" fill="#08b5d0"/>
<path d="M1 12h1.3v1.3h-1.3z" fill="#259be8"/>
<path d="M2 12h1.3v1.3h-1.3z" fill="#327cfc"/>
<path d="M3 12h1.3v1.3h-1.3z" fill="#4563fd"/>
<path d="M4 12h1.3v1.3h-1.3z" fill="#484df0"/>
<path d="M5 12h1.3v1.3h-1.3z" fill="#4741e5"/>
<path d="M6 12h1.3v1.3h-1.3z" fill="#4537d5"/>
<path d="M7 12h1.3v1.3h-1.3z" fill="#422ec0"/>
<path d="M8 12h4.3v1.3h-4.3z" fill="#402ab4"/>
<path d="M12 12h8.5v1.3h-8.5z" fill="#3e26a8"/>
<path d="M-0.5 13h1.8v1.3h-1.8z" fill="#24c1ae"/>
<path d="M1 13h1.3v1.3h-1.3z" fill="#12b1d6"/>
<path d="M2 13h1.3v1.3h-1.3z" fill="#23a0e5"/>
<path d="M3 13h1.3v1.3h-1.3z" fill="#2e87f7"/>
<path d="M4 13h1.3v1.3h-1.3z" fill="#4269fe"/>
<path d="M5 13h1.3v1.3h-1.3z" fill="#4758f8"/>
<path d="M6 13h1.3v1.3h-1.3z" fill="#4747eb"/>
<path d="M7 13h1.3v1.3h-1.3z" fill="#4537d5"/>
<path d="M8 13h1.3v1.3h-1.3z" fill="#422ec0"/>
<path d="M9 13h3.3v1.3h-3.3z" fill="#402ab4"/>
<path d="M12 13h8.5v1.3h-8.5z" fill="#3e26a8"/>
<path d="M-0.5 14h1.8v1.3h-1.8z" fill="#3fca8e"/>
<path d="M1 14h1.3v1.3h-1.3z" fill="#19bfb6"/>
<path d="M2 14h1.3v1.3h-1.3z" fill="#18addb"/>
<path d="M3 14h1.3v1.3h-1.3z" fill="#259be8"/>
<path d="M4 14h1.3v1.3h-1.3z" fill="#2f81fa"/>
<path d="M5 14h1.3v1.3h-1.3z" fill="#4269fe"/>
<path d="M6 14h1.3v1.3h-1.3z" fill="#4852f4"/>
<path d="M7 14h1.3v1.3h-1.3z" fill="#4741e5"/>
<path d="M8 14h1.3v1.3h-1.3z" fill="#4537d5"/>
<path d="M9 14h1.3v1.3h-1.3z" fill="#4332cb"/>
<path d="M10 14h1.3v1.3h-1.3z" fill="#422ec0"/>
<path d="M11 14h3.3v1.3h-3.3z" fill="#402ab4"/>
<path d="M14 14h6.5v1.3h-6.5z" fill="#3e26a8"/>
<path d="M-0.5 15h1.8v1.3h-1.8z" fill="#81cc59"/>
<path d="M1 15h1.3v1.3h-1.3z" fill="#37c897"/>
<path d="M2 15h1.3v1.3h-1.3z" fill="#02bac3"/>
<path d="M3 15h1.3v1.3h-1.3z" fill="#1ca9df"/>
<path d="M4 15h1.3v1.3h-1.3z" fill="#2b91ef"/>
<path d="M5 15h1.3v1.3h-1.3z" fill="#327cfc"/>
<path d="M6 15h1.3v1.3h-1.3z" fill="#4563fd"/>
<path d="M7 15h1.3v1.3h-1.3z" fill="#4747eb"/>
<path d="M8 15h1.3v1.3h-1.3z" fill="#4537d5"/>
<path d="M9 15h1.3v1.3h-1.3z" fill="#4332cb"/>
<path d="M10 15h2.3v1.3h-2.3z" fill="#422ec0"/>
<path d="M12 15h2.3v1.3h-2.3z" fill="#402ab4"/>
<path d="M14 15h6.5v1.3h-6.5z" fill="#3e26a8"/>
<path d="M-0.5 16h1.8v1.3h-1.8z" fill="#c5c22a"/>
<path d="M1 16h1.3v1.3h-1.3z" fill="#72cd64"/>
<path d="M2 16h1.3v1.3h-1.3z" fill="#2cc4a7"/>
<path d="M3 16h1.3v1.3h-1.3z" fill="#08b5d0"/>
<path d="M4 16h1.3v1.3h-1.3z" fill="#20a5e3"/>
<path d="M5 16h1.3v1.3h-1.3z" fill="#2b91ef"/>
<path d="M6 16h1.3v1.3h-1.3z" fill="#3875fe"/>
<path d="M7 16h1.3v1.3h-1.3z" fill="#4758f8"/>
<path d="M8 16h1.3v1.3h-1.3z" fill="#4747eb"/>
<path d="M9 16h1.3v1.3h-1.3z" fill="#463cde"/>
<path d="M10 16h1.3v1.3h-1.3z" fill="#4332cb"/>
<path d="M11 16h2.3v1.3h-2.3z" fill="#422ec0"/>
<path d="M13 16h3.3v1.3h-3.3z" fill="#402ab4"/>
<path d="M16 16h4.5v1.3h-4.5z" fill="#3e26a8"/>
<path d="M-0.5 17h1.8v1.3h-1.8z" fill="#febe3c"/>
<path d="M1 17h1.3v1.3h-1.3z" fill="#c5c22a"/>
<path d="M2 17h1.3v1.3h-1.3z" fill="#57cc7a"/>
<path d="M3 17h1.3v1.3h-1.3z" fill="#24c1ae"/>
<path d="M4 17h1.3v1.3h-1.3z" fill="#08b5d0"/>
<path d="M5 17h1.3v1.3h-1.3z" fill="#23a0e5"/>
<path d="M6 17h1.3v1.3h-1.3z" fill="#2e87f7"/>
<path d="M7 17h1.3v1.3h-1.3z" fill="#4563fd"/>
<path d="M8 17h1.3v1.3h-1.3z" fill="#4747eb"/>
<path d="M9 17h1.3v1.3h-1.3z" fill="#463cde"/>
<path d="M10 17h1.3v1.3h-1.3z" fill="#4537d5"/>
<path d="M11 17h1.3v1.3h-1.3z" fill="#4332cb"/>
<path d="M12 17h2.3v1.3h-2.3z" fill="#422ec0"/>
<path d="M14 17h2.3v1.3h-2.3z" fill="#402ab4"/>
<path d="M16 17h4.5v1.3h-4.5z" fill="#3e26a8"/>
<path d="M-0.5 18h1.8v1.3h-1.8z" fill="#f7dc2a"/>
<path d="M1 18h1.3v1.3h-1.3z" fill="#febe3c"/>
<path d="M2 18h1.3v1.3h-1.3z" fill="#b9c431"/>
<path d="M3 18h1.3v1.3h-1.3z" fill="#4acb84"/>
<path d="M4 18h1.3v1.3h-1.3z" fill="#19bfb6"/>
<path d="M5 18h1.3v1.3h-1.3z" fill="#18addb"/>
<path d="M6 18h1.3v1.3h-1.3z" fill="#259be8"/>
<path d="M7 18h1.3v1.3h-1.3z" fill="#327cfc"/>
<path d="M8 18h1.3v1.3h-1.3z" fill="#465efb"/>
<path d="M9 18h1.3v1.3h-1.3z" fill="#484df0"/>
<path d="M10 18h1.3v1.3h-1.3z" fill="#4741e5"/>
<path d="M11 18h1.3v1.3h-1.3z" fill="#4537d5"/>
<path d="M12 18h1.3v1.3h-1.3z" fill="#4332cb"/>
<path d="M13 18h2.3v1.3h-2.3z" fill="#422ec0"/>
<path d="M15 18h3.3v1.3h-3.3z" fill="#402ab4"/>
<path d="M18 18h2.5v1.3h-2.5z" fill="#3e26a8"/>
<path d="M-0.5 19h1.8v1.5h-1.8z" fill="#f7f51b"/>
<path d="M1 19h1.3v1.5h-1.3z" fill="#f7dc2a"/>
<path d="M2 19h1.3v1.5h-1.3z" fill="#f8ba3d"/>
<path d="M3 19h1.3v1.5h-1.3z" fill="#abc739"/>
<path d="M4 19h1.3v1.5h-1.3z" fill="#3fca8e"/>
<path d="M5 19h1.3v1.5h-1.3z" fill="#0bbdbd"/>
<path d="M6 19h1.3v1.5h-1.3z" fill="#1ca9df"/>
<path d="M7 19h1.3v1.5h-1.3z" fill="#2d8cf3"/>
<path d="M8 19h1.3v1.5h-1.3z" fill="#4269fe"/>
<path d="M9 19h1.3v1.5h-1.3z" fill="#4852f4"/>
<path d="M10 19h1.3v1.5h-1.3z" fill="#4747eb"/>
<path d="M11 19h1.3v1.5h-1.3z" fill="#4741e5"/>
<path d="M12 19h1.3v1.5h-1.3z" fill="#4537d5"/>
<path d="M13 19h1.3v1.5h-1.3z" fill="#4332cb"/>
<path d="M14 19h2.3v1.5h-2.3z" fill="#422ec0"/>
<path d="M16 19h3.3v1.5h-3.3z" fill="#402ab4"/>
<path d="M19 19h1.5v1.5h-1.5z" fill="#3e26a8"/>
</g>
<path fill="#fff" fill-rule="evenodd" d="M268.35 405.5h124.55v124.3h-124.55zM272.85 410h115.55v115.3h-115.55z"/>
<path d="M272.85 525.2H388.4" fill="none" stroke="#262626" stroke-width="0.7" stroke-opacity="0.8"/>
<path d="M272.75 410V525.3" fill="none" stroke="#262626" stroke-width="0.6" stroke-opacity="0.6"/>
<text x="272.85" y="538.4" font-size="10.85" fill="#262626" text-anchor="middle">0</text>
<text x="330.62" y="538.4" font-size="10.85" fill="#262626" text-anchor="middle">0.2</text>
<text x="388.4" y="538.4" font-size="10.85" fill="#262626" text-anchor="middle">0.4</text>
<text x="270.35" y="530" font-size="10.85" fill="#262626" text-anchor="end">0</text>
<text x="270.35" y="501" font-size="10.85" fill="#262626" text-anchor="end">0.1</text>
<text x="270.35" y="472" font-size="10.85" fill="#262626" text-anchor="end">0.2</text>
<text x="270.35" y="443" font-size="10.85" fill="#262626" text-anchor="end">0.3</text>
<text x="270.35" y="414" font-size="10.85" fill="#262626" text-anchor="end">0.4</text>
<text x="330.93" y="554" font-size="12" fill="#262626" text-anchor="middle">Exposed quarantine(q<tspan font-size="9.6" dy="5.4" dx="1.4">1</tspan><tspan dy="-5.4" dx="1.0" font-size="12">)</tspan></text>
<text transform="translate(245.55,468.8) rotate(-90)" font-size="11.9" fill="#262626" text-anchor="middle">Undocumented quarantine(q<tspan font-size="9.6" dy="5.4" dx="0.9">2</tspan><tspan dy="-5.4" dx="1.0" font-size="11.9">)</tspan></text>
<rect x="422.2" y="391.4" width="11" height="152.3" fill="url(#pg)" stroke="#262626" stroke-width="0.6"/>
<path d="M431.7 516.03h1.5" stroke="#262626" stroke-width="0.6"/>
<text x="438.1" y="519.83" font-size="11" fill="#262626">10%</text>
<path d="M431.7 486.5h1.5" stroke="#262626" stroke-width="0.6"/>
<text x="438.1" y="490.3" font-size="11" fill="#262626">20%</text>
<path d="M431.7 456.96h1.5" stroke="#262626" stroke-width="0.6"/>
<text x="438.1" y="460.76" font-size="11" fill="#262626">30%</text>
<path d="M431.7 427.43h1.5" stroke="#262626" stroke-width="0.6"/>
<text x="438.1" y="431.23" font-size="11" fill="#262626">40%</text>
<path d="M431.7 397.9h1.5" stroke="#262626" stroke-width="0.6"/>
<text x="438.1" y="401.7" font-size="11" fill="#262626">50%</text>
<g transform="translate(508.5,410.2) scale(5.74500,5.75500)">
<path d="M-0.5 -0.5h1.8v1.8h-1.8z" fill="#02bac3"/>
<path d="M1 -0.5h1.3v1.8h-1.3z" fill="#20a5e3"/>
<path d="M2 -0.5h1.3v1.8h-1.3z" fill="#2e87f7"/>
<path d="M3 -0.5h1.3v1.8h-1.3z" fill="#3e6fff"/>
<path d="M4 -0.5h1.3v1.8h-1.3z" fill="#4758f8"/>
<path d="M5 -0.5h1.3v1.8h-1.3z" fill="#484df0"/>
<path d="M6 -0.5h2.3v1.8h-2.3z" fill="#4537d5"/>
<path d="M8 -0.5h4.3v1.8h-4.3z" fill="#422ec0"/>
<path d="M12 -0.5h8.5v1.8h-8.5z" fill="#3e26a8"/>
<path d="M-0.5 1h1.8v1.3h-1.8z" fill="#02bac3"/>
<path d="M1 1h1.3v1.3h-1.3z" fill="#20a5e3"/>
<path d="M2 1h1.3v1.3h-1.3z" fill="#2e87f7"/>
<path d="M3 1h1.3v1.3h-1.3z" fill="#3e6fff"/>
<path d="M4 1h1.3v1.3h-1.3z" fill="#4758f8"/>
<path d="M5 1h1.3v1.3h-1.3z" fill="#484df0"/>
<path d="M6 1h2.3v1.3h-2.3z" fill="#4537d5"/>
<path d="M8 1h6.3v1.3h-6.3z" fill="#422ec0"/>
<path d="M14 1h6.5v1.3h-6.5z" fill="#3e26a8"/>
<path d="M-0.5 2h1.8v1.3h-1.8z" fill="#3fca8e"/>
<path d="M1 2h1.3v1.3h-1.3z" fill="#08b5d0"/>
<path d="M2 2h1.3v1.3h-1.3z" fill="#259be8"/>
<path d="M3 2h1.3v1.3h-1.3z" fill="#327cfc"/>
<path d="M4 2h1.3v1.3h-1.3z" fill="#4563fd"/>
<path d="M5 2h1.3v1.3h-1.3z" fill="#4758f8"/>
<path d="M6 2h1.3v1.3h-1.3z" fill="#4741e5"/>
<path d="M7 2h2.3v1.3h-2.3z" fill="#4537d5"/>
<path d="M9 2h6.3v1.3h-6.3z" fill="#422ec0"/>
<path d="M15 2h5.5v1.3h-5.5z" fill="#3e26a8"/>
<path d="M-0.5 3h1.8v1.3h-1.8z" fill="#57cc7a"/>
<path d="M1 3h1.3v1.3h-1.3z" fill="#02bac3"/>
<path d="M2 3h1.3v1.3h-1.3z" fill="#20a5e3"/>
<path d="M3 3h1.3v1.3h-1.3z" fill="#2e87f7"/>
<path d="M4 3h1.3v1.3h-1.3z" fill="#3e6fff"/>
<path d="M5 3h1.3v1.3h-1.3z" fill="#4758f8"/>
<path d="M6 3h1.3v1.3h-1.3z" fill="#484df0"/>
<path d="M7 3h1.3v1.3h-1.3z" fill="#4741e5"/>
<path d="M8 3h2.3v1.3h-2.3z" fill="#4537d5"/>
<path d="M10 3h7.3v1.3h-7.3z" fill="#422ec0"/>
<path d="M17 3h3.5v1.3h-3.5z" fill="#3e26a8"/>
<path d="M-0.5 4h1.8v1.3h-1.8z" fill="#72cd64"/>
<path d="M1 4h1.3v1.3h-1.3z" fill="#24c1ae"/>
<path d="M2 4h1.3v1.3h-1.3z" fill="#18addb"/>
<path d="M3 4h1.3v1.3h-1.3z" fill="#2b91ef"/>
<path d="M4 4h1.3v1.3h-1.3z" fill="#327cfc"/>
<path d="M5 4h1.3v1.3h-1.3z" fill="#4563fd"/>
<path d="M6 4h1.3v1.3h-1.3z" fill="#484df0"/>
<path d="M7 4h2.3v1.3h-2.3z" fill="#4741e5"/>
<path d="M9 4h2.3v1.3h-2.3z" fill="#4537d5"/>
<path d="M11 4h8.3v1.3h-8.3z" fill="#422ec0"/>
<path d="M19 4h1.5v1.3h-1.5z" fill="#3e26a8"/>
<path d="M-0.5 5h1.8v1.3h-1.8z" fill="#8fcb4e"/>
<path d="M1 5h1.3v1.3h-1.3z" fill="#31c69f"/>
<path d="M2 5h1.3v1.3h-1.3z" fill="#08b5d0"/>
<path d="M3 5h1.3v1.3h-1.3z" fill="#259be8"/>
<path d="M4 5h1.3v1.3h-1.3z" fill="#2e87f7"/>
<path d="M5 5h1.3v1.3h-1.3z" fill="#3e6fff"/>
<path d="M6 5h1.3v1.3h-1.3z" fill="#4758f8"/>
<path d="M7 5h1.3v1.3h-1.3z" fill="#484df0"/>
<path d="M8 5h1.3v1.3h-1.3z" fill="#4741e5"/>
<path d="M9 5h3.3v1.3h-3.3z" fill="#4537d5"/>
<path d="M12 5h8.5v1.3h-8.5z" fill="#422ec0"/>
<path d="M-0.5 6h1.8v1.3h-1.8z" fill="#abc739"/>
<path d="M1 6h1.3v1.3h-1.3z" fill="#57cc7a"/>
<path d="M2 6h1.3v1.3h-1.3z" fill="#02bac3"/>
<path d="M3 6h1.3v1.3h-1.3z" fill="#20a5e3"/>
<path d="M4 6h1.3v1.3h-1.3z" fill="#2b91ef"/>
<path d="M5 6h1.3v1.3h-1.3z" fill="#327cfc"/>
<path d="M6 6h1.3v1.3h-1.3z" fill="#4563fd"/>
<path d="M7 6h2.3v1.3h-2.3z" fill="#484df0"/>
<path d="M9 6h1.3v1.3h-1.3z" fill="#4741e5"/>
<path d="M10 6h3.3v1.3h-3.3z" fill="#4537d5"/>
<path d="M13 6h7.5v1.3h-7.5z" fill="#422ec0"/>
<path d="M-0.5 7h1.8v1.3h-1.8z" fill="#dcbd29"/>
<path d="M1 7h1.3v1.3h-1.3z" fill="#72cd64"/>
<path d="M2 7h1.3v1.3h-1.3z" fill="#31c69f"/>
<path d="M3 7h1.3v1.3h-1.3z" fill="#08b5d0"/>
<path d="M4 7h1.3v1.3h-1.3z" fill="#259be8"/>
<path d="M5 7h1.3v1.3h-1.3z" fill="#2e87f7"/>
<path d="M6 7h1.3v1.3h-1.3z" fill="#3e6fff"/>
<path d="M7 7h1.3v1.3h-1.3z" fill="#4758f8"/>
<path d="M8 7h1.3v1.3h-1.3z" fill="#484df0"/>
<path d="M9 7h2.3v1.3h-2.3z" fill="#4741e5"/>
<path d="M11 7h3.3v1.3h-3.3z" fill="#4537d5"/>
<path d="M14 7h6.5v1.3h-6.5z" fill="#422ec0"/>
<path d="M-0.5 8h1.8v1.3h-1.8z" fill="#febe3c"/>
<path d="M1 8h1.3v1.3h-1.3z" fill="#abc739"/>
<path d="M2 8h1.3v1.3h-1.3z" fill="#57cc7a"/>
<path d="M3 8h1.3v1.3h-1.3z" fill="#02bac3"/>
<path d="M4 8h1.3v1.3h-1.3z" fill="#20a5e3"/>
<path d="M5 8h1.3v1.3h-1.3z" fill="#2b91ef"/>
<path d="M6 8h1.3v1.3h-1.3z" fill="#327cfc"/>
<path d="M7 8h1.3v1.3h-1.3z" fill="#4563fd"/>
<path d="M8 8h1.3v1.3h-1.3z" fill="#4758f8"/>
<path d="M9 8h1.3v1.3h-1.3z" fill="#484df0"/>
<path d="M10 8h2.3v1.3h-2.3z" fill="#4741e5"/>
<path d="M12 8h3.3v1.3h-3.3z" fill="#4537d5"/>
<path d="M15 8h5.5v1.3h-5.5z" fill="#422ec0"/>
<path d="M-0.5 9h1.8v1.3h-1.8z" fill="#fec934"/>
<path d="M1 9h1.3v1.3h-1.3z" fill="#dcbd29"/>
<path d="M2 9h1.3v1.3h-1.3z" fill="#8fcb4e"/>
<path d="M3 9h1.3v1.3h-1.3z" fill="#3fca8e"/>
<path d="M4 9h1.3v1.3h-1.3z" fill="#02bac3"/>
<path d="M5 9h1.3v1.3h-1.3z" fill="#20a5e3"/>
<path d="M6 9h1.3v1.3h-1.3z" fill="#2b91ef"/>
<path d="M7 9h1.3v1.3h-1.3z" fill="#327cfc"/>
<path d="M8 9h1.3v1.3h-1.3z" fill="#4563fd"/>
<path d="M9 9h1.3v1.3h-1.3z" fill="#4758f8"/>
<path d="M10 9h1.3v1.3h-1.3z" fill="#484df0"/>
<path d="M11 9h2.3v1.3h-2.3z" fill="#4741e5"/>
<path d="M13 9h3.3v1.3h-3.3z" fill="#4537d5"/>
<path d="M16 9h4.5v1.3h-4.5z" fill="#422ec0"/>
<path d="M-0.5 10h1.8v1.3h-1.8z" fill="#f5e327"/>
<path d="M1 10h1.3v1.3h-1.3z" fill="#febe3c"/>
<path d="M2 10h1.3v1.3h-1.3z" fill="#c5c22a"/>
<path d="M3 10h1.3v1.3h-1.3z" fill="#57cc7a"/>
<path d="M4 10h1.3v1.3h-1.3z" fill="#31c69f"/>
<path d="M5 10h1.3v1.3h-1.3z" fill="#02bac3"/>
<path d="M6 10h1.3v1.3h-1.3z" fill="#20a5e3"/>
<path d="M7 10h1.3v1.3h-1.3z" fill="#2b91ef"/>
<path d="M8 10h1.3v1.3h-1.3z" fill="#327cfc"/>
<path d="M9 10h1.3v1.3h-1.3z" fill="#4563fd"/>
<path d="M10 10h1.3v1.3h-1.3z" fill="#4758f8"/>
<path d="M11 10h2.3v1.3h-2.3z" fill="#484df0"/>
<path d="M13 10h1.3v1.3h-1.3z" fill="#4741e5"/>
<path d="M14 10h4.3v1.3h-4.3z" fill="#4537d5"/>
<path d="M18 10h2.5v1.3h-2.5z" fill="#422ec0"/>
<path d="M-0.5 11h1.8v1.3h-1.8z" fill="#f5e327"/>
<path d="M1 11h1.3v1.3h-1.3z" fill="#fec934"/>
<path d="M2 11h1.3v1.3h-1.3z" fill="#dcbd29"/>
<path d="M3 11h1.3v1.3h-1.3z" fill="#8fcb4e"/>
<path d="M4 11h1.3v1.3h-1.3z" fill="#57cc7a"/>
<path d="M5 11h1.3v1.3h-1.3z" fill="#24c1ae"/>
<path d="M6 11h1.3v1.3h-1.3z" fill="#08b5d0"/>
<path d="M7 11h1.3v1.3h-1.3z" fill="#20a5e3"/>
<path d="M8 11h1.3v1.3h-1.3z" fill="#2e87f7"/>
<path d="M9 11h1.3v1.3h-1.3z" fill="#3e6fff"/>
<path d="M10 11h1.3v1.3h-1.3z" fill="#4563fd"/>
<path d="M11 11h1.3v1.3h-1.3z" fill="#4758f8"/>
<path d="M12 11h2.3v1.3h-2.3z" fill="#484df0"/>
<path d="M14 11h2.3v1.3h-2.3z" fill="#4741e5"/>
<path d="M16 11h3.3v1.3h-3.3z" fill="#4537d5"/>
<path d="M19 11h1.5v1.3h-1.5z" fill="#422ec0"/>
<path d="M-0.5 12h2.8v1.3h-2.8z" fill="#f5e327"/>
<path d="M2 12h1.3v1.3h-1.3z" fill="#febe3c"/>
<path d="M3 12h1.3v1.3h-1.3z" fill="#c5c22a"/>
<path d="M4 12h1.3v1.3h-1.3z" fill="#72cd64"/>
<path d="M5 12h1.3v1.3h-1.3z" fill="#31c69f"/>
<path d="M6 12h1.3v1.3h-1.3z" fill="#02bac3"/>
<path d="M7 12h1.3v1.3h-1.3z" fill="#18addb"/>
<path d="M8 12h1.3v1.3h-1.3z" fill="#259be8"/>
<path d="M9 12h1.3v1.3h-1.3z" fill="#2e87f7"/>
<path d="M10 12h1.3v1.3h-1.3z" fill="#3e6fff"/>
<path d="M11 12h1.3v1.3h-1.3z" fill="#4563fd"/>
<path d="M12 12h1.3v1.3h-1.3z" fill="#4758f8"/>
<path d="M13 12h2.3v1.3h-2.3z" fill="#484df0"/>
<path d="M15 12h2.3v1.3h-2.3z" fill="#4741e5"/>
<path d="M17 12h3.5v1.3h-3.5z" fill="#4537d5"/>
<path d="M-0.5 13h1.8v1.3h-1.8z" fill="#f9fb15"/>
<path d="M1 13h1.3v1.3h-1.3z" fill="#f6ef20"/>
<path d="M2 13h1.3v1.3h-1.3z" fill="#fad62d"/>
<path d="M3 13h1.3v1.3h-1.3z" fill="#f0ba36"/>
<path d="M4 13h1.3v1.3h-1.3z" fill="#abc739"/>
<path d="M5 13h1.3v1.3h-1.3z" fill="#57cc7a"/>
<path d="M6 13h1.3v1.3h-1.3z" fill="#31c69f"/>
<path d="M7 13h1.3v1.3h-1.3z" fill="#02bac3"/>
<path d="M8 13h1.3v1.3h-1.3z" fill="#20a5e3"/>
<path d="M9 13h1.3v1.3h-1.3z" fill="#2b91ef"/>
<path d="M10 13h1.3v1.3h-1.3z" fill="#2e87f7"/>
<path d="M11 13h1.3v1.3h-1.3z" fill="#3e6fff"/>
<path d="M12 13h1.3v1.3h-1.3z" fill="#4563fd"/>
<path d="M13 13h1.3v1.3h-1.3z" fill="#4758f8"/>
<path d="M14 13h2.3v1.3h-2.3z" fill="#484df0"/>
<path d="M16 13h2.3v1.3h-2.3z" fill="#4741e5"/>
<path d="M18 13h2.5v1.3h-2.5z" fill="#4537d5"/>
<path d="M-0.5 14h1.8v1.3h-1.8z" fill="#f9fb15"/>
<path d="M1 14h1.3v1.3h-1.3z" fill="#f6ef20"/>
<path d="M2 14h1.3v1.3h-1.3z" fill="#f5e327"/>
<path d="M3 14h1.3v1.3h-1.3z" fill="#fec934"/>
<path d="M4 14h1.3v1.3h-1.3z" fill="#dcbd29"/>
<path d="M5 14h1.3v1.3h-1.3z" fill="#8fcb4e"/>
<path d="M6 14h1.3v1.3h-1.3z" fill="#57cc7a"/>
<path d="M7 14h1.3v1.3h-1.3z" fill="#24c1ae"/>
<path d="M8 14h1.3v1.3h-1.3z" fill="#08b5d0"/>
<path d="M9 14h1.3v1.3h-1.3z" fill="#20a5e3"/>
<path d="M10 14h1.3v1.3h-1.3z" fill="#2b91ef"/>
<path d="M11 14h1.3v1.3h-1.3z" fill="#327cfc"/>
<path d="M12 14h1.3v1.3h-1.3z" fill="#3e6fff"/>
<path d="M13 14h1.3v1.3h-1.3z" fill="#4563fd"/>
<path d="M14 14h1.3v1.3h-1.3z" fill="#4758f8"/>
<path d="M15 14h2.3v1.3h-2.3z" fill="#484df0"/>
<path d="M17 14h2.3v1.3h-2.3z" fill="#4741e5"/>
<path d="M19 14h1.5v1.3h-1.5z" fill="#4537d5"/>
<path d="M-0.5 15h2.8v1.3h-2.8z" fill="#f9fb15"/>
<path d="M2 15h1.3v1.3h-1.3z" fill="#f6ef20"/>
<path d="M3 15h1.3v1.3h-1.3z" fill="#f5e327"/>
<path d="M4 15h1.3v1.3h-1.3z" fill="#febe3c"/>
<path d="M5 15h1.3v1.3h-1.3z" fill="#dcbd29"/>
<path d="M6 15h1.3v1.3h-1.3z" fill="#8fcb4e"/>
<path d="M7 15h1.3v1.3h-1.3z" fill="#3fca8e"/>
<path d="M8 15h1.3v1.3h-1.3z" fill="#02bac3"/>
<path d="M9 15h1.3v1.3h-1.3z" fill="#18addb"/>
<path d="M10 15h1.3v1.3h-1.3z" fill="#259be8"/>
<path d="M11 15h1.3v1.3h-1.3z" fill="#2b91ef"/>
<path d="M12 15h1.3v1.3h-1.3z" fill="#327cfc"/>
<path d="M13 15h1.3v1.3h-1.3z" fill="#3e6fff"/>
<path d="M14 15h1.3v1.3h-1.3z" fill="#4563fd"/>
<path d="M15 15h1.3v1.3h-1.3z" fill="#4758f8"/>
<path d="M16 15h2.3v1.3h-2.3z" fill="#484df0"/>
<path d="M18 15h1.3v1.3h-1.3z" fill="#4741e5"/>
<path d="M19 15h1.5v1.3h-1.5z" fill="#4537d5"/>
<path d="M-0.5 16h1.8v1.3h-1.8z" fill="#f6ef20"/>
<path d="M1 16h2.3v1.3h-2.3z" fill="#f9fb15"/>
<path d="M3 16h1.3v1.3h-1.3z" fill="#f6ef20"/>
<path d="M4 16h1.3v1.3h-1.3z" fill="#f5e327"/>
<path d="M5 16h1.3v1.3h-1.3z" fill="#febe3c"/>
<path d="M6 16h1.3v1.3h-1.3z" fill="#dcbd29"/>
<path d="M7 16h1.3v1.3h-1.3z" fill="#72cd64"/>
<path d="M8 16h1.3v1.3h-1.3z" fill="#3fca8e"/>
<path d="M9 16h1.3v1.3h-1.3z" fill="#02bac3"/>
<path d="M10 16h1.3v1.3h-1.3z" fill="#18addb"/>
<path d="M11 16h1.3v1.3h-1.3z" fill="#259be8"/>
<path d="M12 16h1.3v1.3h-1.3z" fill="#2e87f7"/>
<path d="M13 16h1.3v1.3h-1.3z" fill="#327cfc"/>
<path d="M14 16h1.3v1.3h-1.3z" fill="#3e6fff"/>
<path d="M15 16h1.3v1.3h-1.3z" fill="#4563fd"/>
<path d="M16 16h1.3v1.3h-1.3z" fill="#4758f8"/>
<path d="M17 16h2.3v1.3h-2.3z" fill="#484df0"/>
<path d="M19 16h1.5v1.3h-1.5z" fill="#4741e5"/>
<path d="M-0.5 17h1.8v1.3h-1.8z" fill="#f5e327"/>
<path d="M1 17h3.3v1.3h-3.3z" fill="#f9fb15"/>
<path d="M4 17h1.3v1.3h-1.3z" fill="#f6ef20"/>
<path d="M5 17h1.3v1.3h-1.3z" fill="#f5e327"/>
<path d="M6 17h1.3v1.3h-1.3z" fill="#febe3c"/>
<path d="M7 17h1.3v1.3h-1.3z" fill="#c5c22a"/>
<path d="M8 17h1.3v1.3h-1.3z" fill="#72cd64"/>
<path d="M9 17h1.3v1.3h-1.3z" fill="#31c69f"/>
<path d="M10 17h1.3v1.3h-1.3z" fill="#02bac3"/>
<path d="M11 17h1.3v1.3h-1.3z" fill="#18addb"/>
<path d="M12 17h1.3v1.3h-1.3z" fill="#259be8"/>
<path d="M13 17h1.3v1.3h-1.3z" fill="#2e87f7"/>
<path d="M14 17h1.3v1.3h-1.3z" fill="#327cfc"/>
<path d="M15 17h1.3v1.3h-1.3z" fill="#3e6fff"/>
<path d="M16 17h1.3v1.3h-1.3z" fill="#4563fd"/>
<path d="M17 17h1.3v1.3h-1.3z" fill="#4758f8"/>
<path d="M18 17h2.5v1.3h-2.5z" fill="#484df0"/>
<path d="M-0.5 18h2.8v1.3h-2.8z" fill="#f5e327"/>
<path d="M2 18h3.3v1.3h-3.3z" fill="#f9fb15"/>
<path d="M5 18h1.3v1.3h-1.3z" fill="#f6ef20"/>
<path d="M6 18h1.3v1.3h-1.3z" fill="#f5e327"/>
<path d="M7 18h1.3v1.3h-1.3z" fill="#febe3c"/>
<path d="M8 18h1.3v1.3h-1.3z" fill="#c5c22a"/>
<path d="M9 18h1.3v1.3h-1.3z" fill="#72cd64"/>
<path d="M10 18h1.3v1.3h-1.3z" fill="#3fca8e"/>
<path d="M11 18h1.3v1.3h-1.3z" fill="#02bac3"/>
<path d="M12 18h1.3v1.3h-1.3z" fill="#18addb"/>
<path d="M13 18h1.3v1.3h-1.3z" fill="#259be8"/>
<path d="M14 18h1.3v1.3h-1.3z" fill="#2b91ef"/>
<path d="M15 18h1.3v1.3h-1.3z" fill="#327cfc"/>
<path d="M16 18h1.3v1.3h-1.3z" fill="#3e6fff"/>
<path d="M17 18h1.3v1.3h-1.3z" fill="#4563fd"/>
<path d="M18 18h1.3v1.3h-1.3z" fill="#4758f8"/>
<path d="M19 18h1.5v1.3h-1.5z" fill="#484df0"/>
<path d="M-0.5 19h1.8v1.5h-1.8z" fill="#fad62d"/>
<path d="M1 19h2.3v1.5h-2.3z" fill="#f5e327"/>
<path d="M3 19h3.3v1.5h-3.3z" fill="#f9fb15"/>
<path d="M6 19h1.3v1.5h-1.3z" fill="#f6ef20"/>
<path d="M7 19h1.3v1.5h-1.3z" fill="#f5e327"/>
<path d="M8 19h1.3v1.5h-1.3z" fill="#febe3c"/>
<path d="M9 19h1.3v1.5h-1.3z" fill="#c5c22a"/>
<path d="M10 19h1.3v1.5h-1.3z" fill="#8fcb4e"/>
<path d="M11 19h1.3v1.5h-1.3z" fill="#3fca8e"/>
<path d="M12 19h1.3v1.5h-1.3z" fill="#02bac3"/>
<path d="M13 19h1.3v1.5h-1.3z" fill="#18addb"/>
<path d="M14 19h1.3v1.5h-1.3z" fill="#20a5e3"/>
<path d="M15 19h1.3v1.5h-1.3z" fill="#2b91ef"/>
<path d="M16 19h1.3v1.5h-1.3z" fill="#327cfc"/>
<path d="M17 19h1.3v1.5h-1.3z" fill="#3e6fff"/>
<path d="M18 19h1.3v1.5h-1.3z" fill="#4563fd"/>
<path d="M19 19h1.5v1.5h-1.5z" fill="#4758f8"/>
</g>
<path fill="#fff" fill-rule="evenodd" d="M504 405.7h123.9v124.1h-123.9zM508.5 410.2h114.9v115.1h-114.9z"/>
<path d="M508.5 525.2H623.4" fill="none" stroke="#262626" stroke-width="0.7" stroke-opacity="0.8"/>
<text x="508.5" y="538.4" font-size="10.85" fill="#262626" text-anchor="middle">0</text>
<text x="565.95" y="538.4" font-size="10.85" fill="#262626" text-anchor="middle">0.2</text>
<text x="623.4" y="538.4" font-size="10.85" fill="#262626" text-anchor="middle">0.4</text>
<text x="506" y="530" font-size="10.85" fill="#262626" text-anchor="end">0</text>
<text x="506" y="501" font-size="10.85" fill="#262626" text-anchor="end">0.1</text>
<text x="506" y="472" font-size="10.85" fill="#262626" text-anchor="end">0.2</text>
<text x="506" y="443" font-size="10.85" fill="#262626" text-anchor="end">0.3</text>
<text x="506" y="414" font-size="10.85" fill="#262626" text-anchor="end">0.4</text>
<text x="566.25" y="554" font-size="12" fill="#262626" text-anchor="middle">Exposed quarantine(q<tspan font-size="9.6" dy="5.4" dx="1.4">1</tspan><tspan dy="-5.4" dx="1.0" font-size="12">)</tspan></text>
<text transform="translate(481.2,468.8) rotate(-90)" font-size="11.9" fill="#262626" text-anchor="middle">Undocumented quarantine(q<tspan font-size="9.6" dy="5.4" dx="0.9">2</tspan><tspan dy="-5.4" dx="1.0" font-size="11.9">)</tspan></text>
<rect x="657.5" y="391.4" width="11" height="152.3" fill="url(#pg)" stroke="#262626" stroke-width="0.6"/>
<path d="M667 534.2h1.5" stroke="#262626" stroke-width="0.6"/>
<text x="673.4" y="538" font-size="11" fill="#262626">5</text>
<path d="M667 509.46h1.5" stroke="#262626" stroke-width="0.6"/>
<text x="673.4" y="513.26" font-size="11" fill="#262626">10</text>
<path d="M667 484.72h1.5" stroke="#262626" stroke-width="0.6"/>
<text x="673.4" y="488.52" font-size="11" fill="#262626">15</text>
<path d="M667 459.98h1.5" stroke="#262626" stroke-width="0.6"/>
<text x="673.4" y="463.78" font-size="11" fill="#262626">20</text>
<path d="M667 435.24h1.5" stroke="#262626" stroke-width="0.6"/>
<text x="673.4" y="439.04" font-size="11" fill="#262626">25</text>
<path d="M667 410.5h1.5" stroke="#262626" stroke-width="0.6"/>
<text x="673.4" y="414.3" font-size="11" fill="#262626">30</text>
<g transform="translate(37.45,603.05) scale(5.79750,5.82250)">
<path d="M-0.5 -0.5h1.8v1.8h-1.8z" fill="#3fca8e"/>
<path d="M1 -0.5h1.3v1.8h-1.3z" fill="#19bfb6"/>
<path d="M2 -0.5h1.3v1.8h-1.3z" fill="#12b1d6"/>
<path d="M3 -0.5h1.3v1.8h-1.3z" fill="#259be8"/>
<path d="M4 -0.5h1.3v1.8h-1.3z" fill="#2e87f7"/>
<path d="M5 -0.5h1.3v1.8h-1.3z" fill="#327cfc"/>
<path d="M6 -0.5h1.3v1.8h-1.3z" fill="#4269fe"/>
<path d="M7 -0.5h1.3v1.8h-1.3z" fill="#4758f8"/>
<path d="M8 -0.5h1.3v1.8h-1.3z" fill="#484df0"/>
<path d="M9 -0.5h1.3v1.8h-1.3z" fill="#4741e5"/>
<path d="M10 -0.5h1.3v1.8h-1.3z" fill="#463cde"/>
<path d="M11 -0.5h1.3v1.8h-1.3z" fill="#4537d5"/>
<path d="M12 -0.5h2.3v1.8h-2.3z" fill="#4332cb"/>
<path d="M14 -0.5h1.3v1.8h-1.3z" fill="#422ec0"/>
<path d="M15 -0.5h2.3v1.8h-2.3z" fill="#402ab4"/>
<path d="M17 -0.5h3.5v1.8h-3.5z" fill="#3e26a8"/>
<path d="M-0.5 1h1.8v1.3h-1.8z" fill="#64cd6f"/>
<path d="M1 1h1.3v1.3h-1.3z" fill="#2cc4a7"/>
<path d="M2 1h1.3v1.3h-1.3z" fill="#08b5d0"/>
<path d="M3 1h1.3v1.3h-1.3z" fill="#23a0e5"/>
<path d="M4 1h1.3v1.3h-1.3z" fill="#2d8cf3"/>
<path d="M5 1h1.3v1.3h-1.3z" fill="#327cfc"/>
<path d="M6 1h1.3v1.3h-1.3z" fill="#4269fe"/>
<path d="M7 1h1.3v1.3h-1.3z" fill="#465efb"/>
<path d="M8 1h1.3v1.3h-1.3z" fill="#4852f4"/>
<path d="M9 1h1.3v1.3h-1.3z" fill="#4747eb"/>
<path d="M10 1h2.3v1.3h-2.3z" fill="#463cde"/>
<path d="M12 1h1.3v1.3h-1.3z" fill="#4537d5"/>
<path d="M13 1h1.3v1.3h-1.3z" fill="#4332cb"/>
<path d="M14 1h2.3v1.3h-2.3z" fill="#422ec0"/>
<path d="M16 1h2.3v1.3h-2.3z" fill="#402ab4"/>
<path d="M18 1h2.5v1.3h-2.5z" fill="#3e26a8"/>
<path d="M-0.5 2h1.8v1.3h-1.8z" fill="#81cc59"/>
<path d="M1 2h1.3v1.3h-1.3z" fill="#37c897"/>
<path d="M2 2h1.3v1.3h-1.3z" fill="#02bac3"/>
<path d="M3 2h1.3v1.3h-1.3z" fill="#20a5e3"/>
<path d="M4 2h1.3v1.3h-1.3z" fill="#2b91ef"/>
<path d="M5 2h1.3v1.3h-1.3z" fill="#2f81fa"/>
<path d="M6 2h1.3v1.3h-1.3z" fill="#3e6fff"/>
<path d="M7 2h1.3v1.3h-1.3z" fill="#4563fd"/>
<path d="M8 2h1.3v1.3h-1.3z" fill="#4852f4"/>
<path d="M9 2h1.3v1.3h-1.3z" fill="#4747eb"/>
<path d="M10 2h1.3v1.3h-1.3z" fill="#4741e5"/>
<path d="M11 2h1.3v1.3h-1.3z" fill="#463cde"/>
<path d="M12 2h1.3v1.3h-1.3z" fill="#4537d5"/>
<path d="M13 2h2.3v1.3h-2.3z" fill="#4332cb"/>
<path d="M15 2h1.3v1.3h-1.3z" fill="#422ec0"/>
<path d="M16 2h2.3v1.3h-2.3z" fill="#402ab4"/>
<path d="M18 2h2.5v1.3h-2.5z" fill="#3e26a8"/>
<path d="M-0.5 3h1.8v1.3h-1.8z" fill="#abc739"/>
<path d="M1 3h1.3v1.3h-1.3z" fill="#4acb84"/>
<path d="M2 3h1.3v1.3h-1.3z" fill="#0bbdbd"/>
<path d="M3 3h1.3v1.3h-1.3z" fill="#18addb"/>
<path d="M4 3h1.3v1.3h-1.3z" fill="#2797eb"/>
<path d="M5 3h1.3v1.3h-1.3z" fill="#2e87f7"/>
<path d="M6 3h1.3v1.3h-1.3z" fill="#3875fe"/>
<path d="M7 3h1.3v1.3h-1.3z" fill="#4563fd"/>
<path d="M8 3h1.3v1.3h-1.3z" fill="#4758f8"/>
<path d="M9 3h1.3v1.3h-1.3z" fill="#484df0"/>
<path d="M10 3h1.3v1.3h-1.3z" fill="#4741e5"/>
<path d="M11 3h1.3v1.3h-1.3z" fill="#463cde"/>
<path d="M12 3h2.3v1.3h-2.3z" fill="#4537d5"/>
<path d="M14 3h1.3v1.3h-1.3z" fill="#4332cb"/>
<path d="M15 3h1.3v1.3h-1.3z" fill="#422ec0"/>
<path d="M16 3h3.3v1.3h-3.3z" fill="#402ab4"/>
<path d="M19 3h1.5v1.3h-1.5z" fill="#3e26a8"/>
<path d="M-0.5 4h1.8v1.3h-1.8z" fill="#d1bf27"/>
<path d="M1 4h1.3v1.3h-1.3z" fill="#72cd64"/>
<path d="M2 4h1.3v1.3h-1.3z" fill="#24c1ae"/>
<path d="M3 4h1.3v1.3h-1.3z" fill="#08b5d0"/>
<path d="M4 4h1.3v1.3h-1.3z" fill="#23a0e5"/>
<path d="M5 4h1.3v1.3h-1.3z" fill="#2d8cf3"/>
<path d="M6 4h1.3v1.3h-1.3z" fill="#327cfc"/>
<path d="M7 4h1.3v1.3h-1.3z" fill="#4269fe"/>
<path d="M8 4h1.3v1.3h-1.3z" fill="#465efb"/>
<path d="M9 4h1.3v1.3h-1.3z" fill="#4852f4"/>
<path d="M10 4h1.3v1.3h-1.3z" fill="#4747eb"/>
<path d="M11 4h1.3v1.3h-1.3z" fill="#4741e5"/>
<path d="M12 4h1.3v1.3h-1.3z" fill="#463cde"/>
<path d="M13 4h1.3v1.3h-1.3z" fill="#4537d5"/>
<path d="M14 4h1.3v1.3h-1.3z" fill="#4332cb"/>
<path d="M15 4h2.3v1.3h-2.3z" fill="#422ec0"/>
<path d="M17 4h3.5v1.3h-3.5z" fill="#402ab4"/>
<path d="M-0.5 5h1.8v1.3h-1.8z" fill="#f0ba36"/>
<path d="M1 5h1.3v1.3h-1.3z" fill="#8fcb4e"/>
<path d="M2 5h1.3v1.3h-1.3z" fill="#31c69f"/>
<path d="M3 5h1.3v1.3h-1.3z" fill="#01b8ca"/>
<path d="M4 5h1.3v1.3h-1.3z" fill="#20a5e3"/>
<path d="M5 5h1.3v1.3h-1.3z" fill="#2797eb"/>
<path d="M6 5h1.3v1.3h-1.3z" fill="#2f81fa"/>
<path d="M7 5h1.3v1.3h-1.3z" fill="#3e6fff"/>
<path d="M8 5h1.3v1.3h-1.3z" fill="#4563fd"/>
<path d="M9 5h1.3v1.3h-1.3z" fill="#4758f8"/>
<path d="M10 5h1.3v1.3h-1.3z" fill="#484df0"/>
<path d="M11 5h1.3v1.3h-1.3z" fill="#4747eb"/>
<path d="M12 5h1.3v1.3h-1.3z" fill="#4741e5"/>
<path d="M13 5h1.3v1.3h-1.3z" fill="#4537d5"/>
<path d="M14 5h2.3v1.3h-2.3z" fill="#4332cb"/>
<path d="M16 5h2.3v1.3h-2.3z" fill="#422ec0"/>
<path d="M18 5h2.5v1.3h-2.5z" fill="#402ab4"/>
<path d="M-0.5 6h1.8v1.3h-1.8z" fill="#febe3c"/>
<path d="M1 6h1.3v1.3h-1.3z" fill="#b9c431"/>
<path d="M2 6h1.3v1.3h-1.3z" fill="#4acb84"/>
<path d="M3 6h1.3v1.3h-1.3z" fill="#19bfb6"/>
<path d="M4 6h1.3v1.3h-1.3z" fill="#18addb"/>
<path d="M5 6h1.3v1.3h-1.3z" fill="#259be8"/>
<path d="M6 6h1.3v1.3h-1.3z" fill="#2e87f7"/>
<path d="M7 6h1.3v1.3h-1.3z" fill="#3875fe"/>
<path d="M8 6h1.3v1.3h-1.3z" fill="#4269fe"/>
<path d="M9 6h1.3v1.3h-1.3z" fill="#4758f8"/>
<path d="M10 6h1.3v1.3h-1.3z" fill="#4852f4"/>
<path d="M11 6h1.3v1.3h-1.3z" fill="#4747eb"/>
<path d="M12 6h1.3v1.3h-1.3z" fill="#4741e5"/>
<path d="M13 6h1.3v1.3h-1.3z" fill="#463cde"/>
<path d="M14 6h1.3v1.3h-1.3z" fill="#4537d5"/>
<path d="M15 6h2.3v1.3h-2.3z" fill="#4332cb"/>
<path d="M17 6h2.3v1.3h-2.3z" fill="#422ec0"/>
<path d="M19 6h1.5v1.3h-1.5z" fill="#402ab4"/>
<path d="M-0.5 7h1.8v1.3h-1.8z" fill="#fccf30"/>
<path d="M1 7h1.3v1.3h-1.3z" fill="#dcbd29"/>
<path d="M2 7h1.3v1.3h-1.3z" fill="#72cd64"/>
<path d="M3 7h1.3v1.3h-1.3z" fill="#2cc4a7"/>
<path d="M4 7h1.3v1.3h-1.3z" fill="#01b8ca"/>
<path d="M5 7h1.3v1.3h-1.3z" fill="#20a5e3"/>
<path d="M6 7h1.3v1.3h-1.3z" fill="#2b91ef"/>
<path d="M7 7h1.3v1.3h-1.3z" fill="#327cfc"/>
<path d="M8 7h1.3v1.3h-1.3z" fill="#3e6fff"/>
<path d="M9 7h1.3v1.3h-1.3z" fill="#465efb"/>
<path d="M10 7h1.3v1.3h-1.3z" fill="#4758f8"/>
<path d="M11 7h1.3v1.3h-1.3z" fill="#484df0"/>
<path d="M12 7h1.3v1.3h-1.3z" fill="#4747eb"/>
<path d="M13 7h1.3v1.3h-1.3z" fill="#4741e5"/>
<path d="M14 7h1.3v1.3h-1.3z" fill="#463cde"/>
<path d="M15 7h1.3v1.3h-1.3z" fill="#4537d5"/>
<path d="M16 7h2.3v1.3h-2.3z" fill="#4332cb"/>
<path d="M18 7h1.3v1.3h-1.3z" fill="#422ec0"/>
<path d="M19 7h1.5v1.3h-1.5z" fill="#402ab4"/>
<path d="M-0.5 8h1.8v1.3h-1.8z" fill="#fad62d"/>
<path d="M1 8h1.3v1.3h-1.3z" fill="#f8ba3d"/>
<path d="M2 8h1.3v1.3h-1.3z" fill="#abc739"/>
<path d="M3 8h1.3v1.3h-1.3z" fill="#4acb84"/>
<path d="M4 8h1.3v1.3h-1.3z" fill="#19bfb6"/>
<path d="M5 8h1.3v1.3h-1.3z" fill="#12b1d6"/>
<path d="M6 8h1.3v1.3h-1.3z" fill="#23a0e5"/>
<path d="M7 8h1.3v1.3h-1.3z" fill="#2d8cf3"/>
<path d="M8 8h1.3v1.3h-1.3z" fill="#3875fe"/>
<path d="M9 8h1.3v1.3h-1.3z" fill="#4269fe"/>
<path d="M10 8h1.3v1.3h-1.3z" fill="#465efb"/>
<path d="M11 8h1.3v1.3h-1.3z" fill="#4852f4"/>
<path d="M12 8h1.3v1.3h-1.3z" fill="#484df0"/>
<path d="M13 8h1.3v1.3h-1.3z" fill="#4741e5"/>
<path d="M14 8h2.3v1.3h-2.3z" fill="#463cde"/>
<path d="M16 8h1.3v1.3h-1.3z" fill="#4537d5"/>
<path d="M17 8h1.3v1.3h-1.3z" fill="#4332cb"/>
<path d="M18 8h2.5v1.3h-2.5z" fill="#422ec0"/>
<path d="M-0.5 9h1.8v1.3h-1.8z" fill="#f7dc2a"/>
<path d="M1 9h1.3v1.3h-1.3z" fill="#fec934"/>
<path d="M2 9h1.3v1.3h-1.3z" fill="#dcbd29"/>
<path d="M3 9h1.3v1.3h-1.3z" fill="#81cc59"/>
<path d="M4 9h1.3v1.3h-1.3z" fill="#37c897"/>
<path d="M5 9h1.3v1.3h-1.3z" fill="#0bbdbd"/>
<path d="M6 9h1.3v1.3h-1.3z" fill="#18addb"/>
<path d="M7 9h1.3v1.3h-1.3z" fill="#2797eb"/>
<path d="M8 9h1.3v1.3h-1.3z" fill="#2f81fa"/>
<path d="M9 9h1.3v1.3h-1.3z" fill="#3e6fff"/>
<path d="M10 9h1.3v1.3h-1.3z" fill="#4563fd"/>
<path d="M11 9h1.3v1.3h-1.3z" fill="#465efb"/>
<path d="M12 9h1.3v1.3h-1.3z" fill="#4852f4"/>
<path d="M13 9h1.3v1.3h-1.3z" fill="#484df0"/>
<path d="M14 9h1.3v1.3h-1.3z" fill="#4741e5"/>
<path d="M15 9h2.3v1.3h-2.3z" fill="#463cde"/>
<path d="M17 9h1.3v1.3h-1.3z" fill="#4537d5"/>
<path d="M18 9h2.5v1.3h-2.5z" fill="#4332cb"/>
<path d="M-0.5 10h1.8v1.3h-1.8z" fill="#f5e327"/>
<path d="M1 10h1.3v1.3h-1.3z" fill="#fad62d"/>
<path d="M2 10h1.3v1.3h-1.3z" fill="#f8ba3d"/>
<path d="M3 10h1.3v1.3h-1.3z" fill="#b9c431"/>
<path d="M4 10h1.3v1.3h-1.3z" fill="#57cc7a"/>
<path d="M5 10h1.3v1.3h-1.3z" fill="#2cc4a7"/>
<path d="M6 10h1.3v1.3h-1.3z" fill="#01b8ca"/>
<path d="M7 10h1.3v1.3h-1.3z" fill="#20a5e3"/>
<path d="M8 10h1.3v1.3h-1.3z" fill="#2b91ef"/>
<path d="M9 10h1.3v1.3h-1.3z" fill="#327cfc"/>
<path d="M10 10h1.3v1.3h-1.3z" fill="#3e6fff"/>
<path d="M11 10h1.3v1.3h-1.3z" fill="#4269fe"/>
<path d="M12 10h1.3v1.3h-1.3z" fill="#465efb"/>
<path d="M13 10h1.3v1.3h-1.3z" fill="#4758f8"/>
<path d="M14 10h1.3v1.3h-1.3z" fill="#484df0"/>
<path d="M15 10h1.3v1.3h-1.3z" fill="#4747eb"/>
<path d="M16 10h1.3v1.3h-1.3z" fill="#4741e5"/>
<path d="M17 10h1.3v1.3h-1.3z" fill="#463cde"/>
<path d="M18 10h2.5v1.3h-2.5z" fill="#4537d5"/>
<path d="M-0.5 11h1.8v1.3h-1.8z" fill="#f5e327"/>
<path d="M1 11h1.3v1.3h-1.3z" fill="#f7dc2a"/>
<path d="M2 11h1.3v1.3h-1.3z" fill="#fec934"/>
<path d="M3 11h1.3v1.3h-1.3z" fill="#dcbd29"/>
<path d="M4 11h1.3v1.3h-1.3z" fill="#8fcb4e"/>
<path d="M5 11h1.3v1.3h-1.3z" fill="#3fca8e"/>
<path d="M6 11h1.3v1.3h-1.3z" fill="#19bfb6"/>
<path d="M7 11h1.3v1.3h-1.3z" fill="#12b1d6"/>
<path d="M8 11h1.3v1.3h-1.3z" fill="#23a0e5"/>
<path d="M9 11h1.3v1.3h-1.3z" fill="#2d8cf3"/>
<path d="M10 11h1.3v1.3h-1.3z" fill="#327cfc"/>
<path d="M11 11h1.3v1.3h-1.3z" fill="#3e6fff"/>
<path d="M12 11h1.3v1.3h-1.3z" fill="#4269fe"/>
<path d="M13 11h1.3v1.3h-1.3z" fill="#465efb"/>
<path d="M14 11h1.3v1.3h-1.3z" fill="#4758f8"/>
<path d="M15 11h1.3v1.3h-1.3z" fill="#4852f4"/>
<path d="M16 11h1.3v1.3h-1.3z" fill="#4747eb"/>
<path d="M17 11h1.3v1.3h-1.3z" fill="#4741e5"/>
<path d="M18 11h2.5v1.3h-2.5z" fill="#463cde"/>
<path d="M-0.5 12h1.8v1.3h-1.8z" fill="#f5e924"/>
<path d="M1 12h1.3v1.3h-1.3z" fill="#f5e327"/>
<path d="M2 12h1.3v1.3h-1.3z" fill="#fad62d"/>
<path d="M3 12h1.3v1.3h-1.3z" fill="#febe3c"/>
<path d="M4 12h1.3v1.3h-1.3z" fill="#b9c431"/>
<path d="M5 12h1.3v1.3h-1.3z" fill="#64cd6f"/>
<path d="M6 12h1.3v1.3h-1.3z" fill="#31c69f"/>
<path d="M7 12h1.3v1.3h-1.3z" fill="#02bac3"/>
<path d="M8 12h1.3v1.3h-1.3z" fill="#18addb"/>
<path d="M9 12h1.3v1.3h-1.3z" fill="#259be8"/>
<path d="M10 12h1.3v1.3h-1.3z" fill="#2d8cf3"/>
<path d="M11 12h1.3v1.3h-1.3z" fill="#2f81fa"/>
<path d="M12 12h1.3v1.3h-1.3z" fill="#3875fe"/>
<path d="M13 12h1.3v1.3h-1.3z" fill="#4269fe"/>
<path d="M14 12h1.3v1.3h-1.3z" fill="#4563fd"/>
<path d="M15 12h1.3v1.3h-1.3z" fill="#4758f8"/>
<path d="M16 12h1.3v1.3h-1.3z" fill="#4852f4"/>
<path d="M17 12h1.3v1.3h-1.3z" fill="#484df0"/>
<path d="M18 12h1.3v1.3h-1.3z" fill="#4747eb"/>
<path d="M19 12h1.5v1.3h-1.5z" fill="#4741e5"/>
<path d="M-0.5 13h2.8v1.3h-2.8z" fill="#f5e924"/>
<path d="M2 13h1.3v1.3h-1.3z" fill="#f5e327"/>
<path d="M3 13h1.3v1.3h-1.3z" fill="#fccf30"/>
<path d="M4 13h1.3v1.3h-1.3z" fill="#e6bb2d"/>
<path d="M5 13h1.3v1.3h-1.3z" fill="#9dc943"/>
<path d="M6 13h1.3v1.3h-1.3z" fill="#4acb84"/>
<path d="M7 13h1.3v1.3h-1.3z" fill="#24c1ae"/>
<path d="M8 13h1.3v1.3h-1.3z" fill="#01b8ca"/>
<path d="M9 13h1.3v1.3h-1.3z" fill="#1ca9df"/>
<path d="M10 13h1.3v1.3h-1.3z" fill="#2797eb"/>
<path d="M11 13h1.3v1.3h-1.3z" fill="#2d8cf3"/>
<path d="M12 13h1.3v1.3h-1.3z" fill="#2f81fa"/>
<path d="M13 13h1.3v1.3h-1.3z" fill="#3875fe"/>
<path d="M14 13h1.3v1.3h-1.3z" fill="#4269fe"/>
<path d="M15 13h1.3v1.3h-1.3z" fill="#4563fd"/>
<path d="M16 13h1.3v1.3h-1.3z" fill="#4758f8"/>
<path d="M17 13h1.3v1.3h-1.3z" fill="#4852f4"/>
<path d="M18 13h1.3v1.3h-1.3z" fill="#484df0"/>
<path d="M19 13h1.5v1.3h-1.5z" fill="#4747eb"/>
<path d="M-0.5 14h2.8v1.3h-2.8z" fill="#f5e924"/>
<path d="M2 14h1.3v1.3h-1.3z" fill="#f5e327"/>
<path d="M3 14h1.3v1.3h-1.3z" fill="#f7dc2a"/>
<path d="M4 14h1.3v1.3h-1.3z" fill="#fec338"/>
<path d="M5 14h1.3v1.3h-1.3z" fill="#dcbd29"/>
<path d="M6 14h1.3v1.3h-1.3z" fill="#8fcb4e"/>
<path d="M7 14h1.3v1.3h-1.3z" fill="#3fca8e"/>
<path d="M8 14h1.3v1.3h-1.3z" fill="#19bfb6"/>
<path d="M9 14h1.3v1.3h-1.3z" fill="#08b5d0"/>
<path d="M10 14h1.3v1.3h-1.3z" fill="#1ca9df"/>
<path d="M11 14h1.3v1.3h-1.3z" fill="#259be8"/>
<path d="M12 14h1.3v1.3h-1.3z" fill="#2d8cf3"/>
<path d="M13 14h1.3v1.3h-1.3z" fill="#2f81fa"/>
<path d="M14 14h1.3v1.3h-1.3z" fill="#3875fe"/>
<path d="M15 14h1.3v1.3h-1.3z" fill="#3e6fff"/>
<path d="M16 14h1.3v1.3h-1.3z" fill="#4563fd"/>
<path d="M17 14h1.3v1.3h-1.3z" fill="#4758f8"/>
<path d="M18 14h1.3v1.3h-1.3z" fill="#4852f4"/>
<path d="M19 14h1.5v1.3h-1.5z" fill="#484df0"/>
<path d="M-0.5 15h1.8v1.3h-1.8z" fill="#f5e327"/>
<path d="M1 15h2.3v1.3h-2.3z" fill="#f5e924"/>
<path d="M3 15h1.3v1.3h-1.3z" fill="#f5e327"/>
<path d="M4 15h1.3v1.3h-1.3z" fill="#f7dc2a"/>
<path d="M5 15h1.3v1.3h-1.3z" fill="#fec338"/>
<path d="M6 15h1.3v1.3h-1.3z" fill="#d1bf27"/>
<path d="M7 15h1.3v1.3h-1.3z" fill="#8fcb4e"/>
<path d="M8 15h1.3v1.3h-1.3z" fill="#3fca8e"/>
<path d="M9 15h1.3v1.3h-1.3z" fill="#19bfb6"/>
<path d="M10 15h1.3v1.3h-1.3z" fill="#08b5d0"/>
<path d="M11 15h1.3v1.3h-1.3z" fill="#1ca9df"/>
<path d="M12 15h1.3v1.3h-1.3z" fill="#259be8"/>
<path d="M13 15h1.3v1.3h-1.3z" fill="#2b91ef"/>
<path d="M14 15h1.3v1.3h-1.3z" fill="#2e87f7"/>
<path d="M15 15h1.3v1.3h-1.3z" fill="#327cfc"/>
<path d="M16 15h1.3v1.3h-1.3z" fill="#3e6fff"/>
<path d="M17 15h1.3v1.3h-1.3z" fill="#4563fd"/>
<path d="M18 15h1.3v1.3h-1.3z" fill="#4758f8"/>
<path d="M19 15h1.5v1.3h-1.5z" fill="#4852f4"/>
<path d="M-0.5 16h1.8v1.3h-1.8z" fill="#f7dc2a"/>
<path d="M1 16h1.3v1.3h-1.3z" fill="#f5e327"/>
<path d="M2 16h2.3v1.3h-2.3z" fill="#f5e924"/>
<path d="M4 16h1.3v1.3h-1.3z" fill="#f5e327"/>
<path d="M5 16h1.3v1.3h-1.3z" fill="#f7dc2a"/>
<path d="M6 16h1.3v1.3h-1.3z" fill="#fec338"/>
<path d="M7 16h1.3v1.3h-1.3z" fill="#d1bf27"/>
<path d="M8 16h1.3v1.3h-1.3z" fill="#8fcb4e"/>
<path d="M9 16h1.3v1.3h-1.3z" fill="#3fca8e"/>
<path d="M10 16h1.3v1.3h-1.3z" fill="#24c1ae"/>
<path d="M11 16h1.3v1.3h-1.3z" fill="#01b8ca"/>
<path d="M12 16h1.3v1.3h-1.3z" fill="#18addb"/>
<path d="M13 16h1.3v1.3h-1.3z" fill="#23a0e5"/>
<path d="M14 16h1.3v1.3h-1.3z" fill="#2b91ef"/>
<path d="M15 16h1.3v1.3h-1.3z" fill="#2e87f7"/>
<path d="M16 16h1.3v1.3h-1.3z" fill="#327cfc"/>
<path d="M17 16h1.3v1.3h-1.3z" fill="#3e6fff"/>
<path d="M18 16h1.3v1.3h-1.3z" fill="#4563fd"/>
<path d="M19 16h1.5v1.3h-1.5z" fill="#465efb"/>
<path d="M-0.5 17h1.8v1.3h-1.8z" fill="#fad62d"/>
<path d="M1 17h1.3v1.3h-1.3z" fill="#f7dc2a"/>
<path d="M2 17h1.3v1.3h-1.3z" fill="#f5e327"/>
<path d="M3 17h3.3v1.3h-3.3z" fill="#f5e924"/>
<path d="M6 17h1.3v1.3h-1.3z" fill="#f7dc2a"/>
<path d="M7 17h1.3v1.3h-1.3z" fill="#fec338"/>
<path d="M8 17h1.3v1.3h-1.3z" fill="#dcbd29"/>
<path d="M9 17h1.3v1.3h-1.3z" fill="#8fcb4e"/>
<path d="M10 17h1.3v1.3h-1.3z" fill="#4acb84"/>
<path d="M11 17h1.3v1.3h-1.3z" fill="#24c1ae"/>
<path d="M12 17h1.3v1.3h-1.3z" fill="#01b8ca"/>
<path d="M13 17h1.3v1.3h-1.3z" fill="#18addb"/>
<path d="M14 17h1.3v1.3h-1.3z" fill="#23a0e5"/>
<path d="M15 17h1.3v1.3h-1.3z" fill="#2b91ef"/>
<path d="M16 17h1.3v1.3h-1.3z" fill="#2e87f7"/>
<path d="M17 17h1.3v1.3h-1.3z" fill="#327cfc"/>
<path d="M18 17h1.3v1.3h-1.3z" fill="#3e6fff"/>
<path d="M19 17h1.5v1.3h-1.5z" fill="#4563fd"/>
<path d="M-0.5 18h1.8v1.3h-1.8z" fill="#fad62d"/>
<path d="M1 18h1.3v1.3h-1.3z" fill="#f7dc2a"/>
<path d="M2 18h1.3v1.3h-1.3z" fill="#f5e327"/>
<path d="M3 18h1.3v1.3h-1.3z" fill="#f5e924"/>
<path d="M4 18h1.3v1.3h-1.3z" fill="#f6ef20"/>
<path d="M5 18h1.3v1.3h-1.3z" fill="#f7f51b"/>
<path d="M6 18h1.3v1.3h-1.3z" fill="#f6ef20"/>
<path d="M7 18h1.3v1.3h-1.3z" fill="#f5e327"/>
<path d="M8 18h1.3v1.3h-1.3z" fill="#fccf30"/>
<path d="M9 18h1.3v1.3h-1.3z" fill="#e6bb2d"/>
<path d="M10 18h1.3v1.3h-1.3z" fill="#abc739"/>
<path d="M11 18h1.3v1.3h-1.3z" fill="#57cc7a"/>
<path d="M12 18h1.3v1.3h-1.3z" fill="#2cc4a7"/>
<path d="M13 18h1.3v1.3h-1.3z" fill="#02bac3"/>
<path d="M14 18h1.3v1.3h-1.3z" fill="#18addb"/>
<path d="M15 18h1.3v1.3h-1.3z" fill="#23a0e5"/>
<path d="M16 18h1.3v1.3h-1.3z" fill="#2b91ef"/>
<path d="M17 18h1.3v1.3h-1.3z" fill="#2e87f7"/>
<path d="M18 18h1.3v1.3h-1.3z" fill="#3875fe"/>
<path d="M19 18h1.5v1.3h-1.5z" fill="#3e6fff"/>
<path d="M-0.5 19h1.8v1.5h-1.8z" fill="#fad62d"/>
<path d="M1 19h1.3v1.5h-1.3z" fill="#f7dc2a"/>
<path d="M2 19h1.3v1.5h-1.3z" fill="#f5e327"/>
<path d="M3 19h1.3v1.5h-1.3z" fill="#f5e924"/>
<path d="M4 19h1.3v1.5h-1.3z" fill="#f7f51b"/>
<path d="M5 19h3.3v1.5h-3.3z" fill="#f9fb15"/>
<path d="M8 19h1.3v1.5h-1.3z" fill="#f6ef20"/>
<path d="M9 19h1.3v1.5h-1.3z" fill="#fad62d"/>
<path d="M10 19h1.3v1.5h-1.3z" fill="#f0ba36"/>
<path d="M11 19h1.3v1.5h-1.3z" fill="#9dc943"/>
<path d="M12 19h1.3v1.5h-1.3z" fill="#4acb84"/>
<path d="M13 19h1.3v1.5h-1.3z" fill="#24c1ae"/>
<path d="M14 19h1.3v1.5h-1.3z" fill="#01b8ca"/>
<path d="M15 19h1.3v1.5h-1.3z" fill="#1ca9df"/>
<path d="M16 19h1.3v1.5h-1.3z" fill="#259be8"/>
<path d="M17 19h1.3v1.5h-1.3z" fill="#2d8cf3"/>
<path d="M18 19h1.3v1.5h-1.3z" fill="#2f81fa"/>
<path d="M19 19h1.5v1.5h-1.5z" fill="#3875fe"/>
</g>
<path fill="#fff" fill-rule="evenodd" d="M32.95 598.55h124.95v125.45h-124.95zM37.45 603.05h115.95v116.45h-115.95z"/>
<path d="M37.45 719.4H153.4" fill="none" stroke="#262626" stroke-width="0.7" stroke-opacity="0.8"/>
<text x="37.45" y="731.9" font-size="10.85" fill="#262626" text-anchor="middle">0</text>
<text x="95.43" y="731.9" font-size="10.85" fill="#262626" text-anchor="middle">0.2</text>
<text x="153.4" y="731.9" font-size="10.85" fill="#262626" text-anchor="middle">0.4</text>
<text x="34.95" y="723.7" font-size="10.85" fill="#262626" text-anchor="end">0</text>
<text x="34.95" y="694.59" font-size="10.85" fill="#262626" text-anchor="end">0.1</text>
<text x="34.95" y="665.48" font-size="10.85" fill="#262626" text-anchor="end">0.2</text>
<text x="34.95" y="636.36" font-size="10.85" fill="#262626" text-anchor="end">0.3</text>
<text x="34.95" y="607.25" font-size="10.85" fill="#262626" text-anchor="end">0.4</text>
<text x="95.73" y="747.5" font-size="12" fill="#262626" text-anchor="middle">Exposed quarantine(q<tspan font-size="9.6" dy="5.4" dx="1.4">1</tspan><tspan dy="-5.4" dx="1.0" font-size="12">)</tspan></text>
<text transform="translate(10.15,662.27) rotate(-90)" font-size="11.9" fill="#262626" text-anchor="middle">Undocumented quarantine(q<tspan font-size="9.6" dy="5.4" dx="0.9">2</tspan><tspan dy="-5.4" dx="1.0" font-size="11.9">)</tspan></text>
<rect x="187" y="585.4" width="11" height="151.3" fill="url(#pg)" stroke="#262626" stroke-width="0.6"/>
<path d="M196.5 731.33h1.5" stroke="#262626" stroke-width="0.6"/>
<text x="202.9" y="735.13" font-size="11" fill="#262626">50</text>
<path d="M196.5 690.66h1.5" stroke="#262626" stroke-width="0.6"/>
<text x="202.9" y="694.46" font-size="11" fill="#262626">100</text>
<path d="M196.5 649.99h1.5" stroke="#262626" stroke-width="0.6"/>
<text x="202.9" y="653.79" font-size="11" fill="#262626">150</text>
<path d="M196.5 609.32h1.5" stroke="#262626" stroke-width="0.6"/>
<text x="202.9" y="613.12" font-size="11" fill="#262626">200</text>
<g transform="translate(272.85,603.8) scale(5.77750,5.74250)">
<path d="M-0.5 -0.5h1.8v1.8h-1.8z" fill="#4741e5"/>
<path d="M1 -0.5h1.3v1.8h-1.3z" fill="#463cde"/>
<path d="M2 -0.5h1.3v1.8h-1.3z" fill="#4332cb"/>
<path d="M3 -0.5h1.3v1.8h-1.3z" fill="#422ec0"/>
<path d="M4 -0.5h2.3v1.8h-2.3z" fill="#402ab4"/>
<path d="M6 -0.5h14.5v1.8h-14.5z" fill="#3e26a8"/>
<path d="M-0.5 1h1.8v1.3h-1.8z" fill="#4747eb"/>
<path d="M1 1h1.3v1.3h-1.3z" fill="#463cde"/>
<path d="M2 1h1.3v1.3h-1.3z" fill="#4537d5"/>
<path d="M3 1h1.3v1.3h-1.3z" fill="#4332cb"/>
<path d="M4 1h1.3v1.3h-1.3z" fill="#422ec0"/>
<path d="M5 1h1.3v1.3h-1.3z" fill="#402ab4"/>
<path d="M6 1h14.5v1.3h-14.5z" fill="#3e26a8"/>
<path d="M-0.5 2h1.8v1.3h-1.8z" fill="#484df0"/>
<path d="M1 2h1.3v1.3h-1.3z" fill="#4741e5"/>
<path d="M2 2h1.3v1.3h-1.3z" fill="#4537d5"/>
<path d="M3 2h1.3v1.3h-1.3z" fill="#4332cb"/>
<path d="M4 2h1.3v1.3h-1.3z" fill="#422ec0"/>
<path d="M5 2h2.3v1.3h-2.3z" fill="#402ab4"/>
<path d="M7 2h13.5v1.3h-13.5z" fill="#3e26a8"/>
<path d="M-0.5 3h1.8v1.3h-1.8z" fill="#4852f4"/>
<path d="M1 3h1.3v1.3h-1.3z" fill="#4747eb"/>
<path d="M2 3h1.3v1.3h-1.3z" fill="#463cde"/>
<path d="M3 3h1.3v1.3h-1.3z" fill="#4332cb"/>
<path d="M4 3h1.3v1.3h-1.3z" fill="#422ec0"/>
<path d="M5 3h2.3v1.3h-2.3z" fill="#402ab4"/>
<path d="M7 3h13.5v1.3h-13.5z" fill="#3e26a8"/>
<path d="M-0.5 4h1.8v1.3h-1.8z" fill="#465efb"/>
<path d="M1 4h1.3v1.3h-1.3z" fill="#484df0"/>
<path d="M2 4h1.3v1.3h-1.3z" fill="#4741e5"/>
<path d="M3 4h1.3v1.3h-1.3z" fill="#4537d5"/>
<path d="M4 4h1.3v1.3h-1.3z" fill="#4332cb"/>
<path d="M5 4h1.3v1.3h-1.3z" fill="#422ec0"/>
<path d="M6 4h2.3v1.3h-2.3z" fill="#402ab4"/>
<path d="M8 4h12.5v1.3h-12.5z" fill="#3e26a8"/>
<path d="M-0.5 5h1.8v1.3h-1.8z" fill="#4269fe"/>
<path d="M1 5h1.3v1.3h-1.3z" fill="#4758f8"/>
<path d="M2 5h1.3v1.3h-1.3z" fill="#4747eb"/>
<path d="M3 5h1.3v1.3h-1.3z" fill="#463cde"/>
<path d="M4 5h1.3v1.3h-1.3z" fill="#4332cb"/>
<path d="M5 5h1.3v1.3h-1.3z" fill="#422ec0"/>
<path d="M6 5h2.3v1.3h-2.3z" fill="#402ab4"/>
<path d="M8 5h12.5v1.3h-12.5z" fill="#3e26a8"/>
<path d="M-0.5 6h1.8v1.3h-1.8z" fill="#3875fe"/>
<path d="M1 6h1.3v1.3h-1.3z" fill="#465efb"/>
<path d="M2 6h1.3v1.3h-1.3z" fill="#4747eb"/>
<path d="M3 6h1.3v1.3h-1.3z" fill="#463cde"/>
<path d="M4 6h1.3v1.3h-1.3z" fill="#4332cb"/>
<path d="M5 6h1.3v1.3h-1.3z" fill="#422ec0"/>
<path d="M6 6h2.3v1.3h-2.3z" fill="#402ab4"/>
<path d="M8 6h12.5v1.3h-12.5z" fill="#3e26a8"/>
<path d="M-0.5 7h1.8v1.3h-1.8z" fill="#2e87f7"/>
<path d="M1 7h1.3v1.3h-1.3z" fill="#4269fe"/>
<path d="M2 7h1.3v1.3h-1.3z" fill="#4852f4"/>
<path d="M3 7h1.3v1.3h-1.3z" fill="#4741e5"/>
<path d="M4 7h1.3v1.3h-1.3z" fill="#4537d5"/>
<path d="M5 7h1.3v1.3h-1.3z" fill="#4332cb"/>
<path d="M6 7h1.3v1.3h-1.3z" fill="#422ec0"/>
<path d="M7 7h2.3v1.3h-2.3z" fill="#402ab4"/>
<path d="M9 7h11.5v1.3h-11.5z" fill="#3e26a8"/>
<path d="M-0.5 8h1.8v1.3h-1.8z" fill="#2797eb"/>
<path d="M1 8h1.3v1.3h-1.3z" fill="#3875fe"/>
<path d="M2 8h1.3v1.3h-1.3z" fill="#465efb"/>
<path d="M3 8h1.3v1.3h-1.3z" fill="#484df0"/>
<path d="M4 8h1.3v1.3h-1.3z" fill="#463cde"/>
<path d="M5 8h1.3v1.3h-1.3z" fill="#4537d5"/>
<path d="M6 8h2.3v1.3h-2.3z" fill="#422ec0"/>
<path d="M8 8h2.3v1.3h-2.3z" fill="#402ab4"/>
<path d="M10 8h10.5v1.3h-10.5z" fill="#3e26a8"/>
<path d="M-0.5 9h1.8v1.3h-1.8z" fill="#20a5e3"/>
<path d="M1 9h1.3v1.3h-1.3z" fill="#2e87f7"/>
<path d="M2 9h1.3v1.3h-1.3z" fill="#4563fd"/>
<path d="M3 9h1.3v1.3h-1.3z" fill="#484df0"/>
<path d="M4 9h1.3v1.3h-1.3z" fill="#4741e5"/>
<path d="M5 9h1.3v1.3h-1.3z" fill="#4537d5"/>
<path d="M6 9h1.3v1.3h-1.3z" fill="#4332cb"/>
<path d="M7 9h1.3v1.3h-1.3z" fill="#422ec0"/>
<path d="M8 9h2.3v1.3h-2.3z" fill="#402ab4"/>
<path d="M10 9h10.5v1.3h-10.5z" fill="#3e26a8"/>
<path d="M-0.5 10h1.8v1.3h-1.8z" fill="#12b1d6"/>
<path d="M1 10h1.3v1.3h-1.3z" fill="#2797eb"/>
<path d="M2 10h1.3v1.3h-1.3z" fill="#3e6fff"/>
<path d="M3 10h1.3v1.3h-1.3z" fill="#4758f8"/>
<path d="M4 10h1.3v1.3h-1.3z" fill="#4747eb"/>
<path d="M5 10h1.3v1.3h-1.3z" fill="#4537d5"/>
<path d="M6 10h1.3v1.3h-1.3z" fill="#4332cb"/>
<path d="M7 10h1.3v1.3h-1.3z" fill="#422ec0"/>
<path d="M8 10h3.3v1.3h-3.3z" fill="#402ab4"/>
<path d="M11 10h9.5v1.3h-9.5z" fill="#3e26a8"/>
<path d="M-0.5 11h1.8v1.3h-1.8z" fill="#0bbdbd"/>
<path d="M1 11h1.3v1.3h-1.3z" fill="#1ca9df"/>
<path d="M2 11h1.3v1.3h-1.3z" fill="#2d8cf3"/>
<path d="M3 11h1.3v1.3h-1.3z" fill="#4269fe"/>
<path d="M4 11h1.3v1.3h-1.3z" fill="#4852f4"/>
<path d="M5 11h1.3v1.3h-1.3z" fill="#4747eb"/>
<path d="M6 11h1.3v1.3h-1.3z" fill="#463cde"/>
<path d="M7 11h1.3v1.3h-1.3z" fill="#4332cb"/>
<path d="M8 11h1.3v1.3h-1.3z" fill="#422ec0"/>
<path d="M9 11h2.3v1.3h-2.3z" fill="#402ab4"/>
<path d="M11 11h9.5v1.3h-9.5z" fill="#3e26a8"/>
<path d="M-0.5 12h1.8v1.3h-1.8z" fill="#37c897"/>
<path d="M1 12h1.3v1.3h-1.3z" fill="#02bac3"/>
<path d="M2 12h1.3v1.3h-1.3z" fill="#20a5e3"/>
<path d="M3 12h1.3v1.3h-1.3z" fill="#2d8cf3"/>
<path d="M4 12h1.3v1.3h-1.3z" fill="#3e6fff"/>
<path d="M5 12h1.3v1.3h-1.3z" fill="#465efb"/>
<path d="M6 12h1.3v1.3h-1.3z" fill="#4747eb"/>
<path d="M7 12h1.3v1.3h-1.3z" fill="#4537d5"/>
<path d="M8 12h1.3v1.3h-1.3z" fill="#422ec0"/>
<path d="M9 12h3.3v1.3h-3.3z" fill="#402ab4"/>
<path d="M12 12h8.5v1.3h-8.5z" fill="#3e26a8"/>
<path d="M-0.5 13h1.8v1.3h-1.8z" fill="#64cd6f"/>
<path d="M1 13h1.3v1.3h-1.3z" fill="#31c69f"/>
<path d="M2 13h1.3v1.3h-1.3z" fill="#01b8ca"/>
<path d="M3 13h1.3v1.3h-1.3z" fill="#1ca9df"/>
<path d="M4 13h1.3v1.3h-1.3z" fill="#2b91ef"/>
<path d="M5 13h1.3v1.3h-1.3z" fill="#327cfc"/>
<path d="M6 13h1.3v1.3h-1.3z" fill="#4563fd"/>
<path d="M7 13h1.3v1.3h-1.3z" fill="#4747eb"/>
<path d="M8 13h1.3v1.3h-1.3z" fill="#4537d5"/>
<path d="M9 13h1.3v1.3h-1.3z" fill="#422ec0"/>
<path d="M10 13h4.3v1.3h-4.3z" fill="#402ab4"/>
<path d="M14 13h6.5v1.3h-6.5z" fill="#3e26a8"/>
<path d="M-0.5 14h1.8v1.3h-1.8z" fill="#9dc943"/>
<path d="M1 14h1.3v1.3h-1.3z" fill="#57cc7a"/>
<path d="M2 14h1.3v1.3h-1.3z" fill="#24c1ae"/>
<path d="M3 14h1.3v1.3h-1.3z" fill="#08b5d0"/>
<path d="M4 14h1.3v1.3h-1.3z" fill="#20a5e3"/>
<path d="M5 14h1.3v1.3h-1.3z" fill="#2b91ef"/>
<path d="M6 14h1.3v1.3h-1.3z" fill="#3875fe"/>
<path d="M7 14h1.3v1.3h-1.3z" fill="#465efb"/>
<path d="M8 14h1.3v1.3h-1.3z" fill="#4747eb"/>
<path d="M9 14h1.3v1.3h-1.3z" fill="#463cde"/>
<path d="M10 14h2.3v1.3h-2.3z" fill="#422ec0"/>
<path d="M12 14h3.3v1.3h-3.3z" fill="#402ab4"/>
<path d="M15 14h5.5v1.3h-5.5z" fill="#3e26a8"/>
<path d="M-0.5 15h1.8v1.3h-1.8z" fill="#dcbd29"/>
<path d="M1 15h1.3v1.3h-1.3z" fill="#8fcb4e"/>
<path d="M2 15h1.3v1.3h-1.3z" fill="#3fca8e"/>
<path d="M3 15h1.3v1.3h-1.3z" fill="#19bfb6"/>
<path d="M4 15h1.3v1.3h-1.3z" fill="#12b1d6"/>
<path d="M5 15h1.3v1.3h-1.3z" fill="#23a0e5"/>
<path d="M6 15h1.3v1.3h-1.3z" fill="#2e87f7"/>
<path d="M7 15h1.3v1.3h-1.3z" fill="#465efb"/>
<path d="M8 15h1.3v1.3h-1.3z" fill="#4747eb"/>
<path d="M9 15h1.3v1.3h-1.3z" fill="#4537d5"/>
<path d="M10 15h1.3v1.3h-1.3z" fill="#4332cb"/>
<path d="M11 15h2.3v1.3h-2.3z" fill="#422ec0"/>
<path d="M13 15h3.3v1.3h-3.3z" fill="#402ab4"/>
<path d="M16 15h4.5v1.3h-4.5z" fill="#3e26a8"/>
<path d="M-0.5 16h1.8v1.3h-1.8z" fill="#febe3c"/>
<path d="M1 16h1.3v1.3h-1.3z" fill="#d1bf27"/>
<path d="M2 16h1.3v1.3h-1.3z" fill="#81cc59"/>
<path d="M3 16h1.3v1.3h-1.3z" fill="#31c69f"/>
<path d="M4 16h1.3v1.3h-1.3z" fill="#02bac3"/>
<path d="M5 16h1.3v1.3h-1.3z" fill="#18addb"/>
<path d="M6 16h1.3v1.3h-1.3z" fill="#259be8"/>
<path d="M7 16h1.3v1.3h-1.3z" fill="#2f81fa"/>
<path d="M8 16h1.3v1.3h-1.3z" fill="#4563fd"/>
<path d="M9 16h1.3v1.3h-1.3z" fill="#484df0"/>
<path d="M10 16h1.3v1.3h-1.3z" fill="#463cde"/>
<path d="M11 16h1.3v1.3h-1.3z" fill="#4537d5"/>
<path d="M12 16h1.3v1.3h-1.3z" fill="#4332cb"/>
<path d="M13 16h1.3v1.3h-1.3z" fill="#422ec0"/>
<path d="M14 16h4.3v1.3h-4.3z" fill="#402ab4"/>
<path d="M18 16h2.5v1.3h-2.5z" fill="#3e26a8"/>
<path d="M-0.5 17h1.8v1.3h-1.8z" fill="#fad62d"/>
<path d="M1 17h1.3v1.3h-1.3z" fill="#febe3c"/>
<path d="M2 17h1.3v1.3h-1.3z" fill="#c5c22a"/>
<path d="M3 17h1.3v1.3h-1.3z" fill="#64cd6f"/>
<path d="M4 17h1.3v1.3h-1.3z" fill="#2cc4a7"/>
<path d="M5 17h1.3v1.3h-1.3z" fill="#01b8ca"/>
<path d="M6 17h1.3v1.3h-1.3z" fill="#1ca9df"/>
<path d="M7 17h1.3v1.3h-1.3z" fill="#2e87f7"/>
<path d="M8 17h1.3v1.3h-1.3z" fill="#4563fd"/>
<path d="M9 17h1.3v1.3h-1.3z" fill="#484df0"/>
<path d="M10 17h1.3v1.3h-1.3z" fill="#4741e5"/>
<path d="M11 17h1.3v1.3h-1.3z" fill="#463cde"/>
<path d="M12 17h1.3v1.3h-1.3z" fill="#4537d5"/>
<path d="M13 17h1.3v1.3h-1.3z" fill="#4332cb"/>
<path d="M14 17h2.3v1.3h-2.3z" fill="#422ec0"/>
<path d="M16 17h2.3v1.3h-2.3z" fill="#402ab4"/>
<path d="M18 17h2.5v1.3h-2.5z" fill="#3e26a8"/>
<path d="M-0.5 18h1.8v1.3h-1.8z" fill="#f5e924"/>
<path d="M1 18h1.3v1.3h-1.3z" fill="#fad62d"/>
<path d="M2 18h1.3v1.3h-1.3z" fill="#f8ba3d"/>
<path d="M3 18h1.3v1.3h-1.3z" fill="#b9c431"/>
<path d="M4 18h1.3v1.3h-1.3z" fill="#57cc7a"/>
<path d="M5 18h1.3v1.3h-1.3z" fill="#24c1ae"/>
<path d="M6 18h1.3v1.3h-1.3z" fill="#08b5d0"/>
<path d="M7 18h1.3v1.3h-1.3z" fill="#23a0e5"/>
<path d="M8 18h1.3v1.3h-1.3z" fill="#2d8cf3"/>
<path d="M9 18h1.3v1.3h-1.3z" fill="#3e6fff"/>
<path d="M10 18h1.3v1.3h-1.3z" fill="#4852f4"/>
<path d="M11 18h1.3v1.3h-1.3z" fill="#4747eb"/>
<path d="M12 18h1.3v1.3h-1.3z" fill="#463cde"/>
<path d="M13 18h1.3v1.3h-1.3z" fill="#4537d5"/>
<path d="M14 18h1.3v1.3h-1.3z" fill="#4332cb"/>
<path d="M15 18h2.3v1.3h-2.3z" fill="#422ec0"/>
<path d="M17 18h2.3v1.3h-2.3z" fill="#402ab4"/>
<path d="M19 18h1.5v1.3h-1.5z" fill="#3e26a8"/>
<path d="M-0.5 19h1.8v1.5h-1.8z" fill="#f9fb15"/>
<path d="M1 19h1.3v1.5h-1.3z" fill="#f5e924"/>
<path d="M2 19h1.3v1.5h-1.3z" fill="#fec934"/>
<path d="M3 19h1.3v1.5h-1.3z" fill="#f0ba36"/>
<path d="M4 19h1.3v1.5h-1.3z" fill="#9dc943"/>
<path d="M5 19h1.3v1.5h-1.3z" fill="#3fca8e"/>
<path d="M6 19h1.3v1.5h-1.3z" fill="#19bfb6"/>
<path d="M7 19h1.3v1.5h-1.3z" fill="#18addb"/>
<path d="M8 19h1.3v1.5h-1.3z" fill="#2b91ef"/>
<path d="M9 19h1.3v1.5h-1.3z" fill="#3875fe"/>
<path d="M10 19h1.3v1.5h-1.3z" fill="#4563fd"/>
<path d="M11 19h1.3v1.5h-1.3z" fill="#4852f4"/>
<path d="M12 19h1.3v1.5h-1.3z" fill="#4741e5"/>
<path d="M13 19h1.3v1.5h-1.3z" fill="#463cde"/>
<path d="M14 19h1.3v1.5h-1.3z" fill="#4537d5"/>
<path d="M15 19h1.3v1.5h-1.3z" fill="#4332cb"/>
<path d="M16 19h2.3v1.5h-2.3z" fill="#422ec0"/>
<path d="M18 19h2.5v1.5h-2.5z" fill="#402ab4"/>
</g>
<path fill="#fff" fill-rule="evenodd" d="M268.35 599.3h124.55v123.85h-124.55zM272.85 603.8h115.55v114.85h-115.55z"/>
<path d="M272.85 718.55H388.4" fill="none" stroke="#262626" stroke-width="0.7" stroke-opacity="0.8"/>
<path d="M272.75 603.8V718.65" fill="none" stroke="#262626" stroke-width="0.6" stroke-opacity="0.6"/>
<text x="272.85" y="731.9" font-size="10.85" fill="#262626" text-anchor="middle">0</text>
<text x="330.62" y="731.9" font-size="10.85" fill="#262626" text-anchor="middle">0.2</text>
<text x="388.4" y="731.9" font-size="10.85" fill="#262626" text-anchor="middle">0.4</text>
<text x="270.35" y="723.7" font-size="10.85" fill="#262626" text-anchor="end">0</text>
<text x="270.35" y="694.59" font-size="10.85" fill="#262626" text-anchor="end">0.1</text>
<text x="270.35" y="665.48" font-size="10.85" fill="#262626" text-anchor="end">0.2</text>
<text x="270.35" y="636.36" font-size="10.85" fill="#262626" text-anchor="end">0.3</text>
<text x="270.35" y="607.25" font-size="10.85" fill="#262626" text-anchor="end">0.4</text>
<text x="330.93" y="747.5" font-size="12" fill="#262626" text-anchor="middle">Exposed quarantine(q<tspan font-size="9.6" dy="5.4" dx="1.4">1</tspan><tspan dy="-5.4" dx="1.0" font-size="12">)</tspan></text>
<text transform="translate(245.55,662.27) rotate(-90)" font-size="11.9" fill="#262626" text-anchor="middle">Undocumented quarantine(q<tspan font-size="9.6" dy="5.4" dx="0.9">2</tspan><tspan dy="-5.4" dx="1.0" font-size="11.9">)</tspan></text>
<rect x="422.2" y="585.4" width="11" height="151.3" fill="url(#pg)" stroke="#262626" stroke-width="0.6"/>
<path d="M431.7 713.42h1.5" stroke="#262626" stroke-width="0.6"/>
<text x="438.1" y="717.22" font-size="11" fill="#262626">10%</text>
<path d="M431.7 687.27h1.5" stroke="#262626" stroke-width="0.6"/>
<text x="438.1" y="691.07" font-size="11" fill="#262626">20%</text>
<path d="M431.7 661.12h1.5" stroke="#262626" stroke-width="0.6"/>
<text x="438.1" y="664.92" font-size="11" fill="#262626">30%</text>
<path d="M431.7 634.96h1.5" stroke="#262626" stroke-width="0.6"/>
<text x="438.1" y="638.76" font-size="11" fill="#262626">40%</text>
<path d="M431.7 608.81h1.5" stroke="#262626" stroke-width="0.6"/>
<text x="438.1" y="612.61" font-size="11" fill="#262626">50%</text>
<g transform="translate(508.5,603.8) scale(5.74500,5.74250)">
<path d="M-0.5 -0.5h1.8v1.8h-1.8z" fill="#3fca8e"/>
<path d="M1 -0.5h1.3v1.8h-1.3z" fill="#24c1ae"/>
<path d="M2 -0.5h1.3v1.8h-1.3z" fill="#18addb"/>
<path d="M3 -0.5h1.3v1.8h-1.3z" fill="#2d8cf3"/>
<path d="M4 -0.5h1.3v1.8h-1.3z" fill="#3875fe"/>
<path d="M5 -0.5h1.3v1.8h-1.3z" fill="#465efb"/>
<path d="M6 -0.5h1.3v1.8h-1.3z" fill="#484df0"/>
<path d="M7 -0.5h2.3v1.8h-2.3z" fill="#4741e5"/>
<path d="M9 -0.5h5.3v1.8h-5.3z" fill="#422ec0"/>
<path d="M14 -0.5h6.5v1.8h-6.5z" fill="#3e26a8"/>
<path d="M-0.5 1h1.8v1.3h-1.8z" fill="#57cc7a"/>
<path d="M1 1h1.3v1.3h-1.3z" fill="#24c1ae"/>
<path d="M2 1h1.3v1.3h-1.3z" fill="#18addb"/>
<path d="M3 1h1.3v1.3h-1.3z" fill="#259be8"/>
<path d="M4 1h1.3v1.3h-1.3z" fill="#2f81fa"/>
<path d="M5 1h1.3v1.3h-1.3z" fill="#4269fe"/>
<path d="M6 1h1.3v1.3h-1.3z" fill="#484df0"/>
<path d="M7 1h2.3v1.3h-2.3z" fill="#4741e5"/>
<path d="M9 1h1.3v1.3h-1.3z" fill="#4537d5"/>
<path d="M10 1h5.3v1.3h-5.3z" fill="#422ec0"/>
<path d="M15 1h5.5v1.3h-5.5z" fill="#3e26a8"/>
<path d="M-0.5 2h1.8v1.3h-1.8z" fill="#72cd64"/>
<path d="M1 2h1.3v1.3h-1.3z" fill="#3fca8e"/>
<path d="M2 2h1.3v1.3h-1.3z" fill="#08b5d0"/>
<path d="M3 2h1.3v1.3h-1.3z" fill="#259be8"/>
<path d="M4 2h1.3v1.3h-1.3z" fill="#2f81fa"/>
<path d="M5 2h1.3v1.3h-1.3z" fill="#4269fe"/>
<path d="M6 2h1.3v1.3h-1.3z" fill="#484df0"/>
<path d="M7 2h2.3v1.3h-2.3z" fill="#4741e5"/>
<path d="M9 2h1.3v1.3h-1.3z" fill="#4537d5"/>
<path d="M10 2h7.3v1.3h-7.3z" fill="#422ec0"/>
<path d="M17 2h3.5v1.3h-3.5z" fill="#3e26a8"/>
<path d="M-0.5 3h1.8v1.3h-1.8z" fill="#9dc943"/>
<path d="M1 3h1.3v1.3h-1.3z" fill="#3fca8e"/>
<path d="M2 3h1.3v1.3h-1.3z" fill="#24c1ae"/>
<path d="M3 3h1.3v1.3h-1.3z" fill="#18addb"/>
<path d="M4 3h1.3v1.3h-1.3z" fill="#2d8cf3"/>
<path d="M5 3h1.3v1.3h-1.3z" fill="#3875fe"/>
<path d="M6 3h1.3v1.3h-1.3z" fill="#465efb"/>
<path d="M7 3h1.3v1.3h-1.3z" fill="#484df0"/>
<path d="M8 3h1.3v1.3h-1.3z" fill="#4741e5"/>
<path d="M9 3h2.3v1.3h-2.3z" fill="#4537d5"/>
<path d="M11 3h7.3v1.3h-7.3z" fill="#422ec0"/>
<path d="M18 3h2.5v1.3h-2.5z" fill="#3e26a8"/>
<path d="M-0.5 4h1.8v1.3h-1.8z" fill="#d1bf27"/>
<path d="M1 4h1.3v1.3h-1.3z" fill="#57cc7a"/>
<path d="M2 4h1.3v1.3h-1.3z" fill="#24c1ae"/>
<path d="M3 4h1.3v1.3h-1.3z" fill="#18addb"/>
<path d="M4 4h1.3v1.3h-1.3z" fill="#259be8"/>
<path d="M5 4h1.3v1.3h-1.3z" fill="#2f81fa"/>
<path d="M6 4h1.3v1.3h-1.3z" fill="#4269fe"/>
<path d="M7 4h1.3v1.3h-1.3z" fill="#484df0"/>
<path d="M8 4h2.3v1.3h-2.3z" fill="#4741e5"/>
<path d="M10 4h2.3v1.3h-2.3z" fill="#4537d5"/>
<path d="M12 4h8.5v1.3h-8.5z" fill="#422ec0"/>
<path d="M-0.5 5h1.8v1.3h-1.8z" fill="#f8ba3d"/>
<path d="M1 5h1.3v1.3h-1.3z" fill="#9dc943"/>
<path d="M2 5h1.3v1.3h-1.3z" fill="#3fca8e"/>
<path d="M3 5h1.3v1.3h-1.3z" fill="#02bac3"/>
<path d="M4 5h1.3v1.3h-1.3z" fill="#20a5e3"/>
<path d="M5 5h1.3v1.3h-1.3z" fill="#2d8cf3"/>
<path d="M6 5h1.3v1.3h-1.3z" fill="#3875fe"/>
<path d="M7 5h1.3v1.3h-1.3z" fill="#465efb"/>
<path d="M8 5h1.3v1.3h-1.3z" fill="#484df0"/>
<path d="M9 5h1.3v1.3h-1.3z" fill="#4741e5"/>
<path d="M10 5h3.3v1.3h-3.3z" fill="#4537d5"/>
<path d="M13 5h7.5v1.3h-7.5z" fill="#422ec0"/>
<path d="M-0.5 6h1.8v1.3h-1.8z" fill="#fec934"/>
<path d="M1 6h1.3v1.3h-1.3z" fill="#d1bf27"/>
<path d="M2 6h1.3v1.3h-1.3z" fill="#57cc7a"/>
<path d="M3 6h1.3v1.3h-1.3z" fill="#24c1ae"/>
<path d="M4 6h1.3v1.3h-1.3z" fill="#18addb"/>
<path d="M5 6h1.3v1.3h-1.3z" fill="#259be8"/>
<path d="M6 6h1.3v1.3h-1.3z" fill="#2f81fa"/>
<path d="M7 6h1.3v1.3h-1.3z" fill="#4269fe"/>
<path d="M8 6h1.3v1.3h-1.3z" fill="#465efb"/>
<path d="M9 6h1.3v1.3h-1.3z" fill="#484df0"/>
<path d="M10 6h1.3v1.3h-1.3z" fill="#4741e5"/>
<path d="M11 6h3.3v1.3h-3.3z" fill="#4537d5"/>
<path d="M14 6h6.5v1.3h-6.5z" fill="#422ec0"/>
<path d="M-0.5 7h1.8v1.3h-1.8z" fill="#fad62d"/>
<path d="M1 7h1.3v1.3h-1.3z" fill="#e6bb2d"/>
<path d="M2 7h1.3v1.3h-1.3z" fill="#72cd64"/>
<path d="M3 7h1.3v1.3h-1.3z" fill="#3fca8e"/>
<path d="M4 7h1.3v1.3h-1.3z" fill="#02bac3"/>
<path d="M5 7h1.3v1.3h-1.3z" fill="#20a5e3"/>
<path d="M6 7h1.3v1.3h-1.3z" fill="#2d8cf3"/>
<path d="M7 7h1.3v1.3h-1.3z" fill="#3875fe"/>
<path d="M8 7h1.3v1.3h-1.3z" fill="#465efb"/>
<path d="M9 7h1.3v1.3h-1.3z" fill="#484df0"/>
<path d="M10 7h2.3v1.3h-2.3z" fill="#4741e5"/>
<path d="M12 7h3.3v1.3h-3.3z" fill="#4537d5"/>
<path d="M15 7h5.5v1.3h-5.5z" fill="#422ec0"/>
<path d="M-0.5 8h1.8v1.3h-1.8z" fill="#f5e327"/>
<path d="M1 8h1.3v1.3h-1.3z" fill="#f8ba3d"/>
<path d="M2 8h1.3v1.3h-1.3z" fill="#b9c431"/>
<path d="M3 8h1.3v1.3h-1.3z" fill="#3fca8e"/>
<path d="M4 8h1.3v1.3h-1.3z" fill="#24c1ae"/>
<path d="M5 8h1.3v1.3h-1.3z" fill="#18addb"/>
<path d="M6 8h1.3v1.3h-1.3z" fill="#259be8"/>
<path d="M7 8h1.3v1.3h-1.3z" fill="#2f81fa"/>
<path d="M8 8h1.3v1.3h-1.3z" fill="#4269fe"/>
<path d="M9 8h1.3v1.3h-1.3z" fill="#465efb"/>
<path d="M10 8h1.3v1.3h-1.3z" fill="#484df0"/>
<path d="M11 8h2.3v1.3h-2.3z" fill="#4741e5"/>
<path d="M13 8h3.3v1.3h-3.3z" fill="#4537d5"/>
<path d="M16 8h4.5v1.3h-4.5z" fill="#422ec0"/>
<path d="M-0.5 9h1.8v1.3h-1.8z" fill="#f6ef20"/>
<path d="M1 9h1.3v1.3h-1.3z" fill="#fad62d"/>
<path d="M2 9h1.3v1.3h-1.3z" fill="#e6bb2d"/>
<path d="M3 9h1.3v1.3h-1.3z" fill="#9dc943"/>
<path d="M4 9h1.3v1.3h-1.3z" fill="#3fca8e"/>
<path d="M5 9h1.3v1.3h-1.3z" fill="#02bac3"/>
<path d="M6 9h1.3v1.3h-1.3z" fill="#18addb"/>
<path d="M7 9h1.3v1.3h-1.3z" fill="#2d8cf3"/>
<path d="M8 9h1.3v1.3h-1.3z" fill="#3875fe"/>
<path d="M9 9h1.3v1.3h-1.3z" fill="#4269fe"/>
<path d="M10 9h1.3v1.3h-1.3z" fill="#465efb"/>
<path d="M11 9h1.3v1.3h-1.3z" fill="#484df0"/>
<path d="M12 9h2.3v1.3h-2.3z" fill="#4741e5"/>
<path d="M14 9h3.3v1.3h-3.3z" fill="#4537d5"/>
<path d="M17 9h3.5v1.3h-3.5z" fill="#422ec0"/>
<path d="M-0.5 10h1.8v1.3h-1.8z" fill="#f6ef20"/>
<path d="M1 10h1.3v1.3h-1.3z" fill="#f5e327"/>
<path d="M2 10h1.3v1.3h-1.3z" fill="#fec934"/>
<path d="M3 10h1.3v1.3h-1.3z" fill="#d1bf27"/>
<path d="M4 10h1.3v1.3h-1.3z" fill="#72cd64"/>
<path d="M5 10h1.3v1.3h-1.3z" fill="#3fca8e"/>
<path d="M6 10h1.3v1.3h-1.3z" fill="#02bac3"/>
<path d="M7 10h1.3v1.3h-1.3z" fill="#18addb"/>
<path d="M8 10h1.3v1.3h-1.3z" fill="#259be8"/>
<path d="M9 10h1.3v1.3h-1.3z" fill="#2f81fa"/>
<path d="M10 10h1.3v1.3h-1.3z" fill="#4269fe"/>
<path d="M11 10h1.3v1.3h-1.3z" fill="#465efb"/>
<path d="M12 10h2.3v1.3h-2.3z" fill="#484df0"/>
<path d="M14 10h2.3v1.3h-2.3z" fill="#4741e5"/>
<path d="M16 10h3.3v1.3h-3.3z" fill="#4537d5"/>
<path d="M19 10h1.5v1.3h-1.5z" fill="#422ec0"/>
<path d="M-0.5 11h1.8v1.3h-1.8z" fill="#f6ef20"/>
<path d="M1 11h2.3v1.3h-2.3z" fill="#f5e327"/>
<path d="M3 11h1.3v1.3h-1.3z" fill="#f8ba3d"/>
<path d="M4 11h1.3v1.3h-1.3z" fill="#b9c431"/>
<path d="M5 11h1.3v1.3h-1.3z" fill="#57cc7a"/>
<path d="M6 11h1.3v1.3h-1.3z" fill="#31c69f"/>
<path d="M7 11h1.3v1.3h-1.3z" fill="#08b5d0"/>
<path d="M8 11h1.3v1.3h-1.3z" fill="#20a5e3"/>
<path d="M9 11h1.3v1.3h-1.3z" fill="#2d8cf3"/>
<path d="M10 11h1.3v1.3h-1.3z" fill="#3875fe"/>
<path d="M11 11h1.3v1.3h-1.3z" fill="#4269fe"/>
<path d="M12 11h1.3v1.3h-1.3z" fill="#465efb"/>
<path d="M13 11h2.3v1.3h-2.3z" fill="#484df0"/>
<path d="M15 11h2.3v1.3h-2.3z" fill="#4741e5"/>
<path d="M17 11h3.5v1.3h-3.5z" fill="#4537d5"/>
<path d="M-0.5 12h1.8v1.3h-1.8z" fill="#f9fb15"/>
<path d="M1 12h1.3v1.3h-1.3z" fill="#f6ef20"/>
<path d="M2 12h1.3v1.3h-1.3z" fill="#f5e327"/>
<path d="M3 12h1.3v1.3h-1.3z" fill="#fec934"/>
<path d="M4 12h1.3v1.3h-1.3z" fill="#d1bf27"/>
<path d="M5 12h1.3v1.3h-1.3z" fill="#9dc943"/>
<path d="M6 12h1.3v1.3h-1.3z" fill="#3fca8e"/>
<path d="M7 12h1.3v1.3h-1.3z" fill="#24c1ae"/>
<path d="M8 12h1.3v1.3h-1.3z" fill="#18addb"/>
<path d="M9 12h1.3v1.3h-1.3z" fill="#259be8"/>
<path d="M10 12h1.3v1.3h-1.3z" fill="#2d8cf3"/>
<path d="M11 12h1.3v1.3h-1.3z" fill="#3875fe"/>
<path d="M12 12h1.3v1.3h-1.3z" fill="#4269fe"/>
<path d="M13 12h1.3v1.3h-1.3z" fill="#465efb"/>
<path d="M14 12h2.3v1.3h-2.3z" fill="#484df0"/>
<path d="M16 12h2.3v1.3h-2.3z" fill="#4741e5"/>
<path d="M18 12h2.5v1.3h-2.5z" fill="#4537d5"/>
<path d="M-0.5 13h3.8v1.3h-3.8z" fill="#f6ef20"/>
<path d="M3 13h1.3v1.3h-1.3z" fill="#f5e327"/>
<path d="M4 13h1.3v1.3h-1.3z" fill="#fec934"/>
<path d="M5 13h1.3v1.3h-1.3z" fill="#b9c431"/>
<path d="M6 13h1.3v1.3h-1.3z" fill="#72cd64"/>
<path d="M7 13h1.3v1.3h-1.3z" fill="#31c69f"/>
<path d="M8 13h1.3v1.3h-1.3z" fill="#02bac3"/>
<path d="M9 13h1.3v1.3h-1.3z" fill="#18addb"/>
<path d="M10 13h1.3v1.3h-1.3z" fill="#259be8"/>
<path d="M11 13h1.3v1.3h-1.3z" fill="#2f81fa"/>
<path d="M12 13h1.3v1.3h-1.3z" fill="#3875fe"/>
<path d="M13 13h1.3v1.3h-1.3z" fill="#4269fe"/>
<path d="M14 13h1.3v1.3h-1.3z" fill="#465efb"/>
<path d="M15 13h2.3v1.3h-2.3z" fill="#484df0"/>
<path d="M17 13h2.3v1.3h-2.3z" fill="#4741e5"/>
<path d="M19 13h1.5v1.3h-1.5z" fill="#4537d5"/>
<path d="M-0.5 14h1.8v1.3h-1.8z" fill="#f6ef20"/>
<path d="M1 14h1.3v1.3h-1.3z" fill="#f9fb15"/>
<path d="M2 14h2.3v1.3h-2.3z" fill="#f6ef20"/>
<path d="M4 14h1.3v1.3h-1.3z" fill="#fad62d"/>
<path d="M5 14h1.3v1.3h-1.3z" fill="#e6bb2d"/>
<path d="M6 14h1.3v1.3h-1.3z" fill="#9dc943"/>
<path d="M7 14h1.3v1.3h-1.3z" fill="#57cc7a"/>
<path d="M8 14h1.3v1.3h-1.3z" fill="#24c1ae"/>
<path d="M9 14h1.3v1.3h-1.3z" fill="#08b5d0"/>
<path d="M10 14h1.3v1.3h-1.3z" fill="#20a5e3"/>
<path d="M11 14h1.3v1.3h-1.3z" fill="#2d8cf3"/>
<path d="M12 14h1.3v1.3h-1.3z" fill="#2f81fa"/>
<path d="M13 14h1.3v1.3h-1.3z" fill="#3875fe"/>
<path d="M14 14h1.3v1.3h-1.3z" fill="#4269fe"/>
<path d="M15 14h1.3v1.3h-1.3z" fill="#465efb"/>
<path d="M16 14h2.3v1.3h-2.3z" fill="#484df0"/>
<path d="M18 14h2.5v1.3h-2.5z" fill="#4741e5"/>
<path d="M-0.5 15h2.8v1.3h-2.8z" fill="#f6ef20"/>
<path d="M2 15h1.3v1.3h-1.3z" fill="#f9fb15"/>
<path d="M3 15h2.3v1.3h-2.3z" fill="#f6ef20"/>
<path d="M5 15h1.3v1.3h-1.3z" fill="#fad62d"/>
<path d="M6 15h1.3v1.3h-1.3z" fill="#e6bb2d"/>
<path d="M7 15h1.3v1.3h-1.3z" fill="#9dc943"/>
<path d="M8 15h1.3v1.3h-1.3z" fill="#3fca8e"/>
<path d="M9 15h1.3v1.3h-1.3z" fill="#24c1ae"/>
<path d="M10 15h1.3v1.3h-1.3z" fill="#18addb"/>
<path d="M11 15h1.3v1.3h-1.3z" fill="#20a5e3"/>
<path d="M12 15h1.3v1.3h-1.3z" fill="#2d8cf3"/>
<path d="M13 15h1.3v1.3h-1.3z" fill="#2f81fa"/>
<path d="M14 15h1.3v1.3h-1.3z" fill="#3875fe"/>
<path d="M15 15h1.3v1.3h-1.3z" fill="#4269fe"/>
<path d="M16 15h1.3v1.3h-1.3z" fill="#465efb"/>
<path d="M17 15h2.3v1.3h-2.3z" fill="#484df0"/>
<path d="M19 15h1.5v1.3h-1.5z" fill="#4741e5"/>
<path d="M-0.5 16h1.8v1.3h-1.8z" fill="#f5e327"/>
<path d="M1 16h1.3v1.3h-1.3z" fill="#f6ef20"/>
<path d="M2 16h2.3v1.3h-2.3z" fill="#f9fb15"/>
<path d="M4 16h2.3v1.3h-2.3z" fill="#f6ef20"/>
<path d="M6 16h1.3v1.3h-1.3z" fill="#fec934"/>
<path d="M7 16h1.3v1.3h-1.3z" fill="#d1bf27"/>
<path d="M8 16h1.3v1.3h-1.3z" fill="#72cd64"/>
<path d="M9 16h1.3v1.3h-1.3z" fill="#3fca8e"/>
<path d="M10 16h1.3v1.3h-1.3z" fill="#02bac3"/>
<path d="M11 16h1.3v1.3h-1.3z" fill="#18addb"/>
<path d="M12 16h1.3v1.3h-1.3z" fill="#20a5e3"/>
<path d="M13 16h1.3v1.3h-1.3z" fill="#2d8cf3"/>
<path d="M14 16h1.3v1.3h-1.3z" fill="#2f81fa"/>
<path d="M15 16h1.3v1.3h-1.3z" fill="#3875fe"/>
<path d="M16 16h1.3v1.3h-1.3z" fill="#4269fe"/>
<path d="M17 16h1.3v1.3h-1.3z" fill="#465efb"/>
<path d="M18 16h2.5v1.3h-2.5z" fill="#484df0"/>
<path d="M-0.5 17h1.8v1.3h-1.8z" fill="#f5e327"/>
<path d="M1 17h2.3v1.3h-2.3z" fill="#f6ef20"/>
<path d="M3 17h2.3v1.3h-2.3z" fill="#f9fb15"/>
<path d="M5 17h1.3v1.3h-1.3z" fill="#f6ef20"/>
<path d="M6 17h1.3v1.3h-1.3z" fill="#f5e327"/>
<path d="M7 17h1.3v1.3h-1.3z" fill="#fec934"/>
<path d="M8 17h1.3v1.3h-1.3z" fill="#d1bf27"/>
<path d="M9 17h1.3v1.3h-1.3z" fill="#72cd64"/>
<path d="M10 17h1.3v1.3h-1.3z" fill="#3fca8e"/>
<path d="M11 17h1.3v1.3h-1.3z" fill="#02bac3"/>
<path d="M12 17h1.3v1.3h-1.3z" fill="#18addb"/>
<path d="M13 17h1.3v1.3h-1.3z" fill="#20a5e3"/>
<path d="M14 17h1.3v1.3h-1.3z" fill="#2d8cf3"/>
<path d="M15 17h1.3v1.3h-1.3z" fill="#2f81fa"/>
<path d="M16 17h1.3v1.3h-1.3z" fill="#3875fe"/>
<path d="M17 17h1.3v1.3h-1.3z" fill="#4269fe"/>
<path d="M18 17h1.3v1.3h-1.3z" fill="#465efb"/>
<path d="M19 17h1.5v1.3h-1.5z" fill="#484df0"/>
<path d="M-0.5 18h1.8v1.3h-1.8z" fill="#fad62d"/>
<path d="M1 18h1.3v1.3h-1.3z" fill="#f5e327"/>
<path d="M2 18h1.3v1.3h-1.3z" fill="#f6ef20"/>
<path d="M3 18h3.3v1.3h-3.3z" fill="#f9fb15"/>
<path d="M6 18h1.3v1.3h-1.3z" fill="#f6ef20"/>
<path d="M7 18h1.3v1.3h-1.3z" fill="#f5e327"/>
<path d="M8 18h1.3v1.3h-1.3z" fill="#fec934"/>
<path d="M9 18h1.3v1.3h-1.3z" fill="#d1bf27"/>
<path d="M10 18h1.3v1.3h-1.3z" fill="#72cd64"/>
<path d="M11 18h1.3v1.3h-1.3z" fill="#3fca8e"/>
<path d="M12 18h1.3v1.3h-1.3z" fill="#02bac3"/>
<path d="M13 18h1.3v1.3h-1.3z" fill="#18addb"/>
<path d="M14 18h1.3v1.3h-1.3z" fill="#20a5e3"/>
<path d="M15 18h1.3v1.3h-1.3z" fill="#2d8cf3"/>
<path d="M16 18h1.3v1.3h-1.3z" fill="#2f81fa"/>
<path d="M17 18h1.3v1.3h-1.3z" fill="#3875fe"/>
<path d="M18 18h1.3v1.3h-1.3z" fill="#4269fe"/>
<path d="M19 18h1.5v1.3h-1.5z" fill="#465efb"/>
<path d="M-0.5 19h2.8v1.5h-2.8z" fill="#fad62d"/>
<path d="M2 19h2.3v1.5h-2.3z" fill="#f5e327"/>
<path d="M4 19h3.3v1.5h-3.3z" fill="#f9fb15"/>
<path d="M7 19h1.3v1.5h-1.3z" fill="#f6ef20"/>
<path d="M8 19h1.3v1.5h-1.3z" fill="#f5e327"/>
<path d="M9 19h1.3v1.5h-1.3z" fill="#fec934"/>
<path d="M10 19h1.3v1.5h-1.3z" fill="#d1bf27"/>
<path d="M11 19h1.3v1.5h-1.3z" fill="#72cd64"/>
<path d="M12 19h1.3v1.5h-1.3z" fill="#3fca8e"/>
<path d="M13 19h1.3v1.5h-1.3z" fill="#24c1ae"/>
<path d="M14 19h1.3v1.5h-1.3z" fill="#18addb"/>
<path d="M15 19h1.3v1.5h-1.3z" fill="#20a5e3"/>
<path d="M16 19h1.3v1.5h-1.3z" fill="#259be8"/>
<path d="M17 19h1.3v1.5h-1.3z" fill="#2f81fa"/>
<path d="M18 19h1.3v1.5h-1.3z" fill="#3875fe"/>
<path d="M19 19h1.5v1.5h-1.5z" fill="#4269fe"/>
</g>
<path fill="#fff" fill-rule="evenodd" d="M504 599.3h123.9v123.85h-123.9zM508.5 603.8h114.9v114.85h-114.9z"/>
<path d="M508.5 718.55H623.4" fill="none" stroke="#262626" stroke-width="0.7" stroke-opacity="0.8"/>
<text x="508.5" y="731.9" font-size="10.85" fill="#262626" text-anchor="middle">0</text>
<text x="565.95" y="731.9" font-size="10.85" fill="#262626" text-anchor="middle">0.2</text>
<text x="623.4" y="731.9" font-size="10.85" fill="#262626" text-anchor="middle">0.4</text>
<text x="506" y="723.7" font-size="10.85" fill="#262626" text-anchor="end">0</text>
<text x="506" y="694.59" font-size="10.85" fill="#262626" text-anchor="end">0.1</text>
<text x="506" y="665.48" font-size="10.85" fill="#262626" text-anchor="end">0.2</text>
<text x="506" y="636.36" font-size="10.85" fill="#262626" text-anchor="end">0.3</text>
<text x="506" y="607.25" font-size="10.85" fill="#262626" text-anchor="end">0.4</text>
<text x="566.25" y="747.5" font-size="12" fill="#262626" text-anchor="middle">Exposed quarantine(q<tspan font-size="9.6" dy="5.4" dx="1.4">1</tspan><tspan dy="-5.4" dx="1.0" font-size="12">)</tspan></text>
<text transform="translate(481.2,662.27) rotate(-90)" font-size="11.9" fill="#262626" text-anchor="middle">Undocumented quarantine(q<tspan font-size="9.6" dy="5.4" dx="0.9">2</tspan><tspan dy="-5.4" dx="1.0" font-size="11.9">)</tspan></text>
<rect x="657.5" y="585.4" width="11" height="151.3" fill="url(#pg)" stroke="#262626" stroke-width="0.6"/>
<path d="M667 727.22h1.5" stroke="#262626" stroke-width="0.6"/>
<text x="673.4" y="731.02" font-size="11" fill="#262626">5</text>
<path d="M667 700.9h1.5" stroke="#262626" stroke-width="0.6"/>
<text x="673.4" y="704.7" font-size="11" fill="#262626">10</text>
<path d="M667 674.58h1.5" stroke="#262626" stroke-width="0.6"/>
<text x="673.4" y="678.38" font-size="11" fill="#262626">15</text>
<path d="M667 648.26h1.5" stroke="#262626" stroke-width="0.6"/>
<text x="673.4" y="652.06" font-size="11" fill="#262626">20</text>
<path d="M667 621.94h1.5" stroke="#262626" stroke-width="0.6"/>
<text x="673.4" y="625.74" font-size="11" fill="#262626">25</text>
<path d="M667 595.61h1.5" stroke="#262626" stroke-width="0.6"/>
<text x="673.4" y="599.41" font-size="11" fill="#262626">30</text>
</svg>
</body></html>
